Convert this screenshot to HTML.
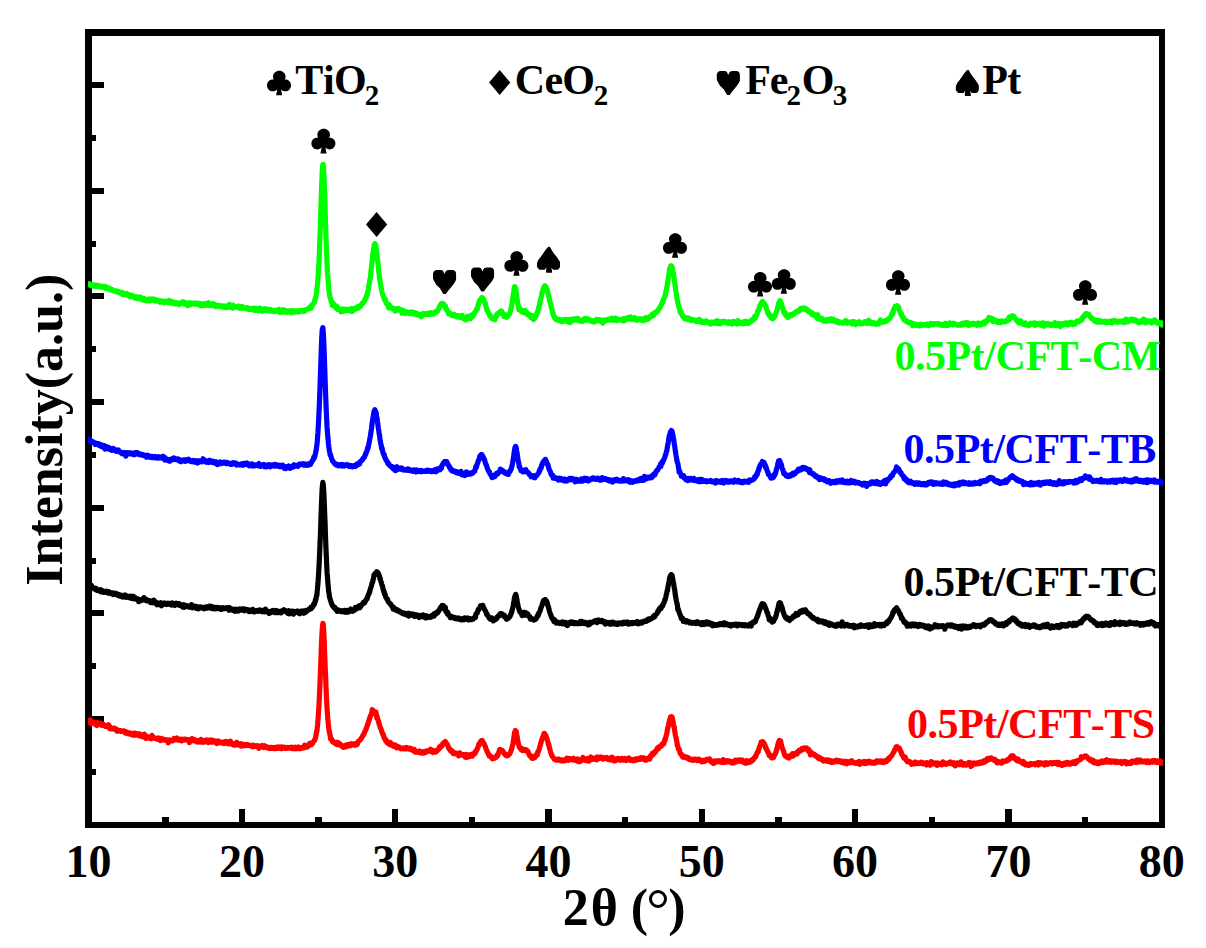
<!DOCTYPE html><html><head><meta charset="utf-8"><style>html,body{margin:0;padding:0;background:#fff;width:1206px;height:948px;overflow:hidden}svg{display:block}text{font-family:"Liberation Serif",serif;font-weight:bold;font-kerning:none}</style></head><body><svg width="1206" height="948" viewBox="0 0 1206 948"><rect width="1206" height="948" fill="#fff"/><g fill="#000" shape-rendering="crispEdges"><rect x="85" y="29" width="7" height="799"/><rect x="85" y="29" width="1080" height="7"/><rect x="1159" y="29" width="6" height="799"/><rect x="85" y="822" width="1080" height="6"/><rect x="162.00" y="817" width="6.5" height="5"/><rect x="238.65" y="809" width="6.5" height="13"/><rect x="315.30" y="817" width="6.5" height="5"/><rect x="391.95" y="809" width="6.5" height="13"/><rect x="468.60" y="817" width="6.5" height="5"/><rect x="545.25" y="809" width="6.5" height="13"/><rect x="621.90" y="817" width="6.5" height="5"/><rect x="698.55" y="809" width="6.5" height="13"/><rect x="775.20" y="817" width="6.5" height="5"/><rect x="851.85" y="809" width="6.5" height="13"/><rect x="928.50" y="817" width="6.5" height="5"/><rect x="1005.15" y="809" width="6.5" height="13"/><rect x="1081.80" y="817" width="6.5" height="5"/><rect x="92" y="82.00" width="12" height="6"/><rect x="92" y="134.83" width="4" height="6"/><rect x="92" y="187.67" width="12" height="6"/><rect x="92" y="240.50" width="4" height="6"/><rect x="92" y="293.34" width="12" height="6"/><rect x="92" y="346.17" width="4" height="6"/><rect x="92" y="399.01" width="12" height="6"/><rect x="92" y="451.84" width="4" height="6"/><rect x="92" y="504.68" width="12" height="6"/><rect x="92" y="557.51" width="4" height="6"/><rect x="92" y="610.35" width="12" height="6"/><rect x="92" y="663.18" width="4" height="6"/><rect x="92" y="716.02" width="12" height="6"/><rect x="92" y="768.85" width="4" height="6"/></g><defs><clipPath id="cp"><rect x="88" y="30" width="1075.2" height="798"/></clipPath></defs><g clip-path="url(#cp)"><polyline fill="none" stroke="#00ff00" stroke-width="5.2" stroke-linejoin="round" stroke-linecap="butt" points="88,284.9 88.35,283.7 88.7,284.5 89.05,283.7 89.4,284.3 89.75,283.9 90.1,284.7 90.45,285.1 90.8,284.6 91.15,285.8 91.5,285.4 91.85,284.9 92.2,285.2 92.55,285.5 92.9,285.7 93.25,286.1 93.6,284.9 93.95,285.6 94.3,284.9 94.65,286.1 95,285.1 95.35,285.9 95.7,285.2 96.05,286.5 96.4,285.4 96.75,285.3 97.1,285.3 97.45,285.7 97.8,285.5 98.15,286.0 98.5,285.4 98.85,285.8 99.2,286.7 99.55,286.4 99.9,286.1 100.25,286.0 100.6,286.1 100.95,286.4 101.3,286.7 101.65,287.0 102,287.3 102.35,287.3 102.7,286.8 103.05,286.5 103.4,287.0 103.75,286.9 104.1,287.1 104.45,286.9 104.8,287.1 105.15,286.4 105.5,286.8 105.85,287.4 106.2,288.7 106.55,287.7 106.9,287.9 107.25,288.0 107.6,287.8 107.95,288.2 108.3,288.3 108.65,288.3 109,288.3 109.35,289.3 109.7,288.2 110.05,289.5 110.4,289.9 110.75,289.4 111.1,290.1 111.45,289.6 111.8,290.0 112.15,290.1 112.5,289.8 112.85,290.2 113.2,290.2 113.55,290.5 113.9,290.9 114.25,291.0 114.6,291.0 114.95,291.0 115.3,291.2 115.65,291.1 116,291.0 116.35,291.3 116.7,291.8 117.05,290.9 117.4,292.0 117.75,291.7 118.1,291.7 118.45,292.2 118.8,292.2 119.15,291.8 119.5,292.8 119.85,293.1 120.2,292.0 120.55,293.2 120.9,293.0 121.25,293.4 121.6,293.9 121.95,293.7 122.3,292.4 122.65,292.7 123,293.9 123.35,294.7 123.7,293.8 124.05,294.2 124.4,293.7 124.75,294.6 125.1,294.2 125.45,294.2 125.8,294.0 126.15,294.8 126.5,294.4 126.85,293.5 127.2,294.9 127.55,294.3 127.9,294.3 128.25,294.4 128.6,294.9 128.95,296.0 129.3,294.8 129.65,295.1 130,295.4 130.35,296.6 130.7,296.4 131.05,295.5 131.4,295.6 131.75,295.8 132.1,295.3 132.45,296.5 132.8,296.7 133.15,296.1 133.5,296.6 133.85,296.7 134.2,296.6 134.55,297.2 134.9,298.1 135.25,298.0 135.6,297.0 135.95,296.8 136.3,297.7 136.65,298.3 137,297.5 137.35,297.4 137.7,298.4 138.05,298.4 138.4,297.9 138.75,298.6 139.1,298.0 139.45,297.0 139.8,297.6 140.15,298.4 140.5,298.3 140.85,297.2 141.2,298.4 141.55,299.2 141.9,298.6 142.25,298.8 142.6,300.0 142.95,298.8 143.3,299.4 143.65,299.1 144,299.9 144.35,298.5 144.7,300.3 145.05,299.4 145.4,300.4 145.75,300.0 146.1,299.9 146.45,299.9 146.8,299.9 147.15,299.7 147.5,301.0 147.85,299.8 148.2,299.8 148.55,300.2 148.9,299.0 149.25,299.1 149.6,300.8 149.95,299.8 150.3,299.4 150.65,300.8 151,299.5 151.35,299.4 151.7,299.1 152.05,299.5 152.4,299.3 152.75,299.7 153.1,299.3 153.45,299.7 153.8,299.6 154.15,299.6 154.5,299.2 154.85,299.5 155.2,300.0 155.55,301.1 155.9,300.5 156.25,300.0 156.6,300.7 156.95,300.6 157.3,300.2 157.65,300.7 158,300.5 158.35,301.3 158.7,301.1 159.05,300.7 159.4,301.2 159.75,300.9 160.1,302.3 160.45,301.3 160.8,300.9 161.15,301.1 161.5,301.2 161.85,301.3 162.2,300.9 162.55,301.2 162.9,301.4 163.25,301.7 163.6,301.4 163.95,302.5 164.3,301.5 164.65,302.4 165,301.6 165.35,302.1 165.7,301.5 166.05,302.0 166.4,301.3 166.75,302.0 167.1,301.3 167.45,301.9 167.8,301.2 168.15,302.6 168.5,301.6 168.85,301.4 169.2,300.5 169.55,301.6 169.9,302.7 170.25,301.8 170.6,302.5 170.95,301.3 171.3,301.9 171.65,303.0 172,302.2 172.35,301.7 172.7,302.7 173.05,302.8 173.4,302.4 173.75,302.8 174.1,303.8 174.45,302.8 174.8,302.5 175.15,303.7 175.5,303.2 175.85,303.3 176.2,303.6 176.55,302.7 176.9,303.1 177.25,303.6 177.6,303.9 177.95,303.2 178.3,303.3 178.65,304.2 179,303.4 179.35,304.6 179.7,303.4 180.05,303.2 180.4,302.9 180.75,302.9 181.1,302.8 181.45,302.8 181.8,303.0 182.15,302.0 182.5,302.4 182.85,302.9 183.2,302.9 183.55,302.7 183.9,302.0 184.25,302.5 184.6,304.2 184.95,303.2 185.3,302.9 185.65,302.7 186,303.9 186.35,303.1 186.7,303.7 187.05,303.8 187.4,304.0 187.75,305.8 188.1,304.1 188.45,303.4 188.8,304.5 189.15,304.5 189.5,304.7 189.85,302.5 190.2,305.0 190.55,304.4 190.9,304.3 191.25,304.2 191.6,304.0 191.95,303.9 192.3,303.1 192.65,303.7 193,303.8 193.35,303.6 193.7,303.2 194.05,303.3 194.4,303.7 194.75,303.5 195.1,304.1 195.45,303.5 195.8,303.6 196.15,303.4 196.5,303.9 196.85,303.0 197.2,304.2 197.55,304.5 197.9,304.6 198.25,304.4 198.6,304.4 198.95,304.1 199.3,304.4 199.65,303.5 200,304.9 200.35,305.4 200.7,304.5 201.05,303.9 201.4,304.8 201.75,304.6 202.1,305.9 202.45,305.0 202.8,303.8 203.15,304.9 203.5,304.8 203.85,305.3 204.2,305.0 204.55,303.7 204.9,304.8 205.25,305.4 205.6,304.8 205.95,304.4 206.3,303.7 206.65,304.9 207,303.8 207.35,304.5 207.7,305.4 208.05,304.8 208.4,302.6 208.75,304.4 209.1,305.7 209.45,304.3 209.8,304.7 210.15,305.2 210.5,304.5 210.85,304.3 211.2,305.1 211.55,305.5 211.9,304.8 212.25,305.0 212.6,305.4 212.95,303.6 213.3,305.3 213.65,305.1 214,305.4 214.35,305.8 214.7,305.1 215.05,304.5 215.4,305.6 215.75,306.5 216.1,305.3 216.45,306.4 216.8,306.3 217.15,306.1 217.5,305.7 217.85,305.8 218.2,305.9 218.55,306.1 218.9,305.3 219.25,306.2 219.6,305.6 219.95,306.3 220.3,306.2 220.65,306.5 221,306.2 221.35,306.0 221.7,306.7 222.05,306.5 222.4,306.8 222.75,306.3 223.1,306.6 223.45,307.1 223.8,306.0 224.15,306.7 224.5,307.2 224.85,307.4 225.2,306.2 225.55,306.7 225.9,307.2 226.25,306.9 226.6,307.4 226.95,306.4 227.3,306.9 227.65,305.7 228,307.4 228.35,305.7 228.7,306.8 229.05,307.0 229.4,304.3 229.75,306.7 230.1,306.9 230.45,306.0 230.8,307.1 231.15,307.0 231.5,306.4 231.85,307.1 232.2,306.7 232.55,306.8 232.9,308.1 233.25,305.0 233.6,306.8 233.95,307.3 234.3,307.4 234.65,306.7 235,307.0 235.35,306.8 235.7,307.0 236.05,307.1 236.4,307.3 236.75,307.0 237.1,306.8 237.45,306.6 237.8,307.1 238.15,306.1 238.5,306.2 238.85,306.7 239.2,306.3 239.55,307.6 239.9,308.3 240.25,307.2 240.6,307.3 240.95,307.3 241.3,307.0 241.65,307.2 242,307.4 242.35,306.7 242.7,308.2 243.05,307.5 243.4,307.6 243.75,307.3 244.1,307.5 244.45,308.3 244.8,307.6 245.15,308.0 245.5,308.4 245.85,308.0 246.2,308.4 246.55,308.0 246.9,308.4 247.25,307.9 247.6,308.8 247.95,307.8 248.3,308.4 248.65,309.6 249,309.1 249.35,308.9 249.7,308.7 250.05,308.8 250.4,309.0 250.75,308.9 251.1,309.1 251.45,309.5 251.8,308.8 252.15,309.2 252.5,309.8 252.85,309.1 253.2,309.6 253.55,308.1 253.9,309.0 254.25,309.7 254.6,309.3 254.95,310.6 255.3,309.2 255.65,308.8 256,308.2 256.35,310.5 256.7,308.4 257.05,309.7 257.4,309.4 257.75,310.0 258.1,310.6 258.45,309.4 258.8,309.1 259.15,310.0 259.5,309.5 259.85,308.1 260.2,310.5 260.55,309.7 260.9,310.0 261.25,309.2 261.6,309.7 261.95,310.1 262.3,311.1 262.65,309.5 263,309.6 263.35,310.1 263.7,309.2 264.05,309.4 264.4,310.2 264.75,310.4 265.1,310.3 265.45,308.7 265.8,309.8 266.15,310.6 266.5,310.1 266.85,309.3 267.2,310.2 267.55,309.6 267.9,309.2 268.25,309.5 268.6,310.7 268.95,309.7 269.3,310.0 269.65,310.3 270,309.4 270.35,310.6 270.7,309.8 271.05,311.0 271.4,310.4 271.75,310.9 272.1,310.9 272.45,310.2 272.8,310.4 273.15,311.3 273.5,310.9 273.85,310.9 274.2,310.7 274.55,311.4 274.9,310.4 275.25,310.8 275.6,311.2 275.95,310.4 276.3,310.5 276.65,310.7 277,310.5 277.35,311.4 277.7,309.9 278.05,310.1 278.4,309.7 278.75,310.3 279.1,309.4 279.45,310.2 279.8,312.3 280.15,310.0 280.5,310.3 280.85,311.4 281.2,310.6 281.55,311.2 281.9,312.4 282.25,310.7 282.6,311.1 282.95,311.0 283.3,309.6 283.65,311.4 284,310.7 284.35,310.9 284.7,311.2 285.05,311.7 285.4,310.6 285.75,311.5 286.1,312.1 286.45,311.9 286.8,311.7 287.15,312.3 287.5,311.5 287.85,310.9 288.2,311.4 288.55,311.3 288.9,311.7 289.25,311.8 289.6,311.5 289.95,310.8 290.3,311.3 290.65,311.9 291,311.3 291.35,312.0 291.7,312.7 292.05,310.7 292.4,311.9 292.75,310.6 293.1,311.1 293.45,311.0 293.8,311.9 294.15,311.1 294.5,311.1 294.85,312.1 295.2,310.9 295.55,311.1 295.9,311.4 296.25,311.0 296.6,311.4 296.95,311.0 297.3,311.3 297.65,311.7 298,311.5 298.35,311.2 298.7,311.3 299.05,311.1 299.4,311.9 299.75,311.5 300.1,310.6 300.45,310.4 300.8,311.1 301.15,310.9 301.5,311.1 301.85,310.8 302.2,310.6 302.55,310.8 302.9,310.7 303.25,310.5 303.6,311.3 303.95,310.5 304.3,310.6 304.65,311.1 305,310.2 305.35,310.4 305.7,309.9 306.05,309.9 306.4,309.4 306.75,309.4 307.1,309.4 307.45,309.1 307.8,309.0 308.15,309.0 308.5,308.3 308.85,308.4 309.2,308.4 309.55,307.6 309.9,307.3 310.25,307.6 310.6,306.7 310.95,308.3 311.3,305.6 311.65,305.5 312,305.8 312.35,305.5 312.7,304.4 313.05,304.3 313.4,303.8 313.75,302.9 314.1,302.8 314.45,301.1 314.8,301.2 315.15,298.2 315.5,298.7 315.85,296.5 316.2,294.6 316.55,292.0 316.9,288.5 317.25,286.4 317.6,283.4 317.95,278.4 318.3,273.5 318.65,267.2 319,260.8 319.35,254.5 319.7,244.2 320.05,235.0 320.4,224.4 320.75,213.7 321.1,202.0 321.45,190.2 321.8,182.3 322.15,172.8 322.5,167.8 322.85,164.5 323,164.4 323.2,164.4 323.55,168.7 323.9,174.9 324.25,183.5 324.6,193.8 324.95,204.9 325.3,216.4 325.65,227.4 326,237.2 326.35,246.6 326.7,255.2 327.05,262.9 327.4,272.2 327.75,275.2 328.1,280.8 328.45,283.9 328.8,289.2 329.15,291.7 329.5,294.1 329.85,296.5 330.2,297.8 330.55,298.5 330.9,300.2 331.25,302.1 331.6,301.5 331.95,301.8 332.3,305.4 332.65,303.3 333,303.1 333.35,303.7 333.7,305.9 334.05,304.4 334.4,306.4 334.75,306.6 335.1,306.6 335.45,306.9 335.8,308.1 336.15,306.7 336.5,306.8 336.85,306.3 337.2,308.2 337.55,308.3 337.9,309.6 338.25,309.0 338.6,308.6 338.95,309.7 339.3,309.1 339.65,309.1 340,309.0 340.35,309.2 340.7,309.3 341.05,311.9 341.4,310.6 341.75,309.4 342.1,309.2 342.45,309.0 342.8,311.5 343.15,309.7 343.5,309.2 343.85,309.3 344.2,309.2 344.55,311.0 344.9,309.5 345.25,309.5 345.6,309.4 345.95,309.8 346.3,309.2 346.65,310.4 347,309.8 347.35,309.7 347.7,310.0 348.05,310.5 348.4,309.4 348.75,309.3 349.1,310.4 349.45,310.5 349.8,310.0 350.15,309.6 350.5,309.4 350.85,311.2 351.2,308.9 351.55,310.5 351.9,308.4 352.25,311.3 352.6,309.5 352.95,308.6 353.3,309.5 353.65,309.2 354,309.3 354.35,309.8 354.7,309.4 355.05,308.5 355.4,308.5 355.75,308.3 356.1,307.7 356.45,308.3 356.8,307.8 357.15,307.9 357.5,308.3 357.85,306.5 358.2,306.4 358.55,307.9 358.9,307.2 359.25,307.3 359.6,306.6 359.95,306.6 360.3,305.5 360.65,306.3 361,305.5 361.35,304.6 361.7,304.5 362.05,303.5 362.4,303.6 362.75,303.6 363.1,302.8 363.45,302.3 363.8,302.0 364.15,301.4 364.5,300.3 364.85,299.9 365.2,299.9 365.55,298.4 365.9,298.0 366.25,297.2 366.6,295.4 366.95,294.2 367.3,294.5 367.65,291.5 368,290.8 368.35,288.9 368.7,286.7 369.05,284.8 369.4,283.0 369.75,280.4 370.1,278.7 370.45,277.5 370.8,273.0 371.15,269.9 371.5,266.8 371.85,263.8 372.2,260.6 372.55,257.0 372.9,253.5 373.25,251.2 373.6,248.8 373.95,246.7 374.3,244.5 374.65,245.1 374.9,243.7 375,243.7 375.35,244.5 375.7,245.0 376.05,248.2 376.4,249.9 376.75,253.0 377.1,255.6 377.45,259.0 377.8,260.9 378.15,265.4 378.5,269.1 378.85,272.3 379.2,274.5 379.55,277.9 379.9,280.4 380.25,282.6 380.6,284.8 380.95,286.4 381.3,288.8 381.65,289.4 382,292.1 382.35,293.4 382.7,294.1 383.05,295.3 383.4,296.4 383.75,297.2 384.1,298.2 384.45,299.4 384.8,299.5 385.15,299.3 385.5,301.0 385.85,302.2 386.2,303.0 386.55,303.2 386.9,304.3 387.25,304.1 387.6,304.4 387.95,305.4 388.3,305.1 388.65,308.0 389,304.4 389.35,307.0 389.7,305.6 390.05,307.0 390.4,307.6 390.75,307.0 391.1,308.0 391.45,307.6 391.8,308.4 392.15,308.7 392.5,308.3 392.85,308.9 393.2,308.9 393.55,308.9 393.9,308.5 394.25,309.2 394.6,309.3 394.95,311.0 395.3,309.1 395.65,309.5 396,309.4 396.35,310.6 396.7,309.3 397.05,309.4 397.4,308.8 397.75,310.0 398.1,309.1 398.45,308.4 398.8,308.6 399.15,309.0 399.5,309.2 399.85,309.6 400.2,309.6 400.55,309.6 400.9,310.4 401.25,309.7 401.6,311.0 401.95,313.0 402.3,310.8 402.65,311.0 403,311.0 403.35,311.7 403.7,310.7 404.05,311.7 404.4,311.3 404.75,312.2 405.1,313.5 405.45,312.6 405.8,313.1 406.15,312.2 406.5,312.6 406.85,311.9 407.2,312.4 407.55,312.7 407.9,312.4 408.25,312.8 408.6,312.8 408.95,313.4 409.3,313.0 409.65,312.6 410,312.3 410.35,313.0 410.7,312.3 411.05,313.7 411.4,313.0 411.75,312.8 412.1,311.9 412.45,312.3 412.8,313.2 413.15,313.5 413.5,312.4 413.85,313.3 414.2,313.0 414.55,314.1 414.9,313.5 415.25,313.0 415.6,313.4 415.95,313.1 416.3,314.0 416.65,314.8 417,314.4 417.35,314.3 417.7,314.1 418.05,314.9 418.4,314.4 418.75,315.2 419.1,315.1 419.45,314.5 419.8,314.5 420.15,314.9 420.5,314.7 420.85,315.5 421.2,316.8 421.55,314.4 421.9,315.0 422.25,314.2 422.6,314.2 422.95,313.4 423.3,314.1 423.65,314.7 424,314.4 424.35,314.1 424.7,314.0 425.05,314.0 425.4,313.8 425.75,314.2 426.1,313.7 426.45,313.4 426.8,313.8 427.15,314.1 427.5,314.5 427.85,314.4 428.2,314.1 428.55,313.4 428.9,314.0 429.25,313.3 429.6,314.5 429.95,314.0 430.3,313.8 430.65,312.6 431,314.0 431.35,313.9 431.7,313.0 432.05,313.9 432.4,313.6 432.75,313.3 433.1,313.5 433.45,314.0 433.8,313.3 434.15,313.1 434.5,312.1 434.85,312.4 435.2,312.5 435.55,312.0 435.9,312.6 436.25,311.7 436.6,311.2 436.95,310.9 437.3,310.5 437.65,311.1 438,309.6 438.35,309.5 438.7,308.4 439.05,308.4 439.4,306.6 439.75,306.7 440.1,306.5 440.45,305.3 440.8,304.1 441.15,304.8 441.5,303.9 441.85,303.4 442.2,303.6 442.55,303.7 442.9,303.5 443.25,303.6 443.6,304.1 443.95,305.0 444.3,305.2 444.65,306.3 445,306.7 445.35,305.8 445.7,308.6 446.05,308.1 446.4,309.2 446.75,310.2 447.1,310.8 447.45,310.7 447.8,311.5 448.15,311.7 448.5,313.9 448.85,312.5 449.2,313.5 449.55,313.2 449.9,313.0 450.25,313.8 450.6,314.4 450.95,314.2 451.3,314.6 451.65,315.4 452,315.6 452.35,315.3 452.7,315.0 453.05,314.5 453.4,315.1 453.75,315.1 454.1,314.2 454.45,316.1 454.8,315.8 455.15,315.8 455.5,315.8 455.85,316.1 456.2,316.1 456.55,315.8 456.9,316.7 457.25,315.7 457.6,315.6 457.95,316.9 458.3,316.1 458.65,315.9 459,316.2 459.35,317.0 459.7,317.3 460.05,316.1 460.4,317.1 460.75,316.2 461.1,316.8 461.45,317.3 461.8,316.9 462.15,315.4 462.5,317.0 462.85,316.5 463.2,318.5 463.55,317.7 463.9,318.2 464.25,318.0 464.6,318.9 464.95,319.5 465.3,318.3 465.65,318.2 466,319.9 466.35,318.7 466.7,318.9 467.05,319.2 467.4,318.5 467.75,316.1 468.1,318.2 468.45,317.4 468.8,318.3 469.15,318.4 469.5,318.0 469.85,317.5 470.2,318.9 470.55,317.1 470.9,316.5 471.25,317.0 471.6,314.9 471.95,317.3 472.3,314.9 472.65,315.6 473,315.2 473.35,315.6 473.7,314.3 474.05,314.2 474.4,313.0 474.75,312.7 475.1,312.0 475.45,311.3 475.8,311.2 476.15,309.8 476.5,309.6 476.85,308.4 477.2,308.4 477.55,308.5 477.9,305.6 478.25,305.2 478.6,303.0 478.95,303.2 479.3,301.0 479.65,301.5 480,299.9 480.35,300.7 480.7,299.8 481.05,298.5 481.4,298.2 481.75,297.9 482,297.6 482.1,297.8 482.45,297.9 482.8,298.2 483.15,298.9 483.5,298.9 483.85,301.4 484.2,301.1 484.55,302.2 484.9,302.3 485.25,303.0 485.6,305.2 485.95,306.4 486.3,307.0 486.65,309.7 487,309.3 487.35,310.4 487.7,311.2 488.05,312.3 488.4,313.0 488.75,313.3 489.1,313.9 489.45,315.1 489.8,315.9 490.15,314.8 490.5,316.1 490.85,316.8 491.2,316.7 491.55,317.8 491.9,318.5 492.25,318.0 492.6,318.2 492.95,317.9 493.3,318.2 493.65,319.0 494,318.7 494.35,318.8 494.7,318.1 495.05,319.7 495.4,317.2 495.75,317.1 496.1,316.5 496.45,314.9 496.8,315.2 497.15,315.3 497.5,313.6 497.85,314.1 498.2,314.1 498.55,313.0 498.9,313.4 499.25,313.0 499.6,311.8 499.95,311.7 500.3,312.1 500.4,311.6 500.65,311.3 501,311.5 501.35,312.3 501.7,311.0 502.05,313.7 502.4,313.2 502.75,313.2 503.1,314.1 503.45,313.8 503.8,316.5 504.15,313.9 504.5,315.6 504.85,315.1 505.2,316.3 505.55,315.3 505.9,316.9 506.25,317.3 506.6,315.8 506.95,316.0 507.3,316.8 507.65,316.3 508,315.6 508.35,314.7 508.7,314.2 509.05,314.6 509.4,313.7 509.75,313.0 510.1,311.9 510.45,311.2 510.8,309.6 511.15,307.5 511.5,306.8 511.85,304.3 512.2,302.7 512.55,299.7 512.9,297.8 513.25,295.2 513.6,292.7 513.95,290.7 514.3,287.6 514.65,286.6 514.9,287.3 515,286.7 515.35,288.0 515.7,288.7 516.05,290.9 516.4,293.5 516.75,295.3 517.1,298.9 517.45,302.0 517.8,303.7 518.15,304.9 518.5,305.7 518.85,309.8 519.2,308.1 519.55,308.7 519.9,309.2 520.25,309.0 520.6,310.1 520.95,310.5 521.3,311.5 521.65,311.1 522,311.0 522.35,311.0 522.7,311.7 523.05,312.1 523.4,311.0 523.75,312.6 524.1,311.9 524.45,311.6 524.8,311.5 525.1,310.3 525.15,311.9 525.5,312.5 525.85,312.7 526.2,313.7 526.55,312.3 526.9,313.3 527.25,313.6 527.6,314.2 527.95,314.9 528.3,315.0 528.65,314.6 529,315.3 529.35,314.3 529.7,315.6 530.05,316.0 530.4,316.5 530.75,317.5 531.1,317.4 531.45,316.0 531.8,317.5 532.15,317.4 532.5,317.5 532.85,315.6 533.2,318.1 533.55,319.7 533.9,317.9 534.25,317.0 534.6,317.1 534.95,317.9 535.3,317.0 535.65,316.6 536,315.9 536.35,315.3 536.7,314.8 537.05,312.8 537.4,313.0 537.75,311.2 538.1,310.1 538.45,308.0 538.8,308.6 539.15,306.0 539.5,305.1 539.85,303.6 540.2,300.8 540.55,299.9 540.9,298.3 541.25,297.2 541.6,295.4 541.95,293.3 542.3,292.0 542.65,290.9 543,289.6 543.35,288.7 543.7,287.8 544.05,286.9 544.4,286.1 544.75,285.7 544.8,287.1 545.1,286.0 545.45,286.1 545.8,287.0 546.15,287.4 546.5,288.2 546.85,289.6 547.2,289.6 547.55,291.5 547.9,292.8 548.25,294.1 548.6,295.8 548.95,297.0 549.3,298.9 549.65,301.2 550,302.0 550.35,302.6 550.7,304.2 551.05,306.4 551.4,307.7 551.75,308.5 552.1,309.9 552.45,312.9 552.8,312.8 553.15,313.4 553.5,316.0 553.85,315.6 554.2,316.8 554.55,317.5 554.9,318.4 555.25,318.1 555.6,319.1 555.95,319.6 556.3,319.1 556.65,319.5 557,319.4 557.35,319.5 557.7,319.7 558.05,319.0 558.4,319.3 558.75,320.6 559.1,319.7 559.45,320.4 559.8,320.5 560.15,320.5 560.5,319.8 560.85,320.8 561.2,320.6 561.55,321.6 561.9,320.6 562.25,320.2 562.6,320.3 562.95,321.4 563.3,320.0 563.65,320.1 564,320.2 564.35,320.3 564.7,319.8 565.05,320.4 565.4,319.4 565.75,320.3 566.1,321.1 566.45,320.6 566.8,321.5 567.15,319.5 567.5,320.7 567.85,320.2 568.2,319.6 568.55,319.5 568.9,321.4 569.25,322.4 569.6,320.6 569.95,321.0 570.3,322.5 570.65,319.7 571,320.1 571.35,320.9 571.7,319.3 572.05,319.7 572.4,319.0 572.75,319.6 573.1,319.9 573.45,320.4 573.8,320.0 574.15,319.4 574.5,319.2 574.85,319.2 575.2,318.7 575.55,319.2 575.9,319.8 576.25,319.4 576.6,319.9 576.95,319.5 577.3,319.8 577.65,319.4 578,318.4 578.35,319.7 578.7,319.8 579.05,320.0 579.4,320.9 579.75,320.5 580.1,320.4 580.45,320.3 580.8,320.4 581.15,320.1 581.5,320.3 581.85,320.2 582.2,321.5 582.55,320.3 582.9,320.0 583.25,319.9 583.6,320.0 583.95,319.7 584.3,318.8 584.65,320.2 585,319.1 585.35,318.6 585.7,319.4 586.05,319.0 586.4,320.3 586.75,319.5 587.1,318.9 587.45,318.9 587.8,318.7 588.15,319.7 588.5,319.5 588.85,319.6 589.2,319.8 589.55,320.3 589.9,320.2 590.25,320.7 590.6,320.9 590.95,320.3 591.3,321.3 591.65,320.5 592,321.3 592.35,321.4 592.7,321.0 593.05,321.7 593.4,321.5 593.75,321.2 594.1,321.7 594.45,321.5 594.8,321.8 595.15,321.5 595.5,320.9 595.85,320.3 596.2,319.4 596.55,319.6 596.9,320.3 597.25,320.9 597.6,320.8 597.95,320.7 598,320.4 598.3,320.4 598.65,320.6 599,319.8 599.35,320.4 599.7,319.7 600.05,321.0 600.4,321.0 600.75,320.2 601.1,320.6 601.45,321.5 601.8,320.5 602.15,320.8 602.5,320.5 602.85,323.1 603.2,320.4 603.55,322.0 603.9,320.8 604.25,320.8 604.6,320.0 604.95,321.1 605.3,320.0 605.65,320.8 606,320.1 606.35,320.0 606.7,320.0 607.05,319.8 607.4,319.8 607.75,319.9 608.1,319.4 608.45,320.0 608.8,319.3 609.15,319.8 609.5,319.4 609.85,319.8 610.2,320.1 610.55,319.8 610.9,320.1 611.25,320.0 611.6,319.5 611.95,318.1 612.3,319.6 612.65,319.7 613,319.6 613.35,319.2 613.7,319.5 614.05,320.2 614.4,319.5 614.75,318.9 615.1,319.8 615.45,318.1 615.8,320.3 616.15,319.5 616.5,320.0 616.85,319.5 617.2,319.1 617.55,320.5 617.9,319.9 618.25,320.2 618.6,320.0 618.95,319.4 619.3,319.7 619.65,319.7 620,319.6 620.35,319.7 620.7,319.8 621.05,319.5 621.4,319.8 621.75,320.3 622.1,319.5 622.45,319.5 622.8,319.0 623.15,319.5 623.5,319.2 623.85,321.0 624.2,320.1 624.55,318.4 624.9,320.0 625.25,319.6 625.6,318.5 625.95,319.7 626.3,319.4 626.65,319.2 627,319.1 627.35,318.2 627.7,317.7 628.05,318.1 628.4,318.4 628.75,317.8 629.1,318.7 629.45,317.7 629.8,318.4 630.15,318.5 630.5,316.8 630.85,319.1 631.2,318.7 631.55,318.3 631.9,319.2 632.25,318.7 632.6,318.2 632.95,319.2 633.3,318.5 633.65,319.1 634,318.7 634.35,318.8 634.7,317.6 635.05,318.8 635.4,319.8 635.75,319.1 636.1,319.4 636.45,318.8 636.8,319.2 637.15,320.2 637.5,319.7 637.85,319.3 638.2,319.0 638.55,319.6 638.9,318.9 639.25,318.8 639.6,319.6 639.95,319.1 640.3,318.9 640.65,319.8 641,319.4 641.35,319.7 641.7,320.2 642.05,319.9 642.4,320.3 642.75,319.0 643.1,319.7 643.45,320.5 643.8,319.4 644.15,319.4 644.5,318.6 644.85,319.2 645.2,318.9 645.55,317.6 645.9,319.8 646.25,318.8 646.6,319.1 646.95,319.4 647.3,318.6 647.65,319.1 648,318.4 648.35,319.1 648.7,318.0 649.05,317.9 649.4,316.6 649.75,316.9 650.1,317.2 650.45,316.4 650.8,317.0 651.15,316.4 651.5,316.3 651.85,316.2 652.2,314.1 652.55,315.5 652.9,314.9 653.25,314.6 653.6,315.3 653.95,314.3 654.3,313.6 654.65,312.7 655,312.6 655.35,313.0 655.7,313.0 656.05,312.2 656.4,312.0 656.75,311.4 657.1,311.6 657.45,311.5 657.8,310.3 658.15,310.1 658.5,309.3 658.85,309.4 659.2,308.6 659.55,308.2 659.9,307.7 660.25,306.7 660.6,306.6 660.95,305.4 661,305.1 661.3,305.0 661.65,304.6 662,303.1 662.35,303.0 662.7,301.3 663.05,300.9 663.4,299.1 663.75,299.1 664.1,298.0 664.45,297.4 664.8,296.8 665.15,295.1 665.5,294.6 665.85,292.0 666.2,290.0 666.55,289.1 666.9,286.8 667.25,285.4 667.6,282.8 667.95,280.4 668.3,278.6 668.65,275.7 669,274.5 669.35,271.6 669.7,268.3 670.05,268.8 670.4,267.0 670.75,266.0 671.1,265.6 671.4,265.8 671.45,265.9 671.8,266.0 672.15,267.2 672.5,268.6 672.85,271.0 673.2,272.8 673.55,275.3 673.9,275.9 674.25,279.4 674.6,282.5 674.95,284.4 675.3,286.8 675.65,290.1 676,291.7 676.35,293.4 676.7,295.9 677.05,298.7 677.4,300.4 677.75,302.5 678.1,303.1 678.45,305.4 678.8,306.0 679.15,308.2 679.5,308.9 679.85,309.8 680.2,312.4 680.55,311.5 680.9,312.0 681.25,313.4 681.6,314.1 681.95,314.9 682.3,315.4 682.65,315.7 683,316.8 683.35,316.5 683.7,316.6 684.05,317.2 684.4,317.6 684.75,318.9 685.1,318.2 685.45,318.3 685.8,318.0 686.15,318.5 686.5,317.8 686.85,318.7 687.2,319.4 687.55,318.4 687.9,318.9 688.25,319.2 688.6,317.9 688.95,319.4 689.3,318.9 689.65,319.4 690,319.9 690.35,319.2 690.7,319.9 691.05,320.5 691.4,319.2 691.75,319.5 692.1,320.2 692.45,320.2 692.8,319.8 693.15,319.8 693.5,320.1 693.85,320.7 694.2,320.7 694.55,320.6 694.9,320.1 695.25,320.2 695.6,320.7 695.95,321.2 696.3,320.8 696.65,321.2 697,320.9 697.35,320.0 697.7,320.0 698.05,321.0 698.4,321.2 698.75,321.6 699.1,320.9 699.45,319.3 699.8,321.4 700.15,321.1 700.5,321.7 700.85,321.2 701.2,322.2 701.55,322.4 701.9,321.4 702.25,322.0 702.6,322.1 702.95,321.3 703.3,322.0 703.65,321.7 704,321.6 704.35,322.0 704.7,322.6 705.05,321.7 705.4,321.6 705.75,322.2 706.1,320.8 706.45,321.6 706.8,321.5 707.15,322.2 707.5,322.0 707.85,321.9 708.2,322.1 708.55,322.3 708.9,323.0 709.25,322.2 709.6,322.7 709.95,322.6 710.3,322.9 710.65,324.0 711,322.3 711.35,322.7 711.7,323.6 712.05,322.0 712.4,322.9 712.75,323.1 713.1,323.1 713.45,322.7 713.8,323.1 714.15,322.6 714.5,323.0 714.85,323.3 715.2,322.0 715.55,321.4 715.9,322.3 716.25,322.9 716.6,323.4 716.95,323.3 717.3,320.5 717.65,323.0 718,322.1 718.35,322.2 718.7,323.7 719.05,322.4 719.4,322.5 719.75,321.7 720.1,324.0 720.45,322.3 720.8,322.0 721.15,322.4 721.5,322.0 721.85,321.6 722.2,321.5 722.55,322.0 722.9,321.7 723.25,321.2 723.6,321.4 723.95,322.6 724.3,321.7 724.65,321.6 725,321.9 725.35,322.1 725.7,321.9 726.05,322.2 726.4,322.6 726.75,322.0 727.1,322.6 727.45,323.1 727.8,322.8 728.15,323.4 728.5,322.7 728.85,321.8 729.2,323.3 729.55,322.2 729.9,323.1 730.25,323.0 730.6,322.2 730.95,322.7 731.3,322.3 731.65,322.5 732,324.1 732.35,322.4 732.7,322.1 733.05,321.6 733.4,322.2 733.75,322.4 734.1,322.5 734.45,322.8 734.8,322.2 735.15,321.7 735.5,322.6 735.85,322.7 736.2,322.4 736.55,323.7 736.9,324.0 737.25,323.8 737.6,322.1 737.95,320.6 738.3,322.8 738.65,323.2 739,322.9 739.35,323.5 739.7,323.4 740.05,322.6 740.4,322.2 740.75,322.7 741.1,322.8 741.45,323.0 741.8,322.7 742.15,322.6 742.5,322.2 742.85,323.9 743.2,322.2 743.55,322.3 743.9,321.9 744.25,321.6 744.6,323.4 744.95,322.5 745.3,322.6 745.65,322.5 746,323.3 746.35,321.2 746.7,322.8 747.05,322.1 747.4,322.8 747.75,322.8 748.1,322.8 748.45,323.4 748.8,322.7 749.15,322.0 749.5,322.1 749.85,321.6 750.2,321.6 750.55,321.4 750.9,321.8 751.25,320.4 751.6,320.7 751.95,320.1 752.3,320.4 752.65,320.3 753,319.2 753.35,319.4 753.7,319.7 754.05,318.7 754.4,317.9 754.75,316.4 755.1,318.0 755.45,317.1 755.8,316.2 756.15,315.8 756.5,315.1 756.85,314.3 757.2,313.7 757.55,311.4 757.9,310.9 758.25,310.4 758.6,310.2 758.95,309.0 759.3,307.5 759.65,306.8 760,305.5 760.35,304.7 760.7,304.2 761.05,303.9 761.4,303.0 761.75,302.7 762.1,301.7 762.45,301.4 762.6,302.2 762.8,302.5 763.15,303.1 763.5,302.5 763.85,302.9 764.2,303.7 764.55,304.4 764.9,305.6 765.25,305.2 765.6,306.7 765.95,306.2 766.3,308.9 766.65,309.7 767,310.4 767.35,310.7 767.7,312.9 768.05,313.7 768.4,313.1 768.75,313.5 769.1,313.5 769.45,315.5 769.8,316.3 770.15,316.4 770.5,316.4 770.85,317.4 771.2,317.9 771.55,318.0 771.9,317.9 772.25,317.3 772.6,318.9 772.95,316.1 773.3,317.8 773.65,318.0 774,317.0 774.35,317.0 774.7,316.4 775.05,315.5 775.4,314.9 775.75,314.2 776.1,312.4 776.45,311.6 776.8,310.8 777.15,310.0 777.5,308.0 777.85,306.1 778.2,306.0 778.55,303.2 778.9,303.0 779.25,302.8 779.6,301.3 779.95,301.7 780,300.6 780.3,301.0 780.65,301.9 781,303.9 781.35,303.7 781.7,304.6 782.05,306.0 782.4,307.5 782.75,307.6 783.1,309.6 783.45,310.3 783.8,312.3 784.15,311.9 784.5,313.3 784.85,313.7 785.2,312.5 785.55,315.3 785.9,314.8 786.25,315.5 786.6,315.2 786.95,314.9 787.3,316.5 787.65,316.1 788,317.5 788.35,316.3 788.7,316.0 789.05,316.4 789.4,315.7 789.75,316.0 790.1,314.7 790.45,314.6 790.8,315.1 791.15,314.8 791.5,315.6 791.85,314.4 792.2,314.7 792.55,314.2 792.9,314.0 793.25,314.5 793.6,313.7 793.95,313.4 794.3,313.5 794.65,312.6 795,312.6 795.35,312.6 795.7,312.6 796.05,311.9 796.4,311.8 796.75,311.0 797.1,311.0 797.45,311.5 797.8,311.0 798.15,311.2 798.5,311.6 798.85,310.0 799.2,310.0 799.55,309.9 799.9,310.4 800.25,308.7 800.6,308.9 800.95,309.1 801.3,308.8 801.65,308.5 802,308.2 802.35,308.1 802.7,308.1 803.05,308.9 803.2,308.2 803.4,307.8 803.75,307.8 804.1,309.1 804.45,308.2 804.8,308.4 805.15,308.6 805.5,308.2 805.85,309.2 806.2,310.0 806.55,310.1 806.9,310.2 807.25,310.4 807.6,310.8 807.95,310.0 808.3,310.8 808.65,311.0 809,311.3 809.35,312.1 809.7,311.8 810.05,312.2 810.4,312.1 810.75,312.9 811.1,312.1 811.45,313.2 811.8,314.6 812.15,314.3 812.5,313.4 812.85,314.0 813.2,313.7 813.55,314.7 813.9,313.9 814.25,314.9 814.6,315.8 814.95,315.2 815.3,315.6 815.65,315.8 816,315.8 816.35,315.5 816.7,316.3 817.05,317.2 817.4,318.5 817.75,314.7 818.1,316.9 818.45,317.2 818.8,318.4 819.15,317.7 819.5,318.6 819.85,318.3 820.2,319.5 820.55,319.6 820.9,319.0 821.25,319.1 821.6,319.2 821.95,318.3 822.3,319.3 822.65,320.1 823,320.2 823.35,321.1 823.7,320.1 824.05,321.2 824.4,321.2 824.75,320.4 825.1,320.9 825.45,320.6 825.8,320.0 826.15,321.2 826.5,320.3 826.85,321.1 827.2,319.7 827.55,320.6 827.9,320.6 828.25,319.8 828.6,320.2 828.95,319.8 829.3,320.6 829.65,320.2 830,320.0 830.35,319.7 830.7,320.5 831.05,318.7 831.4,320.1 831.75,320.8 832.1,319.5 832.45,320.4 832.8,320.0 833.15,319.5 833.5,319.3 833.85,320.2 834.2,320.5 834.55,320.8 834.9,320.7 835.25,321.6 835.6,321.3 835.95,321.3 836.3,321.6 836.65,320.7 837,321.7 837.35,321.3 837.7,321.8 838.05,321.9 838.4,322.9 838.75,322.4 839.1,321.7 839.45,322.9 839.8,322.2 840.15,322.6 840.5,322.8 840.85,322.5 841.2,322.3 841.55,322.4 841.9,323.0 842.25,323.0 842.6,322.8 842.95,322.7 843.3,323.2 843.65,323.1 844,322.8 844.35,322.7 844.7,322.7 845.05,320.9 845.4,322.6 845.75,322.7 846.1,320.5 846.45,322.7 846.8,322.2 847.15,323.2 847.5,322.3 847.85,322.3 848.2,322.3 848.55,322.3 848.9,322.2 849.25,322.2 849.6,322.6 849.95,322.4 850.3,322.5 850.65,322.9 851,322.6 851.35,322.5 851.7,323.4 852.05,324.0 852.4,321.6 852.75,323.4 853.1,323.7 853.45,322.7 853.8,323.5 854.15,321.6 854.5,323.3 854.85,322.1 855.2,323.4 855.55,324.5 855.9,323.0 856.25,323.0 856.6,322.5 856.95,323.0 857.3,323.2 857.65,322.7 858,323.2 858.35,322.9 858.7,322.0 859.05,321.7 859.4,322.8 859.75,323.4 860.1,323.1 860.45,323.2 860.8,323.2 861.15,323.7 861.5,323.5 861.85,323.0 862.2,323.0 862.55,323.3 862.9,323.6 863.25,323.7 863.6,323.0 863.95,323.0 864.3,322.9 864.65,321.6 865,322.1 865.35,322.7 865.7,322.3 866.05,322.8 866.4,322.7 866.75,321.5 867.1,322.2 867.45,323.5 867.8,322.5 868.15,322.6 868.5,322.3 868.85,320.2 869.2,321.9 869.55,322.4 869.9,321.4 870.25,323.3 870.6,322.5 870.95,323.1 871.3,322.6 871.65,322.6 872,322.9 872.35,323.7 872.7,323.5 873.05,322.7 873.4,322.7 873.75,323.3 874.1,322.7 874.45,323.8 874.8,324.0 875.15,323.5 875.5,324.3 875.85,323.5 876.2,323.3 876.55,323.1 876.9,323.0 877.25,322.9 877.6,323.0 877.95,322.9 878.3,322.7 878.65,324.1 879,322.7 879.35,322.3 879.7,323.0 880.05,321.8 880.4,319.9 880.75,322.1 881.1,322.5 881.45,322.2 881.8,322.1 882.15,322.1 882.5,322.2 882.85,322.2 883.2,321.9 883.55,322.1 883.9,321.4 884.25,321.5 884.6,321.5 884.95,321.3 885.3,320.7 885.65,321.1 886,321.1 886.35,321.3 886.7,320.3 887.05,320.5 887.4,320.4 887.75,319.9 888.1,319.4 888.45,319.4 888.8,318.3 889.15,318.3 889.5,318.8 889.85,318.3 890.2,317.7 890.55,317.3 890.9,316.2 891.25,316.1 891.6,314.2 891.95,313.7 892.3,314.6 892.65,312.1 893,312.9 893.35,310.1 893.7,309.9 894.05,308.9 894.4,308.5 894.75,307.4 895.1,306.4 895.45,306.5 895.8,306.5 896.15,307.3 896.5,306.3 896.6,306.1 896.85,307.1 897.2,305.6 897.55,307.1 897.9,306.8 898.25,307.3 898.6,307.0 898.95,308.8 899.3,310.4 899.65,311.0 900,311.8 900.35,312.5 900.7,313.5 901.05,314.6 901.4,313.7 901.75,315.6 902.1,316.1 902.45,316.8 902.8,317.7 903.15,317.9 903.5,317.4 903.85,320.0 904.2,319.4 904.55,319.5 904.9,320.0 905.25,320.6 905.6,320.3 905.95,320.3 906.3,321.6 906.65,321.1 907,321.5 907.35,321.3 907.7,321.4 908.05,322.3 908.4,322.3 908.75,322.7 909.1,322.7 909.45,322.4 909.8,322.6 910.15,322.9 910.5,323.0 910.85,322.6 911.2,323.7 911.55,324.4 911.9,323.1 912.25,323.4 912.6,323.6 912.95,325.7 913.3,324.9 913.65,324.3 914,325.2 914.35,324.7 914.7,324.1 915.05,324.5 915.4,324.5 915.75,325.2 916.1,324.9 916.45,324.5 916.8,324.7 917.15,325.5 917.5,324.6 917.85,325.3 918.2,325.1 918.55,325.7 918.9,325.2 919.25,325.1 919.6,324.4 919.95,325.9 920.3,325.9 920.65,324.9 921,324.3 921.35,324.5 921.7,324.6 922.05,325.0 922.4,325.1 922.75,324.7 923.1,324.5 923.45,325.0 923.8,324.8 924.15,325.1 924.5,325.1 924.85,325.4 925.2,324.6 925.55,324.7 925.9,324.6 926.25,324.6 926.6,324.6 926.95,324.4 927.3,323.9 927.65,324.4 928,324.4 928.35,324.9 928.7,325.7 929.05,324.9 929.4,324.4 929.75,324.8 930.1,324.3 930.45,323.5 930.8,324.4 931.15,324.7 931.5,324.5 931.85,323.6 932.2,324.5 932.55,324.6 932.9,324.4 933.25,323.7 933.6,324.5 933.95,324.3 934.3,324.2 934.65,323.7 935,324.0 935.35,323.8 935.7,323.7 936.05,324.0 936.4,323.9 936.75,323.9 937.1,323.9 937.45,323.6 937.8,323.4 938.15,323.8 938.5,324.1 938.85,324.6 939.2,324.5 939.55,324.2 939.9,324.1 940.25,324.7 940.6,324.9 940.95,324.8 941.3,324.5 941.65,324.8 942,325.4 942.35,324.7 942.7,324.5 943.05,324.8 943.4,325.1 943.75,324.8 944.1,325.0 944.45,324.9 944.8,323.8 945.15,323.7 945.5,325.7 945.85,323.2 946.2,323.5 946.55,323.9 946.9,324.1 947.25,324.6 947.6,324.0 947.95,325.5 948.3,323.6 948.65,323.9 949,324.8 949.35,324.1 949.7,322.8 950.05,324.7 950.4,323.8 950.75,324.1 951.1,324.0 951.45,324.1 951.8,324.3 952.15,324.0 952.5,323.8 952.85,323.6 953.2,324.8 953.55,323.2 953.9,324.2 954.25,324.1 954.6,324.4 954.95,324.6 955.3,324.0 955.65,324.1 956,324.6 956.35,324.8 956.7,324.5 957.05,324.8 957.4,324.9 957.75,325.3 958.1,325.0 958.45,325.0 958.8,325.1 959.15,325.2 959.5,325.0 959.85,324.5 960.2,325.1 960.55,325.3 960.9,325.0 961.25,324.6 961.6,323.6 961.95,324.8 962.3,324.3 962.65,324.8 963,323.3 963.35,323.3 963.7,324.4 964.05,323.0 964.4,323.4 964.75,323.2 965.1,323.3 965.45,323.1 965.8,323.8 966.15,322.8 966.5,324.4 966.85,323.1 967.2,323.1 967.55,322.8 967.9,324.2 968.25,323.5 968.6,324.1 968.95,325.5 969.3,323.6 969.65,323.5 970,323.9 970.35,324.1 970.7,324.1 971.05,323.5 971.4,324.4 971.75,324.3 972.1,323.6 972.45,324.1 972.8,323.9 973.15,324.1 973.5,324.1 973.85,323.3 974.2,323.9 974.55,324.2 974.9,323.6 975.25,323.8 975.6,324.4 975.95,324.2 976.3,323.7 976.65,324.2 977,325.2 977.35,324.2 977.7,324.3 978.05,324.3 978.4,322.9 978.75,323.7 979.1,324.7 979.45,323.9 979.8,324.6 980.15,323.8 980.5,323.7 980.85,324.8 981.2,323.9 981.55,323.2 981.9,323.6 982.25,323.8 982.6,323.9 982.95,323.4 983.3,323.2 983.65,323.0 984,322.0 984.35,324.0 984.7,321.6 985.05,321.5 985.4,322.0 985.75,321.3 986.1,322.1 986.45,321.5 986.8,320.4 987.15,320.8 987.5,320.5 987.85,320.1 988.2,319.7 988.55,318.8 988.9,317.5 989.25,318.9 989.6,319.0 989.95,319.4 990,318.5 990.3,318.6 990.65,319.2 991,318.0 991.35,318.8 991.7,319.5 992.05,318.6 992.4,319.3 992.75,319.0 993.1,321.7 993.45,319.5 993.8,321.2 994.15,319.5 994.5,320.6 994.85,321.3 995.2,321.4 995.55,320.8 995.9,320.6 996.25,320.6 996.6,321.1 996.95,321.1 997.3,322.2 997.65,321.6 998,322.6 998.35,321.9 998.7,321.3 999.05,321.8 999.4,321.2 999.75,322.4 1000.1,321.1 1000.45,321.9 1000.8,321.8 1001.15,322.5 1001.5,320.8 1001.85,321.6 1002.2,322.0 1002.55,321.6 1002.9,321.7 1003.25,321.9 1003.6,321.3 1003.95,321.7 1004.3,321.6 1004.65,321.5 1005,321.5 1005.35,321.5 1005.7,321.7 1006.05,321.1 1006.4,320.8 1006.75,320.3 1007.1,320.5 1007.45,320.8 1007.8,319.9 1008.15,319.4 1008.5,319.8 1008.85,318.5 1009.2,317.1 1009.55,319.5 1009.9,317.6 1010.25,317.3 1010.6,316.9 1010.95,316.9 1011.3,316.2 1011.65,316.2 1012,316.4 1012.35,316.6 1012.7,315.6 1013.05,316.1 1013.4,316.7 1013.75,316.3 1014.1,317.2 1014.45,317.5 1014.8,318.0 1015.15,318.0 1015.5,318.8 1015.85,319.5 1016.2,320.2 1016.55,319.7 1016.9,320.2 1017.25,320.7 1017.6,321.0 1017.95,321.4 1018.3,322.0 1018.65,323.0 1019,321.9 1019.35,322.1 1019.7,322.1 1020.05,322.8 1020.4,322.6 1020.75,320.7 1021.1,322.7 1021.45,323.0 1021.8,322.8 1022.15,323.4 1022.5,322.8 1022.85,324.0 1023.2,323.7 1023.55,324.2 1023.9,323.8 1024.25,323.8 1024.6,323.7 1024.95,324.1 1025.3,322.8 1025.65,325.0 1026,324.5 1026.35,324.7 1026.7,324.9 1027.05,325.1 1027.4,325.1 1027.75,324.9 1028.1,325.3 1028.45,325.7 1028.8,324.6 1029.15,324.2 1029.5,324.0 1029.85,324.2 1030.2,324.1 1030.55,324.2 1030.9,323.2 1031.25,323.8 1031.6,324.1 1031.95,323.6 1032.3,323.8 1032.65,323.4 1033,323.1 1033.35,323.2 1033.7,323.6 1034.05,323.3 1034.4,323.9 1034.75,322.9 1035.1,325.3 1035.45,323.7 1035.8,323.5 1036.15,323.4 1036.5,324.1 1036.85,323.4 1037.2,324.4 1037.55,324.4 1037.9,324.0 1038.25,323.7 1038.6,324.2 1038.95,323.9 1039.3,324.2 1039.65,324.2 1040,323.2 1040.35,324.2 1040.7,323.8 1041.05,323.9 1041.4,325.3 1041.75,324.7 1042.1,324.7 1042.45,324.2 1042.8,322.8 1043.15,324.3 1043.5,324.7 1043.85,326.3 1044.2,325.1 1044.55,323.2 1044.9,324.1 1045.25,324.4 1045.6,324.2 1045.95,323.7 1046.3,324.3 1046.65,324.3 1047,324.4 1047.35,324.7 1047.7,324.2 1048.05,323.4 1048.4,324.5 1048.75,324.4 1049.1,324.2 1049.45,324.7 1049.8,325.1 1050.15,324.7 1050.5,325.5 1050.85,325.1 1051.2,324.5 1051.55,325.4 1051.9,324.2 1052.25,324.2 1052.6,324.3 1052.95,324.4 1053.3,324.5 1053.65,324.6 1054,323.9 1054.35,325.2 1054.7,325.4 1055.05,322.7 1055.4,325.0 1055.75,324.2 1056.1,324.5 1056.45,325.5 1056.8,325.1 1057.15,325.4 1057.5,325.1 1057.85,324.6 1058.2,324.7 1058.55,325.1 1058.9,323.4 1059.25,325.0 1059.6,324.8 1059.95,324.7 1060.3,326.6 1060.65,324.0 1061,324.1 1061.35,324.7 1061.7,324.1 1062.05,324.0 1062.4,323.7 1062.75,325.1 1063.1,324.3 1063.45,323.7 1063.8,323.6 1064.15,323.5 1064.5,323.5 1064.85,324.4 1065.2,324.0 1065.55,323.5 1065.9,322.8 1066.25,323.6 1066.6,323.8 1066.95,323.2 1067.3,323.6 1067.65,323.4 1068,325.0 1068.35,323.9 1068.7,323.8 1069.05,323.7 1069.4,324.3 1069.75,322.5 1070.1,323.6 1070.45,323.6 1070.8,323.5 1071.15,324.1 1071.5,323.3 1071.85,322.2 1072.2,323.7 1072.55,323.5 1072.9,324.5 1073.25,324.0 1073.6,323.5 1073.95,324.0 1074.3,323.4 1074.65,323.2 1075,324.1 1075.35,323.1 1075.7,322.7 1076.05,322.6 1076.4,321.6 1076.75,322.3 1077.1,321.0 1077.45,322.1 1077.8,322.1 1078.15,321.4 1078.5,321.6 1078.85,321.3 1079.2,321.5 1079.55,320.8 1079.9,320.7 1080.25,320.5 1080.6,320.7 1080.95,320.1 1081.3,319.8 1081.65,318.6 1082,319.9 1082.35,318.1 1082.7,317.3 1083.05,317.7 1083.4,316.6 1083.75,316.4 1084.1,316.1 1084.45,316.4 1084.8,315.0 1085.15,314.1 1085.5,314.3 1085.85,314.2 1086.2,313.5 1086.5,313.9 1086.55,313.8 1086.9,313.9 1087.25,314.4 1087.6,314.3 1087.95,314.5 1088.3,314.8 1088.65,314.3 1089,314.5 1089.35,315.8 1089.7,315.9 1090.05,316.5 1090.4,316.9 1090.75,317.5 1091.1,318.2 1091.45,318.1 1091.8,318.8 1092.15,318.9 1092.5,318.8 1092.85,319.1 1093.2,319.0 1093.55,319.7 1093.9,319.9 1094.25,320.7 1094.6,320.5 1094.95,321.4 1095.3,320.8 1095.65,321.2 1096,321.7 1096.35,321.7 1096.7,322.0 1097.05,321.6 1097.4,320.4 1097.75,321.9 1098.1,321.7 1098.45,322.0 1098.8,321.8 1099.15,320.3 1099.5,322.1 1099.85,321.7 1100.2,321.4 1100.55,321.6 1100.9,322.1 1101.25,321.4 1101.6,321.9 1101.95,321.1 1102.3,321.7 1102.65,321.4 1103,321.7 1103.35,322.0 1103.7,322.0 1104.05,322.2 1104.4,321.6 1104.75,321.3 1105.1,321.6 1105.45,321.8 1105.8,321.4 1106.15,322.7 1106.5,321.7 1106.85,321.6 1107.2,321.6 1107.55,321.7 1107.9,321.8 1108.25,322.4 1108.6,321.9 1108.95,321.8 1109.3,321.5 1109.65,321.2 1110,321.9 1110.35,321.8 1110.7,321.5 1111.05,321.2 1111.4,321.8 1111.75,322.9 1112.1,322.7 1112.45,320.9 1112.8,321.2 1113.15,322.0 1113.5,320.8 1113.85,322.0 1114.2,320.9 1114.55,320.4 1114.9,320.6 1115.25,320.9 1115.6,321.6 1115.95,321.3 1116.3,321.5 1116.65,321.3 1117,321.7 1117.35,321.4 1117.7,322.3 1118.05,321.7 1118.4,322.0 1118.75,321.9 1119.1,321.9 1119.45,321.2 1119.8,321.4 1120.15,321.6 1120.5,321.7 1120.85,321.5 1121.2,321.7 1121.55,321.4 1121.9,322.0 1122.25,320.9 1122.6,320.8 1122.95,321.2 1123.3,321.2 1123.65,321.8 1124,321.0 1124.35,322.6 1124.7,321.1 1125.05,321.8 1125.4,321.5 1125.75,321.4 1126.1,319.1 1126.45,320.8 1126.8,320.7 1127.15,320.8 1127.5,321.9 1127.85,321.0 1128.2,321.4 1128.55,320.7 1128.9,321.1 1129.25,321.1 1129.6,320.5 1129.95,319.7 1130.3,319.8 1130.65,319.7 1131,319.2 1131.35,319.0 1131.7,319.7 1132.05,320.4 1132.4,319.4 1132.75,320.1 1133.1,320.1 1133.45,320.3 1133.8,320.7 1134.15,320.1 1134.5,319.5 1134.85,320.8 1135.2,320.9 1135.55,320.9 1135.9,320.0 1136.25,320.6 1136.6,321.1 1136.95,321.5 1137.3,321.3 1137.65,321.5 1138,321.2 1138.35,321.6 1138.7,322.7 1139.05,322.2 1139.4,322.8 1139.75,321.6 1140.1,322.4 1140.45,321.5 1140.8,321.1 1141.15,321.5 1141.5,321.2 1141.85,320.8 1142.2,320.8 1142.55,321.9 1142.9,320.5 1143.25,321.1 1143.6,319.1 1143.95,321.5 1144.3,321.0 1144.65,321.3 1145,321.5 1145.35,320.6 1145.7,322.8 1146.05,321.0 1146.4,321.8 1146.75,320.5 1147.1,321.8 1147.45,321.6 1147.8,321.6 1148.15,321.8 1148.5,321.2 1148.85,321.9 1149.2,321.8 1149.55,321.4 1149.9,321.4 1150.25,321.1 1150.6,321.5 1150.95,322.3 1151.3,321.4 1151.65,323.0 1152,321.3 1152.35,321.1 1152.7,320.9 1153.05,321.4 1153.4,321.5 1153.75,321.5 1154.1,321.8 1154.45,321.5 1154.8,319.9 1155.15,321.5 1155.5,321.3 1155.85,322.0 1156.2,322.1 1156.55,322.2 1156.9,322.5 1157.25,323.1 1157.6,323.1 1157.95,323.2 1158.3,322.3 1158.65,322.9 1159,323.8 1159.35,323.0 1159.7,322.8 1160.05,323.1 1160.4,323.7 1160.75,323.2 1161.1,323.6 1161.45,323.3 1161.8,325.1 1162.15,322.9 1162.5,323.6 1162.85,324.0"/><polyline fill="none" stroke="#0000ff" stroke-width="5.2" stroke-linejoin="round" stroke-linecap="butt" points="88,439.3 88.35,439.9 88.7,440.1 89.05,438.9 89.4,439.7 89.75,441.1 90.1,439.7 90.45,440.1 90.8,441.7 91.15,441.1 91.5,441.1 91.85,441.5 92.2,441.8 92.55,441.6 92.9,441.6 93.25,442.6 93.6,442.6 93.95,442.7 94.3,443.2 94.65,443.0 95,444.4 95.35,442.9 95.7,443.5 96.05,443.6 96.4,443.6 96.75,443.9 97.1,443.7 97.45,444.5 97.8,444.8 98.15,443.8 98.5,444.5 98.85,444.4 99.2,444.1 99.55,445.6 99.9,445.0 100.25,444.8 100.6,445.6 100.95,445.2 101.3,446.4 101.65,445.6 102,445.0 102.35,445.9 102.7,446.3 103.05,446.6 103.4,447.4 103.75,447.0 104.1,446.8 104.45,445.7 104.8,446.7 105.15,449.2 105.5,447.3 105.85,447.6 106.2,446.6 106.55,446.6 106.9,448.3 107.25,448.0 107.6,447.9 107.95,448.1 108.3,447.7 108.65,448.2 109,447.6 109.35,449.4 109.7,449.1 110.05,448.7 110.4,449.6 110.75,449.1 111.1,448.7 111.45,449.7 111.8,450.4 112.15,448.6 112.5,450.2 112.85,449.5 113.2,449.2 113.55,448.6 113.9,449.7 114.25,450.2 114.6,450.0 114.95,450.5 115.3,449.7 115.65,449.8 116,449.8 116.35,451.4 116.7,451.0 117.05,450.1 117.4,450.3 117.75,450.4 118.1,451.0 118.45,449.9 118.8,450.4 119.15,451.3 119.5,451.4 119.85,452.4 120.2,452.4 120.55,452.4 120.9,452.7 121.25,452.9 121.6,453.2 121.95,453.8 122.3,452.6 122.65,453.3 123,452.8 123.35,453.3 123.7,453.7 124.05,454.1 124.4,453.8 124.75,452.5 125.1,453.5 125.45,453.2 125.8,456.1 126.15,453.2 126.5,453.4 126.85,453.5 127.2,452.8 127.55,454.2 127.9,453.7 128.25,453.1 128.6,453.6 128.95,452.9 129.3,453.7 129.65,453.3 130,452.7 130.35,453.1 130.7,453.8 131.05,453.9 131.4,453.6 131.75,454.0 132.1,453.7 132.45,453.3 132.8,453.6 133.15,453.7 133.5,454.5 133.85,453.1 134.2,453.0 134.55,453.7 134.9,454.6 135.25,454.2 135.6,453.7 135.95,452.6 136.3,453.8 136.65,453.6 137,453.0 137.35,453.5 137.7,452.6 138.05,454.0 138.4,454.0 138.75,454.3 139.1,454.3 139.45,453.9 139.8,454.7 140.15,454.2 140.5,454.0 140.85,454.6 141.2,454.8 141.55,454.7 141.9,455.1 142.25,455.1 142.6,454.8 142.95,455.3 143.3,455.1 143.65,455.5 144,455.1 144.35,455.7 144.7,455.4 145.05,455.6 145.4,455.8 145.75,455.8 146.1,455.6 146.45,457.3 146.8,455.5 147.15,456.1 147.5,456.4 147.85,455.3 148.2,456.0 148.55,456.9 148.9,456.9 149.25,456.7 149.6,457.3 149.95,456.9 150.3,456.5 150.65,456.9 151,456.6 151.35,457.1 151.7,456.8 152.05,456.5 152.4,457.6 152.75,457.3 153.1,457.4 153.45,457.3 153.8,457.6 154.15,457.2 154.5,457.3 154.85,456.4 155.2,457.3 155.55,457.7 155.9,457.5 156.25,457.7 156.6,457.3 156.95,457.9 157.3,456.8 157.65,458.0 158,457.3 158.35,456.8 158.7,457.6 159.05,457.4 159.4,457.4 159.75,458.0 160.1,456.9 160.45,457.6 160.8,457.4 161.15,457.5 161.5,457.4 161.85,456.9 162.2,457.5 162.55,458.1 162.9,457.2 163.25,456.3 163.6,457.1 163.95,458.0 164.3,459.4 164.65,457.4 165,460.2 165.35,458.8 165.7,458.4 166.05,459.1 166.4,458.9 166.75,459.7 167.1,459.6 167.45,459.5 167.8,459.6 168.15,460.5 168.5,460.3 168.85,460.0 169.2,460.0 169.55,460.3 169.9,461.2 170.25,459.3 170.6,459.5 170.95,459.7 171.3,459.8 171.65,458.9 172,458.7 172.35,459.2 172.7,459.3 173.05,459.5 173.4,459.2 173.75,457.9 174.1,458.0 174.45,458.9 174.8,459.4 175.15,459.5 175.5,458.7 175.85,459.4 176.2,459.7 176.55,458.9 176.9,459.4 177.25,459.1 177.6,458.9 177.95,459.6 178.3,459.0 178.65,460.0 179,460.4 179.35,460.9 179.7,460.3 180.05,459.8 180.4,461.2 180.75,461.1 181.1,461.7 181.45,460.7 181.8,460.7 182.15,460.4 182.5,460.1 182.85,460.2 183.2,460.6 183.55,460.1 183.9,460.5 184.25,460.3 184.6,460.2 184.95,461.3 185.3,459.8 185.65,460.2 186,459.8 186.35,461.1 186.7,460.3 187.05,460.1 187.4,459.9 187.75,460.4 188.1,460.2 188.45,459.8 188.8,459.3 189.15,460.3 189.5,460.6 189.85,460.6 190.2,461.3 190.55,461.4 190.9,461.6 191.25,461.3 191.6,461.0 191.95,461.1 192.3,461.1 192.65,461.2 193,460.4 193.35,461.9 193.7,461.3 194.05,460.6 194.4,461.8 194.75,462.1 195.1,461.9 195.45,462.0 195.8,462.3 196.15,461.8 196.5,460.8 196.85,462.4 197.2,462.4 197.55,462.9 197.9,462.3 198.25,462.6 198.6,460.9 198.95,461.0 199.3,462.1 199.65,461.6 200,461.0 200.35,461.1 200.7,461.4 201.05,461.2 201.4,461.3 201.75,461.8 202.1,460.9 202.45,460.6 202.8,461.0 203.15,458.7 203.5,460.7 203.85,460.7 204.2,460.7 204.55,460.0 204.9,461.0 205.25,461.1 205.6,461.3 205.95,462.1 206.3,461.0 206.65,461.4 207,461.3 207.35,461.1 207.7,462.1 208.05,461.8 208.4,462.4 208.75,462.0 209.1,462.3 209.45,461.1 209.8,460.3 210.15,461.4 210.5,461.7 210.85,462.0 211.2,461.8 211.55,461.9 211.9,462.3 212.25,461.2 212.6,462.3 212.95,461.2 213.3,462.0 213.65,462.6 214,462.6 214.35,462.5 214.7,462.5 215.05,463.2 215.4,462.7 215.75,461.9 216.1,462.9 216.45,462.0 216.8,463.7 217.15,462.9 217.5,464.7 217.85,463.2 218.2,463.4 218.55,463.6 218.9,463.4 219.25,463.4 219.6,462.8 219.95,463.2 220.3,462.0 220.65,462.8 221,463.7 221.35,462.7 221.7,462.6 222.05,462.9 222.4,463.2 222.75,462.4 223.1,462.4 223.45,462.8 223.8,462.9 224.15,462.7 224.5,462.2 224.85,462.2 225.2,463.0 225.55,462.9 225.9,463.4 226.25,463.1 226.6,462.8 226.95,462.4 227.3,463.6 227.65,463.2 228,463.2 228.35,463.3 228.7,463.1 229.05,463.2 229.4,463.4 229.75,463.4 230.1,463.7 230.45,464.4 230.8,464.0 231.15,463.5 231.5,463.4 231.85,464.3 232.2,463.4 232.55,463.8 232.9,462.8 233.25,463.3 233.6,463.4 233.95,463.7 234.3,463.9 234.65,462.9 235,463.5 235.35,463.6 235.7,463.1 236.05,464.1 236.4,463.9 236.75,465.0 237.1,463.7 237.45,464.3 237.8,464.2 238.15,464.6 238.5,464.7 238.85,464.6 239.2,464.5 239.55,464.6 239.9,464.5 240.25,465.1 240.6,464.4 240.95,464.3 241.3,464.0 241.65,463.9 242,465.0 242.35,463.8 242.7,464.5 243.05,464.0 243.4,465.2 243.75,463.4 244.1,464.7 244.45,464.2 244.8,464.0 245.15,464.2 245.5,464.2 245.85,464.0 246.2,464.2 246.55,463.8 246.9,462.9 247.25,464.3 247.6,464.2 247.95,464.9 248.3,464.0 248.65,464.7 249,465.7 249.35,465.0 249.7,465.5 250.05,464.1 250.4,464.2 250.75,464.4 251.1,464.7 251.45,464.4 251.8,464.6 252.15,463.9 252.5,466.1 252.85,465.2 253.2,465.5 253.55,465.4 253.9,465.7 254.25,465.9 254.6,465.4 254.95,465.5 255.3,464.9 255.65,465.3 256,465.2 256.35,465.3 256.7,465.3 257.05,465.5 257.4,465.3 257.75,465.3 258.1,465.8 258.45,463.9 258.8,463.6 259.15,464.5 259.5,465.9 259.85,465.5 260.2,465.6 260.55,466.3 260.9,464.9 261.25,466.0 261.6,465.0 261.95,465.3 262.3,465.4 262.65,465.6 263,465.0 263.35,465.3 263.7,464.4 264.05,465.2 264.4,466.8 264.75,466.2 265.1,465.6 265.45,465.9 265.8,466.3 266.15,465.4 266.5,466.9 266.85,465.6 267.2,465.2 267.55,465.7 267.9,465.8 268.25,465.9 268.6,465.8 268.95,464.7 269.3,465.8 269.65,466.4 270,465.8 270.35,466.8 270.7,465.6 271.05,465.9 271.4,465.0 271.75,466.0 272.1,465.3 272.45,465.8 272.8,465.0 273.15,465.2 273.5,465.5 273.85,465.2 274.2,465.1 274.55,466.1 274.9,464.3 275.25,464.4 275.6,465.1 275.95,466.1 276.3,465.5 276.65,465.2 277,464.9 277.35,465.6 277.7,465.7 278.05,465.8 278.4,466.0 278.75,465.7 279.1,466.5 279.45,465.7 279.8,465.3 280.15,465.8 280.5,466.7 280.85,465.4 281.2,465.6 281.55,466.6 281.9,465.8 282.25,466.4 282.6,465.1 282.95,466.8 283.3,466.0 283.65,466.0 284,466.8 284.35,468.3 284.7,467.9 285.05,467.3 285.4,467.8 285.75,468.6 286.1,467.3 286.45,466.8 286.8,467.9 287.15,467.3 287.5,467.3 287.85,467.5 288.2,466.4 288.55,466.1 288.9,467.2 289.25,467.5 289.6,467.6 289.95,468.3 290.3,467.7 290.65,468.0 291,467.2 291.35,467.3 291.7,467.0 292.05,466.1 292.4,465.9 292.75,467.0 293.1,466.3 293.45,466.9 293.8,466.5 294.15,464.7 294.5,466.4 294.85,466.3 295.2,465.5 295.55,465.9 295.9,465.9 296.25,465.9 296.6,466.1 296.95,465.4 297.3,465.7 297.65,465.7 298,466.4 298.35,464.8 298.7,464.5 299.05,464.7 299.4,464.7 299.75,464.4 300.1,464.0 300.45,464.3 300.8,464.3 301.15,464.5 301.5,464.6 301.85,464.4 302.2,464.0 302.55,463.8 302.9,464.3 303.25,464.1 303.6,464.6 303.95,465.2 304.3,465.0 304.65,464.5 305,463.9 305.35,464.2 305.7,465.0 306.05,464.9 306.4,465.2 306.75,464.3 307.1,464.6 307.45,465.0 307.8,464.7 308.15,464.5 308.5,465.0 308.85,463.6 309.2,463.6 309.55,463.8 309.9,463.5 310.25,464.5 310.6,464.2 310.95,462.7 311.3,462.6 311.65,462.1 312,461.0 312.35,461.1 312.7,460.4 313.05,459.9 313.4,459.0 313.75,457.2 314.1,458.5 314.45,457.4 314.8,456.4 315.15,454.7 315.5,453.4 315.85,451.4 316.2,449.9 316.55,447.8 316.9,444.8 317.25,441.9 317.6,436.7 317.95,432.4 318.3,426.1 318.65,420.3 319,412.4 319.35,404.9 319.7,395.9 320.05,386.0 320.4,375.8 320.75,365.6 321.1,355.0 321.45,345.3 321.8,336.6 322.15,330.9 322.5,328.3 322.7,328.5 322.85,327.6 323.2,331.3 323.55,337.2 323.9,344.4 324.25,354.0 324.6,364.8 324.95,374.9 325.3,386.4 325.65,395.0 326,404.4 326.35,412.5 326.7,419.3 327.05,426.5 327.4,431.4 327.75,435.8 328.1,439.5 328.45,443.8 328.8,446.9 329.15,449.0 329.5,451.7 329.85,452.8 330.2,455.0 330.55,454.7 330.9,456.6 331.25,457.4 331.6,458.6 331.95,459.3 332.3,460.0 332.65,461.2 333,461.3 333.35,461.8 333.7,462.1 334.05,462.9 334.4,462.9 334.75,463.5 335.1,464.2 335.45,463.8 335.8,463.9 336.15,463.9 336.5,465.0 336.85,464.8 337.2,465.0 337.55,464.5 337.9,464.9 338.25,465.7 338.6,464.9 338.95,465.7 339.3,465.5 339.65,465.2 340,465.4 340.35,464.8 340.7,465.8 341.05,465.8 341.4,464.4 341.75,465.3 342.1,465.8 342.45,465.1 342.8,465.5 343.15,465.8 343.5,465.4 343.85,464.8 344.2,466.0 344.55,465.6 344.9,465.4 345.25,465.2 345.6,465.5 345.95,465.4 346.3,464.9 346.65,465.0 347,464.6 347.35,465.2 347.7,465.4 348.05,465.9 348.4,465.9 348.75,466.0 349.1,466.4 349.45,465.4 349.8,466.1 350.15,465.5 350.5,466.2 350.85,465.6 351.2,465.6 351.55,465.8 351.9,466.3 352.25,466.8 352.6,466.2 352.95,466.7 353.3,466.1 353.65,466.2 354,466.3 354.35,465.5 354.7,466.2 355.05,466.2 355.4,466.4 355.75,464.9 356.1,466.0 356.45,465.4 356.8,465.2 357.15,463.9 357.5,465.1 357.85,464.0 358.2,463.9 358.55,463.6 358.9,463.8 359.25,462.9 359.6,464.1 359.95,461.8 360.3,461.9 360.65,461.5 361,461.1 361.35,460.9 361.7,460.5 362.05,459.9 362.4,459.9 362.75,458.6 363.1,458.9 363.45,458.5 363.8,457.7 364.15,457.5 364.5,457.1 364.85,455.7 365.2,455.3 365.55,453.9 365.9,454.0 366.25,452.3 366.6,451.8 366.95,451.0 367.3,449.9 367.65,447.7 368,448.4 368.35,445.8 368.7,444.8 369.05,442.8 369.4,441.5 369.75,439.4 370.1,437.4 370.45,435.5 370.8,433.3 371.15,431.0 371.5,428.6 371.85,425.6 372.2,422.6 372.55,420.5 372.9,418.1 373.25,416.1 373.6,414.0 373.95,412.2 374.3,410.6 374.65,410.6 374.9,409.7 375,410.3 375.35,410.8 375.7,411.6 376.05,412.4 376.4,414.4 376.75,417.5 377.1,418.3 377.45,421.6 377.8,423.9 378.15,426.7 378.5,429.1 378.85,431.1 379.2,434.2 379.55,434.6 379.9,439.1 380.25,441.0 380.6,442.4 380.95,444.3 381.3,445.9 381.65,448.7 382,447.8 382.35,449.9 382.7,451.3 383.05,452.8 383.4,453.8 383.75,454.5 384.1,454.1 384.45,456.6 384.8,457.3 385.15,457.6 385.5,459.0 385.85,459.5 386.2,460.0 386.55,460.6 386.9,461.4 387.25,461.7 387.6,462.3 387.95,463.8 388.3,463.3 388.65,463.5 389,464.2 389.35,465.3 389.7,465.5 390.05,465.5 390.4,466.3 390.75,466.2 391.1,466.4 391.45,466.4 391.8,466.3 392.15,467.2 392.5,467.3 392.85,468.5 393.2,467.4 393.55,468.3 393.9,467.5 394.25,468.9 394.6,470.1 394.95,467.3 395.3,468.2 395.65,470.7 396,469.5 396.35,468.6 396.7,467.9 397.05,466.7 397.4,468.1 397.75,469.3 398.1,468.8 398.45,468.3 398.8,468.7 399.15,469.1 399.5,468.3 399.85,469.1 400.2,468.4 400.55,468.6 400.9,467.9 401.25,468.6 401.6,469.2 401.95,468.1 402.3,469.5 402.65,469.1 403,469.9 403.35,469.2 403.7,469.4 404.05,469.5 404.4,469.9 404.75,470.2 405.1,470.0 405.45,470.0 405.8,469.9 406.15,469.7 406.5,469.5 406.85,469.2 407.2,470.2 407.55,469.6 407.9,469.9 408.25,469.0 408.6,469.8 408.95,469.3 409.3,469.9 409.65,470.4 410,470.1 410.35,470.5 410.7,469.9 411.05,470.4 411.4,470.5 411.75,470.7 412.1,470.4 412.45,471.0 412.8,471.4 413.15,471.2 413.5,469.8 413.85,470.9 414.2,470.8 414.55,471.1 414.9,470.3 415.25,471.3 415.6,471.0 415.95,472.0 416.3,469.8 416.65,471.0 417,471.1 417.35,471.5 417.7,471.3 418.05,470.5 418.4,470.7 418.75,471.1 419.1,470.7 419.45,470.5 419.8,471.5 420.15,471.2 420.5,470.6 420.85,470.8 421.2,471.6 421.55,470.5 421.9,471.6 422.25,471.6 422.6,471.3 422.95,471.4 423.3,471.4 423.65,471.3 424,471.3 424.35,470.9 424.7,471.3 425.05,471.4 425.4,471.2 425.75,471.3 426.1,471.0 426.45,471.4 426.8,471.2 427.15,470.3 427.5,471.3 427.85,470.7 428.2,470.2 428.55,470.4 428.9,470.8 429.25,471.0 429.6,470.9 429.95,470.7 430.3,471.4 430.65,471.0 431,471.6 431.35,470.8 431.7,471.3 432.05,471.0 432.4,471.6 432.75,471.2 433.1,471.3 433.45,470.4 433.8,471.3 434.15,470.9 434.5,471.2 434.85,471.4 435.2,470.3 435.55,469.4 435.9,471.0 436.25,471.7 436.6,471.1 436.95,470.2 437.3,470.6 437.65,468.8 438,468.9 438.35,469.7 438.7,469.4 439.05,469.6 439.4,468.6 439.75,468.5 440.1,469.8 440.45,467.6 440.8,467.3 441.15,467.0 441.5,468.3 441.85,465.5 442.2,465.5 442.55,464.6 442.9,463.9 443.25,463.2 443.6,462.8 443.95,462.4 444.3,461.8 444.65,461.6 445,461.5 445.35,461.8 445.5,461.5 445.7,461.4 446.05,462.8 446.4,461.7 446.75,461.6 447.1,463.7 447.45,463.4 447.8,463.8 448.15,464.8 448.5,465.3 448.85,465.9 449.2,467.1 449.55,467.0 449.9,467.2 450.25,467.9 450.6,469.5 450.95,469.0 451.3,469.3 451.65,470.1 452,470.9 452.35,470.3 452.7,471.0 453.05,470.5 453.4,470.8 453.75,471.2 454.1,471.0 454.45,471.2 454.8,471.2 455.15,471.5 455.5,472.4 455.85,472.4 456.2,471.5 456.55,472.1 456.9,472.6 457.25,473.0 457.6,472.6 457.95,472.9 458.3,472.4 458.65,473.1 459,473.3 459.35,472.9 459.7,472.8 460.05,472.2 460.4,473.5 460.75,473.7 461.1,471.3 461.45,473.9 461.8,474.8 462.15,473.0 462.5,473.8 462.85,473.5 463.2,474.4 463.55,474.5 463.9,475.1 464.25,473.8 464.6,474.3 464.95,475.5 465.3,473.3 465.65,474.3 466,474.4 466.35,471.8 466.7,474.2 467.05,474.4 467.4,474.4 467.75,474.3 468.1,474.3 468.45,474.2 468.8,472.9 469.15,474.1 469.5,473.9 469.85,473.4 470.2,473.6 470.55,473.3 470.9,474.0 471.25,473.1 471.6,472.8 471.95,473.4 472.3,473.2 472.65,473.2 473,472.6 473.35,472.1 473.7,471.8 474.05,471.5 474.4,471.0 474.75,471.2 475.1,469.4 475.45,469.2 475.8,466.7 476.15,466.8 476.5,467.1 476.85,464.9 477.2,464.1 477.55,463.7 477.9,462.1 478.25,460.9 478.6,460.0 478.95,460.1 479.3,458.8 479.65,456.7 480,455.9 480.35,455.7 480.7,455.0 481.05,455.5 481.4,455.5 481.7,454.6 481.75,454.4 482.1,455.2 482.45,455.9 482.8,456.5 483.15,456.7 483.5,457.6 483.85,459.0 484.2,459.7 484.55,459.5 484.9,461.3 485.25,462.5 485.6,463.9 485.95,464.1 486.3,464.8 486.65,466.2 487,467.1 487.35,468.1 487.7,469.4 488.05,470.0 488.4,470.8 488.75,471.5 489.1,471.6 489.45,471.9 489.8,473.2 490.15,474.3 490.5,474.4 490.85,475.1 491.2,475.2 491.55,475.8 491.9,477.6 492.25,476.1 492.6,476.5 492.95,477.3 493.3,476.5 493.65,476.6 494,475.4 494.35,475.0 494.7,476.7 495.05,475.4 495.4,475.3 495.75,474.7 496.1,475.1 496.45,473.5 496.8,474.6 497.15,473.7 497.5,473.8 497.85,473.8 498.2,472.9 498.55,472.2 498.9,472.0 499.25,472.1 499.6,471.5 499.95,470.7 500.3,469.1 500.65,471.2 501,470.6 501.3,469.7 501.35,470.5 501.7,470.6 502.05,470.4 502.4,471.4 502.75,470.7 503.1,470.8 503.45,471.3 503.8,471.6 504.15,472.6 504.5,472.5 504.85,472.0 505.2,472.7 505.55,472.4 505.9,473.4 506.25,473.8 506.6,472.7 506.95,473.5 507.3,473.2 507.65,473.2 508,473.6 508.35,474.4 508.7,472.7 509.05,472.7 509.4,472.1 509.75,471.0 510.1,471.3 510.45,470.1 510.8,470.0 511.15,469.2 511.5,467.4 511.85,466.7 512.2,464.8 512.55,463.7 512.9,461.1 513.25,459.3 513.6,456.8 513.95,454.1 514.3,451.2 514.65,449.8 515,447.5 515.35,447.0 515.5,446.4 515.7,446.4 516.05,447.5 516.4,448.6 516.75,451.1 517.1,453.1 517.45,455.8 517.8,458.1 518.15,460.9 518.5,461.9 518.85,463.5 519.2,467.0 519.55,466.4 519.9,467.4 520.25,468.6 520.6,468.9 520.95,470.7 521.3,470.5 521.65,470.7 522,470.6 522.35,471.4 522.7,471.8 523.05,471.5 523.4,471.8 523.75,470.3 524.1,471.2 524.45,471.3 524.8,470.7 525.15,469.9 525.5,470.7 525.8,470.4 525.85,469.6 526.2,471.7 526.55,471.5 526.9,471.5 527.25,472.0 527.6,472.3 527.95,472.6 528.3,472.5 528.65,473.3 529,474.0 529.35,474.5 529.7,474.6 530.05,474.6 530.4,475.3 530.75,475.3 531.1,476.8 531.45,475.9 531.8,476.3 532.15,476.5 532.5,476.3 532.85,476.6 533.2,476.7 533.55,475.8 533.9,477.6 534.25,476.7 534.6,476.1 534.95,477.8 535.3,475.9 535.65,476.4 536,476.0 536.35,475.5 536.7,475.4 537.05,475.2 537.4,474.7 537.75,474.0 538.1,473.7 538.45,473.1 538.8,472.7 539.15,471.4 539.5,470.1 539.85,470.7 540.2,468.6 540.55,468.6 540.9,467.6 541.25,467.9 541.6,465.4 541.95,465.5 542.3,463.6 542.65,462.9 543,462.8 543.35,461.6 543.7,461.7 544.05,461.4 544.4,460.3 544.75,461.1 545,460.6 545.1,461.8 545.45,459.4 545.8,460.4 546.15,461.7 546.5,461.8 546.85,462.7 547.2,464.2 547.55,464.3 547.9,464.4 548.25,465.8 548.6,467.4 548.95,468.7 549.3,469.6 549.65,470.3 550,471.0 550.35,471.6 550.7,472.7 550.8,472.8 551.05,474.4 551.4,474.3 551.75,474.4 552.1,475.6 552.45,475.9 552.8,475.3 553.15,478.1 553.5,478.0 553.85,477.1 554.2,478.1 554.55,477.8 554.9,478.2 555.25,478.3 555.6,478.5 555.95,478.3 556.3,478.0 556.65,478.9 557,478.5 557.35,478.5 557.7,478.9 558.05,478.8 558.4,480.2 558.75,478.6 559.1,478.9 559.45,478.1 559.8,478.3 560.15,478.7 560.5,478.8 560.85,479.0 561.2,478.8 561.55,480.0 561.9,479.2 562.25,479.2 562.6,480.0 562.95,479.8 563.3,479.9 563.65,480.4 564,480.1 564.35,479.7 564.7,481.1 565.05,479.0 565.4,480.9 565.75,480.3 566.1,480.2 566.45,480.4 566.8,480.3 567.15,480.9 567.5,480.6 567.85,480.4 568.2,479.7 568.55,479.8 568.9,478.9 569.25,479.8 569.6,478.4 569.95,479.1 570.3,478.6 570.65,479.5 571,479.7 571.35,478.7 571.7,479.5 572.05,478.5 572.4,479.2 572.75,478.8 573.1,479.1 573.45,479.4 573.8,479.3 574.15,479.2 574.5,479.8 574.85,480.2 575.2,481.9 575.55,479.9 575.9,480.0 576.25,479.6 576.6,480.1 576.95,479.4 577.3,480.4 577.65,481.1 578,480.3 578.35,481.1 578.7,480.8 579.05,480.8 579.4,481.1 579.75,481.0 580.1,480.9 580.45,480.3 580.8,480.8 581.15,481.2 581.5,478.8 581.85,479.5 582.2,480.1 582.55,479.6 582.9,479.4 583.25,481.0 583.6,479.2 583.95,480.1 584.3,479.4 584.65,478.2 585,479.1 585.35,478.6 585.7,479.5 586.05,480.2 586.4,478.7 586.75,478.5 587.1,478.6 587.45,479.6 587.8,479.4 588.15,481.0 588.5,480.2 588.85,480.7 589.2,479.8 589.55,480.1 589.9,479.7 590.25,479.2 590.6,479.3 590.95,478.8 591.3,478.9 591.65,479.2 592,478.3 592.35,478.1 592.7,478.9 593.05,478.3 593.4,477.9 593.75,478.1 594.1,478.1 594.45,479.0 594.8,478.4 595.15,479.1 595.5,478.5 595.85,479.4 596.2,479.3 596.55,478.7 596.9,479.1 597.25,478.6 597.6,478.3 597.95,479.1 598,478.2 598.3,479.1 598.65,479.4 599,479.6 599.35,480.0 599.7,479.1 600.05,480.0 600.4,479.5 600.75,479.6 601.1,479.4 601.45,479.9 601.8,479.1 602.15,477.6 602.5,479.6 602.85,479.3 603.2,479.3 603.55,478.5 603.9,478.6 604.25,479.1 604.6,479.3 604.95,479.2 605.3,479.2 605.65,479.4 606,478.8 606.35,479.4 606.7,479.4 607.05,479.9 607.4,479.8 607.75,480.1 608.1,480.2 608.45,480.8 608.8,480.8 609.15,479.6 609.5,480.8 609.85,480.6 610.2,480.2 610.55,480.9 610.9,481.4 611.25,481.4 611.6,480.4 611.95,480.6 612.3,481.1 612.65,482.0 613,480.1 613.35,480.0 613.7,480.8 614.05,480.6 614.4,480.8 614.75,480.0 615.1,480.3 615.45,480.6 615.8,480.1 616.15,480.1 616.5,479.1 616.85,480.6 617.2,480.2 617.55,480.2 617.9,480.4 618.25,480.8 618.6,480.9 618.95,480.3 619.3,480.6 619.65,480.4 620,481.0 620.35,480.9 620.7,480.8 621.05,481.1 621.4,480.7 621.75,480.8 622.1,480.3 622.45,480.9 622.8,480.5 623.15,480.8 623.5,478.5 623.85,480.6 624.2,480.8 624.55,480.8 624.9,480.7 625.25,480.3 625.6,480.7 625.95,480.7 626.3,480.6 626.65,480.4 627,480.0 627.35,480.5 627.7,479.6 628.05,481.3 628.4,480.4 628.75,480.4 629.1,480.6 629.45,480.1 629.8,481.4 630.15,482.2 630.5,481.4 630.85,481.1 631.2,482.0 631.55,481.0 631.9,481.2 632.25,480.9 632.6,481.3 632.95,482.2 633.3,481.6 633.65,481.4 634,481.4 634.35,481.5 634.7,481.4 635.05,481.2 635.4,481.2 635.75,480.4 636.1,480.9 636.45,481.0 636.8,480.4 637.15,480.3 637.5,480.8 637.85,479.8 638.2,479.8 638.55,480.5 638.9,479.4 639.25,479.7 639.6,480.5 639.95,479.7 640.3,480.1 640.65,479.9 641,478.3 641.35,479.2 641.7,480.2 642.05,479.3 642.4,479.3 642.75,480.2 643.1,478.7 643.45,480.4 643.8,479.3 644.15,479.2 644.5,476.4 644.85,479.0 645.2,479.2 645.55,478.6 645.9,477.8 646.25,477.9 646.6,477.6 646.95,478.2 647.3,478.6 647.65,477.2 648,477.9 648.35,477.8 648.7,477.7 649.05,477.8 649.4,477.7 649.75,477.1 650.1,477.7 650.45,477.2 650.8,476.9 651.15,477.8 651.5,476.8 651.85,475.9 652.2,477.2 652.55,475.9 652.9,475.4 653.25,475.0 653.6,474.1 653.95,474.3 654.3,474.0 654.65,473.6 655,474.9 655.35,473.0 655.7,472.1 656.05,471.9 656.4,471.4 656.75,470.3 657.1,470.5 657.45,470.0 657.8,470.1 658.15,468.9 658.5,468.6 658.85,468.0 659.2,466.9 659.55,466.8 659.9,466.1 660.25,465.2 660.6,463.8 660.95,466.4 661,463.6 661.3,464.4 661.65,463.1 662,462.0 662.35,463.2 662.7,461.7 663.05,460.8 663.4,460.7 663.75,459.8 664.1,458.8 664.45,458.2 664.8,457.4 665.15,455.6 665.5,455.1 665.85,454.4 666.2,452.5 666.55,451.1 666.9,450.7 667.25,447.8 667.6,445.6 667.95,443.9 668.3,442.2 668.65,440.2 669,437.4 669.35,435.5 669.7,434.5 670.05,433.8 670.4,432.0 670.75,431.3 671.1,431.5 671.4,430.5 671.45,430.8 671.8,431.2 672.15,431.3 672.5,433.8 672.85,434.9 673.2,436.8 673.55,438.7 673.9,440.3 674.25,443.9 674.6,445.3 674.95,448.0 675.3,450.8 675.65,452.7 676,455.1 676.35,457.1 676.7,459.3 677.05,461.0 677.4,462.9 677.75,463.0 678.1,464.7 678.45,467.5 678.8,469.1 679.15,472.2 679.5,471.3 679.85,471.8 680.2,472.7 680.55,473.4 680.9,474.1 681.25,476.1 681.6,474.8 681.95,475.3 682.3,476.1 682.65,475.7 683,475.7 683.35,477.3 683.7,475.6 684.05,477.8 684.4,478.2 684.75,477.3 685.1,478.2 685.45,477.9 685.8,478.1 686.15,479.9 686.5,479.3 686.85,479.2 687.2,479.0 687.55,480.5 687.9,479.3 688.25,480.5 688.6,479.5 688.95,478.4 689.3,479.7 689.65,479.8 690,479.9 690.35,479.4 690.7,478.3 691.05,479.9 691.4,479.3 691.75,479.0 692.1,479.0 692.45,479.1 692.8,479.9 693.15,478.8 693.5,480.3 693.85,478.3 694.2,479.9 694.55,479.5 694.9,479.8 695.25,479.5 695.6,480.6 695.95,479.6 696.3,480.1 696.65,480.3 697,480.3 697.35,480.1 697.7,480.3 698.05,481.4 698.4,480.1 698.75,479.4 699.1,481.5 699.45,481.4 699.8,481.0 700.15,480.8 700.5,481.7 700.85,480.7 701.2,479.3 701.55,480.7 701.9,480.7 702.25,480.8 702.6,481.3 702.95,480.0 703.3,481.3 703.65,480.9 704,481.2 704.35,480.9 704.7,480.8 705.05,480.9 705.4,480.9 705.75,481.1 706.1,481.3 706.45,481.7 706.8,480.8 707.15,481.2 707.5,481.2 707.85,481.6 708.2,481.4 708.55,481.2 708.9,481.3 709.25,481.0 709.6,481.4 709.95,481.5 710.3,481.1 710.65,480.5 711,481.1 711.35,481.0 711.7,480.9 712.05,481.1 712.4,481.8 712.75,481.3 713.1,481.4 713.45,481.4 713.8,481.2 714.15,481.7 714.5,481.6 714.85,482.5 715.2,481.8 715.55,483.0 715.9,482.3 716.25,481.8 716.6,480.4 716.95,481.5 717.3,481.2 717.65,482.0 718,481.2 718.35,481.9 718.7,481.5 719.05,481.7 719.4,481.9 719.75,481.4 720.1,481.1 720.45,481.3 720.8,482.4 721.15,481.5 721.5,481.2 721.85,480.9 722.2,480.5 722.55,481.1 722.9,481.4 723.25,481.2 723.6,481.6 723.95,483.0 724.3,481.2 724.65,481.0 725,481.5 725.35,480.4 725.7,481.4 726.05,481.8 726.4,481.6 726.75,480.7 727.1,481.5 727.45,481.8 727.8,481.4 728.15,482.1 728.5,481.2 728.85,481.7 729.2,481.7 729.55,482.0 729.9,481.5 730.25,481.3 730.6,481.7 730.95,480.8 731.3,481.2 731.65,481.3 732,481.6 732.35,481.1 732.7,481.2 733.05,481.3 733.4,481.3 733.75,482.2 734.1,481.1 734.45,481.2 734.8,479.9 735.15,480.8 735.5,481.0 735.85,481.0 736.2,481.4 736.55,481.0 736.9,481.5 737.25,481.9 737.6,480.7 737.95,481.2 738.3,481.5 738.65,480.5 739,481.0 739.35,481.6 739.7,481.5 740.05,482.3 740.4,481.7 740.75,482.0 741.1,481.7 741.45,481.7 741.8,482.4 742.15,482.1 742.5,482.7 742.85,481.7 743.2,481.4 743.55,482.1 743.9,481.4 744.25,481.2 744.6,481.8 744.95,482.1 745.3,481.7 745.65,482.1 746,481.8 746.35,481.6 746.7,481.8 747.05,481.8 747.4,481.1 747.75,481.6 748.1,481.0 748.45,482.4 748.8,481.2 749.15,480.7 749.5,479.9 749.85,480.4 750.2,480.5 750.55,480.6 750.9,480.6 751.25,480.6 751.6,480.2 751.95,480.3 752.3,480.1 752.65,479.6 753,479.3 753.35,479.3 753.7,479.3 754.05,478.3 754.4,478.5 754.75,476.6 755.1,477.0 755.45,477.0 755.8,476.6 756.15,475.8 756.5,475.0 756.85,473.7 757.2,474.6 757.55,472.3 757.9,472.0 758.25,471.2 758.6,469.2 758.95,469.7 759.3,467.0 759.65,467.0 760,465.8 760.35,464.7 760.7,464.8 761.05,463.8 761.4,464.0 761.75,463.3 762.1,462.8 762.45,461.4 762.6,463.0 762.8,462.9 763.15,463.3 763.5,463.0 763.85,464.1 764.2,462.5 764.55,465.0 764.9,465.2 765.25,465.0 765.6,467.8 765.95,466.5 766.3,468.4 766.65,468.8 767,470.2 767.35,471.4 767.7,471.4 768.05,472.7 768.4,474.4 768.75,474.5 769.1,474.8 769.45,475.2 769.8,475.9 770.15,476.4 770.5,477.2 770.85,478.0 771.2,477.8 771.55,477.3 771.9,477.8 772.25,477.9 772.6,477.7 772.95,477.7 773.3,477.4 773.65,477.1 774,476.3 774.35,474.5 774.7,475.2 775.05,474.4 775.4,473.4 775.75,472.0 776.1,471.5 776.45,468.9 776.8,468.5 777.15,466.9 777.5,465.7 777.85,463.3 778.2,464.0 778.55,460.8 778.9,460.8 779.25,460.9 779.4,460.9 779.6,460.5 779.95,461.0 780.3,462.6 780.65,462.7 781,463.9 781.35,464.6 781.7,466.5 782.05,467.9 782.4,469.1 782.75,469.6 783.1,470.8 783.45,471.9 783.8,473.7 784.15,473.5 784.5,473.4 784.85,473.4 785.2,474.5 785.55,475.1 785.9,475.1 786.25,475.9 786.6,475.5 786.95,475.4 787.3,476.2 787.65,476.5 788,475.9 788.35,476.1 788.7,476.0 789.05,475.1 789.4,476.4 789.75,475.2 790.1,476.1 790.45,476.1 790.8,475.8 791.15,474.7 791.5,474.5 791.85,475.4 792.2,475.2 792.55,473.6 792.9,473.2 793.25,474.8 793.6,474.1 793.95,474.2 794.3,473.3 794.65,473.1 795,473.7 795.35,472.4 795.7,472.4 796.05,472.2 796.4,472.2 796.75,471.5 797.1,471.6 797.45,470.9 797.8,471.1 798.15,469.4 798.5,470.0 798.85,469.3 799.2,469.3 799.55,469.9 799.9,469.4 800.25,469.5 800.6,470.1 800.95,468.3 801.3,468.9 801.65,469.5 802,468.1 802.35,467.4 802.7,468.0 803.05,468.0 803.4,468.1 803.75,468.0 803.8,467.7 804.1,467.5 804.45,467.8 804.8,468.0 805.15,467.8 805.5,468.1 805.85,469.1 806.2,468.6 806.55,468.4 806.9,469.3 807.25,469.3 807.6,469.7 807.95,469.8 808.3,469.6 808.65,470.7 809,470.8 809.35,472.5 809.7,469.5 810.05,471.7 810.4,471.9 810.75,472.2 811.1,472.9 811.45,472.7 811.8,473.2 812.15,473.1 812.5,474.0 812.85,474.2 813.2,473.5 813.55,474.4 813.9,474.9 814.25,475.3 814.6,474.8 814.95,475.8 815.3,476.3 815.65,476.0 816,475.6 816.35,476.1 816.7,477.1 817.05,477.0 817.4,476.7 817.75,476.9 818.1,478.0 818.45,477.8 818.8,478.0 819.15,477.4 819.5,479.6 819.85,477.9 820.2,478.1 820.55,478.0 820.9,479.3 821.25,478.7 821.6,478.7 821.95,478.7 822.3,479.1 822.65,479.0 823,479.1 823.35,478.8 823.7,479.8 824.05,478.7 824.4,480.3 824.75,480.5 825.1,479.9 825.45,479.6 825.8,479.8 826.15,479.8 826.5,480.6 826.85,480.4 827.2,481.9 827.55,480.6 827.9,480.7 828.25,481.1 828.6,481.6 828.95,481.2 829.3,480.8 829.65,481.0 830,481.8 830.35,482.0 830.7,483.3 831.05,481.9 831.4,482.2 831.75,482.1 832.1,482.0 832.45,482.4 832.8,481.6 833.15,481.4 833.5,481.6 833.85,481.7 834.2,482.6 834.55,482.0 834.9,481.8 835.25,482.0 835.6,481.2 835.95,482.7 836.3,481.9 836.65,480.8 837,481.1 837.35,481.0 837.7,480.9 838.05,482.1 838.4,481.2 838.75,481.8 839.1,481.4 839.45,480.5 839.8,481.3 840.15,481.7 840.5,481.2 840.85,481.1 841.2,480.6 841.55,481.3 841.9,482.1 842.25,479.9 842.6,481.8 842.95,481.3 843.3,481.0 843.65,481.9 844,482.1 844.35,482.6 844.7,481.5 845.05,481.6 845.4,482.0 845.75,482.5 846.1,481.9 846.45,482.0 846.8,482.2 847.15,481.1 847.5,482.9 847.85,482.4 848.2,482.5 848.55,482.6 848.9,482.9 849.25,482.7 849.6,482.3 849.95,482.2 850.3,482.2 850.65,482.3 851,482.6 851.35,480.5 851.7,482.1 852.05,482.4 852.4,482.0 852.75,481.8 853.1,481.9 853.45,481.9 853.8,482.1 854.15,481.2 854.5,482.4 854.85,482.1 855.2,481.9 855.55,483.0 855.9,482.2 856.25,482.7 856.6,482.3 856.95,482.6 857.3,482.3 857.65,482.5 858,482.7 858.35,482.4 858.7,483.3 859.05,483.1 859.4,483.1 859.75,483.5 860.1,483.2 860.45,483.5 860.8,483.7 861.15,483.8 861.5,483.7 861.85,484.1 862.2,484.4 862.55,484.9 862.9,483.9 863.25,484.8 863.6,484.6 863.95,483.8 864.3,483.2 864.65,483.8 865,483.7 865.35,484.0 865.7,483.5 866.05,485.5 866.4,483.7 866.75,486.5 867.1,483.7 867.45,483.9 867.8,484.0 868.15,483.5 868.5,483.6 868.85,483.7 869.2,483.7 869.55,484.0 869.9,483.1 870.25,484.0 870.6,482.6 870.95,482.8 871.3,482.9 871.65,481.8 872,482.8 872.35,482.8 872.7,482.3 873.05,483.0 873.4,482.4 873.75,482.0 874.1,482.5 874.45,482.1 874.8,482.3 875.15,483.6 875.5,482.3 875.85,482.5 876.2,482.7 876.55,482.0 876.9,481.4 877.25,481.8 877.6,482.7 877.95,483.9 878.3,482.9 878.65,483.8 879,483.0 879.35,482.7 879.7,483.2 880.05,483.8 880.4,484.4 880.75,483.3 881.1,483.1 881.45,483.4 881.8,482.9 882.15,482.6 882.5,483.0 882.85,481.9 883.2,482.8 883.55,483.3 883.9,481.5 884.25,482.3 884.6,480.6 884.95,481.1 885.3,481.3 885.65,483.9 886,480.2 886.35,480.8 886.7,480.6 887.05,479.9 887.4,481.3 887.75,479.5 888.1,480.1 888.45,479.2 888.8,479.0 889.15,478.7 889.5,478.3 889.85,478.2 890.2,478.0 890.55,476.6 890.9,476.1 891.25,476.3 891.6,475.3 891.95,475.6 892.3,475.9 892.65,474.6 893,473.6 893.35,472.9 893.7,472.9 894.05,472.6 894.4,472.1 894.75,471.5 895.1,470.6 895.45,470.7 895.8,469.7 896.15,469.4 896.5,466.8 896.85,468.7 897.2,467.9 897.55,468.3 897.9,468.6 898.25,469.1 898.6,468.7 898.95,470.1 899.3,470.3 899.65,470.6 900,472.5 900.35,472.3 900.7,472.6 901.05,472.8 901.4,473.9 901.75,474.8 902.1,475.0 902.45,475.3 902.8,475.4 903.15,476.1 903.5,477.2 903.85,476.7 904.2,478.9 904.55,478.2 904.9,478.3 905.25,478.3 905.6,479.0 905.95,480.4 906.3,479.3 906.65,479.9 907,479.8 907.35,481.1 907.7,482.0 908.05,481.4 908.4,481.3 908.75,482.7 909.1,481.9 909.45,482.9 909.8,481.9 910.15,481.6 910.5,481.3 910.85,481.9 911.2,482.2 911.55,482.6 911.9,482.4 912.25,482.3 912.6,483.3 912.95,482.9 913.3,483.1 913.65,483.5 914,483.4 914.35,483.1 914.7,484.4 915.05,483.1 915.4,483.1 915.75,483.7 916.1,483.6 916.45,483.2 916.8,483.7 917.15,482.8 917.5,483.4 917.85,484.3 918.2,484.0 918.55,483.5 918.9,483.7 919.25,483.6 919.6,483.1 919.95,484.0 920.3,483.6 920.65,483.6 921,484.6 921.35,483.8 921.7,483.6 922.05,483.8 922.4,484.1 922.75,484.7 923.1,484.7 923.45,484.2 923.8,484.4 924.15,483.5 924.5,484.6 924.85,484.9 925.2,484.1 925.55,484.6 925.9,483.8 926.25,484.7 926.6,484.4 926.95,484.8 927.3,483.6 927.65,483.2 928,483.6 928.35,482.5 928.7,483.7 929.05,482.8 929.4,482.5 929.75,482.5 930.1,483.1 930.45,482.0 930.8,482.8 931.15,482.5 931.5,483.2 931.85,482.0 932.2,482.5 932.55,483.2 932.9,482.9 933.25,482.3 933.6,484.5 933.95,482.8 934.3,482.9 934.65,483.3 935,483.1 935.35,483.5 935.7,483.1 936.05,482.8 936.4,483.2 936.75,483.7 937.1,483.0 937.45,483.4 937.8,483.4 938.15,483.6 938.5,483.3 938.85,483.2 939.2,483.7 939.55,484.1 939.9,483.7 940.25,483.2 940.6,484.1 940.95,483.8 941.3,484.0 941.65,483.1 942,484.1 942.35,483.6 942.7,484.3 943.05,483.4 943.4,481.9 943.75,483.4 944.1,483.8 944.45,483.7 944.8,483.9 945.15,483.0 945.5,483.4 945.85,482.5 946.2,483.0 946.55,482.4 946.9,483.5 947.25,484.1 947.6,483.7 947.95,483.8 948.3,484.5 948.65,483.9 949,484.2 949.35,484.7 949.7,484.2 950.05,484.9 950.4,484.1 950.75,484.9 951.1,484.8 951.45,485.2 951.8,485.0 952.15,484.6 952.5,485.5 952.85,485.5 953.2,485.8 953.55,484.1 953.9,485.6 954.25,484.5 954.6,485.3 954.95,483.9 955.3,485.8 955.65,484.9 956,484.7 956.35,483.8 956.7,484.8 957.05,484.0 957.4,484.1 957.75,484.2 958.1,484.3 958.45,483.7 958.8,482.9 959.15,485.1 959.5,483.3 959.85,482.5 960.2,483.6 960.55,484.0 960.9,482.7 961.25,482.4 961.6,483.5 961.95,483.3 962.3,483.0 962.65,483.0 963,483.6 963.35,482.0 963.7,483.0 964.05,483.2 964.4,483.6 964.75,483.1 965.1,482.5 965.45,483.6 965.8,483.5 966.15,482.8 966.5,483.5 966.85,483.4 967.2,483.2 967.55,483.4 967.9,483.3 968.25,483.7 968.6,484.3 968.95,483.3 969.3,482.8 969.65,483.4 970,483.7 970.35,483.4 970.7,483.2 971.05,483.3 971.4,484.2 971.75,483.9 972.1,483.2 972.45,483.5 972.8,483.4 973.15,483.1 973.5,484.1 973.85,483.4 974.2,483.6 974.55,483.5 974.9,482.8 975.25,482.5 975.6,483.7 975.95,483.6 976.3,483.5 976.65,483.1 977,483.3 977.35,483.4 977.7,483.0 978.05,483.3 978.4,483.5 978.75,482.5 979.1,483.6 979.45,482.6 979.8,483.7 980.15,483.3 980.5,481.2 980.85,482.1 981.2,481.4 981.55,481.7 981.9,482.0 982.25,481.3 982.6,481.4 982.95,481.3 983.3,480.8 983.65,481.1 984,480.9 984.35,481.1 984.7,481.4 985.05,480.6 985.4,481.0 985.75,480.9 986.1,480.7 986.45,481.0 986.8,480.2 987.15,480.5 987.5,479.0 987.85,479.5 988.2,478.6 988.55,479.4 988.9,478.8 989.25,478.0 989.6,478.0 989.95,477.4 990.3,478.4 990.6,478.4 990.65,478.4 991,477.9 991.35,477.6 991.7,478.0 992.05,478.4 992.4,478.4 992.75,477.9 993.1,479.1 993.45,478.7 993.8,479.4 994.15,480.4 994.5,480.5 994.85,481.1 995.2,481.2 995.55,481.4 995.9,481.2 996.25,481.9 996.6,481.3 996.95,480.6 997.3,481.9 997.65,481.7 998,482.4 998.35,482.1 998.7,481.2 999.05,482.7 999.4,483.2 999.75,482.6 1000.1,483.4 1000.45,482.8 1000.8,483.2 1001.15,482.7 1001.5,482.8 1001.85,482.9 1002.2,481.9 1002.55,482.3 1002.9,482.5 1003.25,482.2 1003.6,482.8 1003.95,481.3 1004.3,481.5 1004.65,481.7 1005,481.7 1005.35,482.1 1005.7,480.1 1006.05,481.8 1006.4,482.4 1006.75,480.1 1007.1,481.7 1007.45,480.7 1007.8,479.7 1008.15,480.3 1008.5,479.0 1008.85,479.0 1009.2,478.5 1009.55,478.2 1009.9,477.4 1010.25,477.4 1010.6,477.2 1010.95,476.8 1011.3,476.6 1011.65,477.0 1012,476.8 1012.35,475.7 1012.7,476.6 1013.05,476.8 1013.4,477.3 1013.75,476.7 1014.1,477.9 1014.45,477.5 1014.8,477.8 1015.15,478.2 1015.5,478.4 1015.85,479.0 1016.2,479.2 1016.55,480.1 1016.9,479.7 1017.25,479.1 1017.6,479.7 1017.95,480.3 1018.3,480.5 1018.65,481.0 1019,480.8 1019.35,480.3 1019.7,480.6 1020.05,481.0 1020.4,481.4 1020.75,481.4 1021.1,481.5 1021.45,481.3 1021.8,481.9 1022.15,481.8 1022.5,481.5 1022.85,482.8 1023.2,483.0 1023.55,484.6 1023.9,483.6 1024.25,483.3 1024.6,482.6 1024.95,483.9 1025.3,483.9 1025.65,484.2 1026,484.1 1026.35,483.3 1026.7,483.5 1027.05,484.1 1027.4,484.3 1027.75,483.8 1028.1,483.8 1028.45,483.9 1028.8,484.4 1029.15,484.4 1029.5,484.1 1029.85,483.2 1030.2,485.0 1030.55,484.7 1030.9,483.9 1031.25,482.5 1031.6,484.1 1031.95,483.7 1032.3,484.0 1032.65,484.0 1033,483.9 1033.35,484.7 1033.7,483.9 1034.05,483.3 1034.4,483.9 1034.75,484.3 1035.1,483.3 1035.45,483.5 1035.8,483.3 1036.15,483.5 1036.5,483.0 1036.85,482.9 1037.2,484.1 1037.55,483.5 1037.9,483.3 1038.25,483.3 1038.6,484.0 1038.95,482.3 1039.3,483.2 1039.65,483.4 1040,482.7 1040.35,485.2 1040.7,483.4 1041.05,483.5 1041.4,484.2 1041.75,483.1 1042.1,483.6 1042.45,482.7 1042.8,483.5 1043.15,482.7 1043.5,483.0 1043.85,482.3 1044.2,482.5 1044.55,482.6 1044.9,482.6 1045.25,483.3 1045.6,482.6 1045.95,483.2 1046.3,482.0 1046.65,482.3 1047,482.2 1047.35,482.2 1047.7,482.7 1048.05,482.0 1048.4,482.8 1048.75,483.3 1049.1,483.5 1049.45,482.0 1049.8,482.7 1050.15,483.0 1050.5,481.7 1050.85,483.4 1051.2,483.3 1051.55,483.4 1051.9,483.1 1052.25,482.8 1052.6,484.2 1052.95,483.7 1053.3,483.5 1053.65,484.2 1054,483.0 1054.35,483.5 1054.7,482.8 1055.05,483.9 1055.4,484.1 1055.75,483.3 1056.1,483.9 1056.45,484.4 1056.8,483.2 1057.15,484.5 1057.5,483.3 1057.85,483.7 1058.2,483.4 1058.55,483.2 1058.9,483.4 1059.25,480.7 1059.6,483.3 1059.95,483.3 1060.3,483.4 1060.65,483.5 1061,483.7 1061.35,483.5 1061.7,483.7 1062.05,483.0 1062.4,482.4 1062.75,483.2 1063.1,482.0 1063.45,483.9 1063.8,482.9 1064.15,482.6 1064.5,481.7 1064.85,483.2 1065.2,483.1 1065.55,482.1 1065.9,482.9 1066.25,481.8 1066.6,482.6 1066.95,482.3 1067.3,482.4 1067.65,481.6 1068,482.4 1068.35,482.3 1068.7,482.4 1069.05,481.7 1069.4,481.5 1069.75,481.8 1070.1,481.9 1070.45,481.9 1070.8,481.6 1071.15,481.7 1071.5,481.8 1071.85,481.8 1072.2,481.9 1072.55,481.6 1072.9,481.5 1073.25,481.7 1073.6,482.3 1073.95,483.1 1074.3,481.9 1074.65,482.2 1075,482.1 1075.35,482.6 1075.7,480.5 1076.05,481.9 1076.4,482.3 1076.75,482.6 1077.1,481.4 1077.45,481.2 1077.8,481.5 1078.15,481.7 1078.5,480.4 1078.85,481.1 1079.2,479.8 1079.55,479.3 1079.9,479.0 1080.25,479.2 1080.6,479.2 1080.95,479.4 1081.3,479.3 1081.65,480.5 1082,479.6 1082.35,478.4 1082.7,478.5 1083.05,478.9 1083.4,478.5 1083.75,478.2 1084.1,477.9 1084.45,478.1 1084.8,477.6 1085.15,477.7 1085.3,475.8 1085.5,476.5 1085.85,476.7 1086.2,477.1 1086.55,477.1 1086.9,477.7 1087.25,477.8 1087.6,477.8 1087.95,477.4 1088.3,477.0 1088.65,478.6 1089,479.1 1089.35,477.4 1089.7,476.9 1090.05,478.6 1090.4,479.2 1090.75,479.7 1091.1,479.7 1091.45,480.0 1091.8,480.4 1092.15,479.7 1092.5,480.0 1092.85,481.5 1093.2,480.4 1093.55,480.5 1093.9,480.6 1094.25,480.6 1094.6,480.9 1094.95,481.2 1095.3,480.9 1095.65,480.9 1096,480.9 1096.35,480.6 1096.7,481.2 1097.05,480.5 1097.4,480.6 1097.75,480.7 1098.1,480.9 1098.45,481.3 1098.8,480.7 1099.15,480.9 1099.5,480.8 1099.85,480.8 1100.2,481.9 1100.55,480.9 1100.9,479.4 1101.25,481.3 1101.6,480.7 1101.95,481.8 1102.3,480.2 1102.65,481.7 1103,480.9 1103.35,480.9 1103.7,480.8 1104.05,481.9 1104.4,481.3 1104.75,480.9 1105.1,480.8 1105.45,480.9 1105.8,481.1 1106.15,480.8 1106.5,481.0 1106.85,481.6 1107.2,481.8 1107.55,482.2 1107.9,481.1 1108.25,481.4 1108.6,481.2 1108.95,481.7 1109.3,481.4 1109.65,481.4 1110,480.7 1110.35,481.7 1110.7,482.1 1111.05,480.7 1111.4,481.1 1111.75,481.4 1112.1,481.6 1112.45,480.8 1112.8,480.1 1113.15,481.2 1113.5,481.1 1113.85,480.8 1114.2,482.3 1114.55,481.1 1114.9,481.0 1115.25,481.0 1115.6,480.2 1115.95,481.9 1116.3,482.4 1116.65,480.4 1117,481.1 1117.35,480.9 1117.7,480.8 1118.05,480.9 1118.4,480.3 1118.75,480.8 1119.1,480.8 1119.45,481.1 1119.8,481.0 1120.15,479.8 1120.5,480.7 1120.85,480.8 1121.2,480.7 1121.55,481.1 1121.9,481.1 1122.25,481.6 1122.6,481.4 1122.95,480.5 1123.3,480.5 1123.65,480.4 1124,480.3 1124.35,479.3 1124.7,479.7 1125.05,480.7 1125.4,480.6 1125.75,480.2 1126.1,480.1 1126.45,480.6 1126.8,481.1 1127.15,479.9 1127.5,481.0 1127.85,480.6 1128.2,480.7 1128.55,481.1 1128.9,480.7 1129.25,481.5 1129.6,480.7 1129.95,481.4 1130.3,481.5 1130.65,481.8 1131,481.4 1131.35,480.8 1131.7,481.7 1132.05,482.1 1132.4,480.0 1132.75,481.7 1133.1,481.0 1133.45,480.9 1133.8,480.6 1134.15,480.1 1134.5,480.5 1134.85,480.9 1135.2,479.0 1135.55,480.2 1135.9,480.3 1136.25,480.8 1136.6,478.7 1136.95,480.0 1137.3,479.6 1137.65,480.1 1138,481.0 1138.35,480.1 1138.7,480.4 1139.05,481.1 1139.4,481.0 1139.75,481.6 1140.1,480.4 1140.45,480.2 1140.8,480.8 1141.15,481.1 1141.5,481.3 1141.85,480.6 1142.2,481.3 1142.55,480.8 1142.9,482.2 1143.25,481.2 1143.6,480.6 1143.95,481.6 1144.3,481.1 1144.65,481.5 1145,481.2 1145.35,481.8 1145.7,481.0 1146.05,482.4 1146.4,479.9 1146.75,481.1 1147.1,480.7 1147.45,482.6 1147.8,479.8 1148.15,480.9 1148.5,480.9 1148.85,480.2 1149.2,481.7 1149.55,481.2 1149.9,480.9 1150.25,480.7 1150.6,480.4 1150.95,480.3 1151.3,480.7 1151.65,480.9 1152,481.3 1152.35,480.6 1152.7,481.4 1153.05,481.1 1153.4,480.5 1153.75,480.0 1154.1,479.9 1154.45,482.2 1154.8,480.9 1155.15,480.4 1155.5,481.4 1155.85,481.0 1156.2,482.2 1156.55,481.5 1156.9,482.0 1157.25,481.6 1157.6,481.8 1157.95,481.6 1158.3,481.6 1158.65,482.1 1159,481.4 1159.35,481.1 1159.7,482.6 1160.05,481.9 1160.4,482.1 1160.75,482.0 1161.1,482.4 1161.45,482.6 1161.8,481.9 1162.15,482.7 1162.5,482.3 1162.85,482.6"/><polyline fill="none" stroke="#000000" stroke-width="5.2" stroke-linejoin="round" stroke-linecap="butt" points="88,585.7 88.35,587.0 88.7,585.9 89.05,586.1 89.4,586.5 89.75,586.5 90.1,587.1 90.45,586.5 90.8,587.8 91.15,587.8 91.5,585.4 91.85,587.6 92.2,587.0 92.55,587.5 92.9,587.7 93.25,587.9 93.6,588.0 93.95,588.9 94.3,588.0 94.65,588.0 95,588.7 95.35,589.6 95.7,589.7 96.05,589.7 96.4,588.5 96.75,590.3 97.1,589.8 97.45,590.4 97.8,589.9 98.15,589.8 98.5,590.6 98.85,590.5 99.2,590.8 99.55,590.2 99.9,590.2 100.25,591.1 100.6,589.6 100.95,591.9 101.3,590.6 101.65,591.3 102,591.2 102.35,591.2 102.7,591.0 103.05,591.8 103.4,592.3 103.75,591.8 104.1,591.7 104.45,591.8 104.8,591.6 105.15,591.6 105.5,592.2 105.85,591.3 106.2,591.2 106.55,592.5 106.9,592.5 107.25,591.7 107.6,592.2 107.95,592.3 108.3,593.1 108.65,591.6 109,593.1 109.35,592.6 109.7,592.7 110.05,593.1 110.4,593.1 110.75,593.0 111.1,592.9 111.45,593.9 111.8,593.7 112.15,592.7 112.5,593.3 112.85,593.7 113.2,594.0 113.55,594.6 113.9,593.3 114.25,594.3 114.6,594.0 114.95,593.1 115.3,593.7 115.65,593.7 116,593.5 116.35,594.5 116.7,594.3 117.05,594.7 117.4,593.9 117.75,595.3 118.1,595.1 118.45,595.3 118.8,595.1 119.15,595.1 119.5,594.9 119.85,596.2 120.2,595.0 120.55,595.6 120.9,595.2 121.25,595.2 121.6,596.2 121.95,596.7 122.3,596.2 122.65,596.7 123,597.0 123.35,596.5 123.7,596.9 124.05,596.4 124.4,596.2 124.75,596.3 125.1,595.0 125.45,596.0 125.8,597.0 126.15,597.4 126.5,595.9 126.85,597.0 127.2,597.1 127.55,597.0 127.9,596.9 128.25,596.9 128.6,597.2 128.95,596.8 129.3,597.5 129.65,596.9 130,596.3 130.35,598.2 130.7,596.8 131.05,597.2 131.4,596.8 131.75,596.2 132.1,597.3 132.45,598.7 132.8,598.2 133.15,598.0 133.5,596.4 133.85,598.7 134.2,598.3 134.55,598.8 134.9,598.4 135.25,597.7 135.6,597.8 135.95,599.0 136.3,598.5 136.65,598.5 137,599.0 137.35,599.0 137.7,599.2 138.05,599.9 138.4,599.6 138.75,601.7 139.1,599.2 139.45,599.7 139.8,600.5 140.15,599.9 140.5,600.2 140.85,599.8 141.2,599.8 141.55,600.4 141.9,599.6 142.25,599.7 142.6,599.7 142.95,598.7 143.3,599.0 143.65,599.4 144,597.6 144.35,600.0 144.7,599.9 145.05,599.8 145.4,600.0 145.75,599.2 146.1,600.2 146.45,600.9 146.8,599.6 147.15,600.9 147.5,601.0 147.85,600.6 148.2,600.8 148.55,600.7 148.9,601.2 149.25,601.1 149.6,600.7 149.95,601.0 150.3,600.9 150.65,602.7 151,601.3 151.35,601.3 151.7,601.3 152.05,601.4 152.4,602.7 152.75,601.4 153.1,600.7 153.45,601.2 153.8,600.1 154.15,601.5 154.5,602.1 154.85,601.9 155.2,602.8 155.55,603.4 155.9,602.1 156.25,603.1 156.6,603.1 156.95,604.8 157.3,602.8 157.65,603.6 158,603.2 158.35,603.1 158.7,603.3 159.05,604.5 159.4,603.7 159.75,603.7 160.1,604.3 160.45,604.3 160.8,604.5 161.15,602.7 161.5,605.8 161.85,604.2 162.2,604.6 162.55,604.4 162.9,604.6 163.25,604.6 163.6,604.1 163.95,603.4 164.3,604.2 164.65,602.9 165,603.8 165.35,603.7 165.7,603.7 166.05,604.2 166.4,604.4 166.75,604.5 167.1,603.9 167.45,604.1 167.8,603.2 168.15,603.6 168.5,604.1 168.85,603.8 169.2,603.8 169.55,604.2 169.9,603.6 170.25,604.5 170.6,604.4 170.95,603.4 171.3,604.2 171.65,605.0 172,604.1 172.35,603.0 172.7,604.0 173.05,604.5 173.4,603.9 173.75,603.6 174.1,603.9 174.45,604.8 174.8,605.4 175.15,603.7 175.5,604.2 175.85,604.3 176.2,603.3 176.55,604.5 176.9,604.2 177.25,604.1 177.6,603.8 177.95,604.2 178.3,604.3 178.65,603.7 179,603.7 179.35,605.4 179.7,604.1 180.05,604.1 180.4,605.1 180.75,604.7 181.1,604.9 181.45,605.1 181.8,605.3 182.15,605.2 182.5,607.0 182.85,605.7 183.2,605.8 183.55,606.0 183.9,604.7 184.25,607.3 184.6,606.1 184.95,605.1 185.3,606.1 185.65,606.2 186,606.0 186.35,605.9 186.7,606.2 187.05,605.8 187.4,606.2 187.75,606.5 188.1,606.6 188.45,606.5 188.8,607.1 189.15,607.1 189.5,607.2 189.85,606.7 190.2,606.3 190.55,605.7 190.9,606.8 191.25,606.8 191.6,604.5 191.95,606.3 192.3,607.9 192.65,607.2 193,607.6 193.35,606.8 193.7,606.9 194.05,607.1 194.4,607.0 194.75,606.1 195.1,607.3 195.45,607.5 195.8,607.3 196.15,608.3 196.5,608.4 196.85,606.5 197.2,607.6 197.55,607.7 197.9,607.6 198.25,608.9 198.6,607.4 198.95,608.2 199.3,607.4 199.65,608.1 200,606.8 200.35,608.0 200.7,608.0 201.05,607.7 201.4,607.5 201.75,607.7 202.1,607.3 202.45,607.7 202.8,608.0 203.15,608.1 203.5,608.1 203.85,608.7 204.2,607.8 204.55,608.4 204.9,608.5 205.25,607.8 205.6,607.0 205.95,608.1 206.3,607.8 206.65,607.4 207,608.1 207.35,606.9 207.7,607.3 208.05,607.1 208.4,606.8 208.75,607.2 209.1,606.3 209.45,606.7 209.8,606.9 210.15,608.0 210.5,607.3 210.85,606.2 211.2,607.2 211.55,606.7 211.9,607.2 212.25,608.5 212.6,607.3 212.95,607.0 213.3,608.5 213.65,607.5 214,608.0 214.35,607.7 214.7,608.9 215.05,608.3 215.4,608.4 215.75,607.4 216.1,607.9 216.45,608.5 216.8,607.8 217.15,607.4 217.5,608.5 217.85,607.8 218.2,608.1 218.55,607.7 218.9,607.6 219.25,608.2 219.6,608.5 219.95,608.7 220.3,609.3 220.65,608.6 221,608.8 221.35,608.4 221.7,609.3 222.05,608.5 222.4,607.6 222.75,608.3 223.1,608.1 223.45,608.7 223.8,608.0 224.15,608.3 224.5,608.1 224.85,608.6 225.2,608.0 225.55,607.9 225.9,607.9 226.25,607.8 226.6,608.3 226.95,608.3 227.3,608.5 227.65,607.8 228,608.9 228.35,608.6 228.7,609.9 229.05,610.3 229.4,607.5 229.75,609.0 230.1,608.7 230.45,609.2 230.8,608.6 231.15,609.2 231.5,609.5 231.85,609.3 232.2,609.2 232.55,609.7 232.9,610.4 233.25,609.5 233.6,609.3 233.95,609.9 234.3,610.1 234.65,610.2 235,611.3 235.35,610.2 235.7,609.7 236.05,609.3 236.4,610.7 236.75,610.5 237.1,610.7 237.45,610.9 237.8,610.4 238.15,610.0 238.5,611.1 238.85,609.9 239.2,610.0 239.55,608.8 239.9,610.1 240.25,609.6 240.6,610.1 240.95,609.7 241.3,610.1 241.65,609.5 242,609.9 242.35,608.8 242.7,609.4 243.05,609.4 243.4,609.5 243.75,609.3 244.1,609.4 244.45,610.8 244.8,609.0 245.15,609.7 245.5,610.4 245.85,609.7 246.2,609.8 246.55,609.9 246.9,609.4 247.25,609.6 247.6,610.2 247.95,610.2 248.3,609.9 248.65,610.2 249,611.7 249.35,610.0 249.7,610.8 250.05,611.3 250.4,610.6 250.75,610.2 251.1,610.7 251.45,611.2 251.8,611.1 252.15,611.4 252.5,611.0 252.85,609.4 253.2,610.1 253.55,611.5 253.9,611.2 254.25,611.9 254.6,611.6 254.95,611.3 255.3,611.2 255.65,611.4 256,610.6 256.35,610.9 256.7,611.1 257.05,610.9 257.4,610.5 257.75,610.7 258.1,610.4 258.45,611.4 258.8,610.5 259.15,611.1 259.5,610.5 259.85,610.4 260.2,609.9 260.55,610.8 260.9,611.3 261.25,611.5 261.6,610.8 261.95,611.3 262.3,610.9 262.65,611.7 263,610.4 263.35,610.4 263.7,610.4 264.05,611.1 264.4,611.6 264.75,611.1 265.1,611.8 265.45,609.2 265.8,610.5 266.15,610.6 266.5,611.0 266.85,611.1 267.2,611.3 267.55,611.1 267.9,611.7 268.25,612.0 268.6,612.3 268.95,611.5 269.3,613.5 269.65,611.9 270,612.1 270.35,612.8 270.7,611.6 271.05,611.9 271.4,611.7 271.75,611.0 272.1,610.7 272.45,611.2 272.8,611.4 273.15,610.4 273.5,611.0 273.85,612.2 274.2,611.3 274.55,611.1 274.9,612.7 275.25,611.6 275.6,611.3 275.95,611.9 276.3,610.5 276.65,611.4 277,612.6 277.35,611.7 277.7,611.1 278.05,611.1 278.4,612.7 278.75,611.8 279.1,612.5 279.45,611.6 279.8,612.0 280.15,611.5 280.5,612.3 280.85,612.1 281.2,612.8 281.55,611.5 281.9,611.7 282.25,610.6 282.6,611.3 282.95,611.4 283.3,611.3 283.65,610.8 284,609.7 284.35,611.1 284.7,611.3 285.05,611.1 285.4,610.8 285.75,611.2 286.1,611.1 286.45,612.1 286.8,611.8 287.15,611.8 287.5,612.0 287.85,613.3 288.2,613.0 288.55,610.6 288.9,611.1 289.25,614.0 289.6,612.1 289.95,612.5 290.3,612.1 290.65,612.6 291,612.6 291.35,612.1 291.7,612.6 292.05,611.1 292.4,611.4 292.75,612.3 293.1,613.0 293.45,614.2 293.8,611.3 294.15,612.1 294.5,611.7 294.85,612.7 295.2,612.0 295.55,611.9 295.9,611.9 296.25,611.8 296.6,611.9 296.95,611.2 297.3,611.2 297.65,611.6 298,611.3 298.35,613.0 298.7,611.5 299.05,612.6 299.4,611.9 299.75,613.8 300.1,611.7 300.45,612.3 300.8,612.4 301.15,611.1 301.5,612.3 301.85,612.2 302.2,612.6 302.55,612.1 302.9,612.2 303.25,611.0 303.6,612.3 303.95,613.2 304.3,612.3 304.65,612.2 305,612.0 305.35,611.3 305.7,612.3 306.05,610.5 306.4,611.0 306.75,611.3 307.1,610.9 307.45,610.2 307.8,610.1 308.15,610.1 308.5,609.8 308.85,609.2 309.2,609.3 309.55,609.6 309.9,609.1 310.25,608.9 310.6,608.1 310.95,607.2 311.3,608.8 311.65,608.2 312,607.4 312.35,607.2 312.7,606.8 313.05,606.1 313.4,604.9 313.75,603.8 314.1,604.6 314.45,604.0 314.8,602.0 315.15,602.2 315.5,599.4 315.85,599.9 316.2,597.7 316.55,595.7 316.9,595.3 317.25,590.8 317.6,587.2 317.95,583.6 318.3,578.4 318.65,572.7 319,567.1 319.35,560.0 319.7,551.8 320.05,542.8 320.4,535.2 320.75,524.6 321.1,514.0 321.45,505.2 321.8,496.6 322.15,488.7 322.5,485.1 322.85,482.3 322.9,483.1 323.2,484.1 323.55,488.4 323.9,493.9 324.25,502.2 324.6,511.5 324.95,519.9 325.3,530.2 325.65,540.0 326,549.2 326.35,556.7 326.7,565.0 327.05,572.4 327.4,576.1 327.75,580.9 328.1,585.4 328.45,588.9 328.8,592.4 329.15,593.9 329.5,597.0 329.85,598.0 330.2,599.3 330.55,600.6 330.9,601.4 331.25,602.5 331.6,603.9 331.95,604.2 332.3,605.6 332.65,605.8 333,606.1 333.35,606.6 333.7,607.3 334.05,607.7 334.4,607.8 334.75,607.1 335.1,608.8 335.45,608.8 335.8,609.5 336.15,610.0 336.5,609.4 336.85,609.6 337.2,611.4 337.55,610.4 337.9,610.5 338.25,610.1 338.6,611.2 338.95,610.7 339.3,610.7 339.65,610.5 340,611.1 340.35,611.4 340.7,611.0 341.05,611.5 341.4,611.4 341.75,611.1 342.1,611.5 342.45,610.8 342.8,611.4 343.15,611.5 343.5,611.8 343.85,611.8 344.2,611.7 344.55,610.3 344.9,611.1 345.25,611.8 345.6,612.2 345.95,610.8 346.3,612.0 346.65,611.6 347,611.7 347.35,610.3 347.7,611.4 348.05,612.2 348.4,610.9 348.75,611.0 349.1,611.2 349.45,611.2 349.8,610.2 350.15,610.4 350.5,611.1 350.85,609.0 351.2,610.6 351.55,610.6 351.9,610.5 352.25,611.4 352.6,610.2 352.95,610.6 353.3,609.9 353.65,610.9 354,610.3 354.35,609.5 354.7,609.7 355.05,609.4 355.4,607.4 355.75,609.4 356.1,608.4 356.45,608.6 356.8,607.5 357.15,607.9 357.5,607.6 357.85,607.7 358.2,607.0 358.55,606.4 358.9,606.6 359.25,605.7 359.6,608.0 359.95,606.0 360.3,606.6 360.65,605.8 361,606.3 361.35,605.2 361.7,604.5 362.05,604.3 362.4,604.2 362.75,603.4 363.1,603.7 363.45,602.4 363.8,602.8 364.15,602.4 364.5,603.0 364.85,601.4 365.2,601.6 365.55,600.5 365.9,600.1 366.25,599.9 366.6,598.8 366.95,599.1 367.3,598.0 367.65,596.6 368,596.1 368.35,594.6 368.7,593.9 369.05,593.8 369.4,592.0 369.75,592.0 370.1,589.7 370.45,589.0 370.8,587.5 371.15,586.9 371.5,585.6 371.85,584.0 372.2,582.5 372.55,582.5 372.9,580.5 373.25,579.2 373.6,578.0 373.95,575.0 374.3,574.9 374.65,575.1 375,573.5 375.35,573.2 375.7,573.0 376.05,572.8 376.4,573.2 376.75,572.3 376.8,571.5 377.1,572.2 377.45,572.4 377.8,572.5 378.15,573.6 378.5,573.8 378.85,574.3 379.2,575.8 379.55,576.2 379.9,578.8 380.25,578.4 380.6,580.1 380.95,581.5 381.3,582.3 381.65,584.1 382,585.4 382.35,585.4 382.7,587.1 383.05,589.1 383.4,590.0 383.75,591.8 384.1,591.3 384.45,594.1 384.8,593.7 385.15,594.2 385.5,596.0 385.85,597.5 386.2,597.7 386.55,597.9 386.9,599.1 387.25,599.7 387.6,599.3 387.95,600.9 388.3,601.8 388.65,602.3 389,602.4 389.35,602.8 389.7,603.4 390.05,604.0 390.4,603.6 390.75,604.3 391.1,604.6 391.45,605.6 391.8,606.0 392.15,606.9 392.5,606.4 392.85,606.9 393.2,609.1 393.55,607.6 393.9,608.3 394.25,608.1 394.6,609.2 394.95,608.6 395.3,609.9 395.65,609.6 396,610.2 396.35,610.5 396.7,610.1 397.05,610.3 397.4,609.7 397.75,610.8 398.1,610.9 398.45,611.2 398.8,610.7 399.15,611.2 399.5,611.4 399.85,611.9 400.2,611.7 400.55,612.3 400.9,612.3 401.25,612.7 401.6,612.9 401.95,612.5 402.3,613.3 402.65,613.0 403,613.7 403.35,613.4 403.7,613.9 404.05,613.7 404.4,613.2 404.75,614.0 405.1,613.3 405.45,614.6 405.8,614.8 406.15,613.8 406.5,614.9 406.85,614.6 407.2,614.8 407.55,614.9 407.9,614.5 408.25,615.1 408.6,613.2 408.95,616.1 409.3,614.4 409.65,615.2 410,613.9 410.35,614.8 410.7,613.9 411.05,614.8 411.4,614.5 411.75,615.0 412.1,614.6 412.45,613.9 412.8,613.9 413.15,614.9 413.5,615.2 413.85,615.5 414.2,615.3 414.55,616.4 414.9,615.1 415.25,615.3 415.6,614.6 415.95,616.1 416.3,615.4 416.65,616.0 417,616.0 417.35,616.2 417.7,616.0 418.05,615.3 418.4,616.6 418.75,617.1 419.1,615.5 419.45,617.5 419.8,616.3 420.15,616.6 420.5,616.8 420.85,616.6 421.2,616.2 421.55,616.5 421.9,615.4 422.25,616.2 422.6,616.3 422.95,614.8 423.3,616.8 423.65,616.8 424,616.5 424.35,616.4 424.7,615.9 425.05,617.8 425.4,616.1 425.75,615.8 426.1,616.7 426.45,617.8 426.8,615.9 427.15,616.2 427.5,616.8 427.85,617.0 428.2,617.3 428.55,616.7 428.9,616.9 429.25,617.3 429.6,616.5 429.95,616.4 430.3,617.1 430.65,616.7 431,617.3 431.35,616.6 431.7,616.2 432.05,615.1 432.4,615.1 432.75,615.2 433.1,615.6 433.45,615.0 433.8,614.0 434.15,616.1 434.5,614.5 434.85,613.4 435.2,614.5 435.55,614.2 435.9,613.6 436.25,612.9 436.6,613.5 436.95,612.1 437.3,612.8 437.65,612.2 438,612.4 438.35,611.1 438.7,611.3 439.05,610.3 439.4,609.4 439.75,609.2 440.1,608.4 440.45,607.8 440.8,607.1 441.15,607.1 441.5,606.7 441.85,606.4 442.2,605.4 442.55,607.2 442.6,606.3 442.9,608.0 443.25,606.6 443.6,605.6 443.95,608.9 444.3,608.4 444.65,609.0 445,609.2 445.35,607.3 445.7,610.8 446.05,611.8 446.4,611.6 446.75,611.5 447.1,612.5 447.45,614.1 447.8,612.2 448.15,614.1 448.5,614.2 448.85,615.3 449.2,615.8 449.55,615.7 449.9,616.3 450.25,617.6 450.6,616.3 450.95,616.8 451.3,617.5 451.65,616.4 452,617.6 452.35,617.2 452.7,617.3 453.05,617.2 453.4,617.8 453.75,618.0 454.1,617.8 454.45,618.1 454.8,617.7 455.15,618.5 455.5,618.4 455.85,617.8 456.2,618.7 456.55,618.9 456.9,618.7 457.25,618.9 457.6,619.0 457.95,618.9 458.3,618.3 458.65,617.9 459,618.9 459.35,619.3 459.7,619.6 460.05,619.2 460.4,619.2 460.75,619.4 461.1,619.0 461.45,619.9 461.8,619.1 462.15,618.9 462.5,619.7 462.85,618.7 463.2,619.0 463.55,618.7 463.9,619.7 464.25,618.9 464.6,617.8 464.95,619.0 465.3,618.5 465.65,618.9 466,619.1 466.35,619.2 466.7,619.4 467.05,619.1 467.4,619.4 467.75,618.0 468.1,619.4 468.45,619.5 468.8,620.1 469.15,619.4 469.5,618.8 469.85,619.6 470.2,619.5 470.55,619.6 470.9,618.7 471.25,618.8 471.6,619.5 471.95,619.6 472.3,619.3 472.65,618.8 473,618.9 473.35,619.0 473.7,618.6 474.05,618.2 474.4,617.4 474.75,617.8 475.1,616.2 475.45,617.4 475.8,614.7 476.15,613.7 476.5,613.5 476.85,613.4 477.2,613.1 477.55,611.5 477.9,611.3 478.25,609.4 478.6,609.8 478.95,609.5 479.3,609.0 479.65,608.3 480,607.5 480.35,606.0 480.7,606.8 481.05,606.7 481.4,606.0 481.75,607.3 482,606.3 482.1,606.2 482.45,605.4 482.8,605.3 483.15,606.9 483.5,607.4 483.85,608.0 484.2,608.7 484.55,609.6 484.9,610.1 485.25,610.4 485.6,611.3 485.95,612.1 486.3,612.8 486.65,614.5 487,613.9 487.35,614.7 487.7,615.7 488.05,616.0 488.4,616.6 488.75,617.2 489.1,618.0 489.45,618.4 489.8,618.2 490.15,619.1 490.5,618.6 490.85,618.4 491.2,619.1 491.55,619.5 491.9,617.9 492.25,619.4 492.6,619.0 492.95,619.7 493.3,620.9 493.65,620.0 494,619.9 494.35,619.8 494.7,620.1 495.05,619.7 495.4,619.4 495.75,619.0 496.1,618.7 496.45,618.9 496.8,617.5 497.15,617.8 497.5,617.3 497.85,616.9 498.2,616.4 498.55,615.8 498.9,615.1 499.25,615.9 499.6,614.3 499.95,614.3 500.3,613.7 500.65,613.7 501,614.0 501.35,613.7 501.7,613.6 502.05,614.6 502.4,614.4 502.75,614.9 503.1,615.1 503.45,615.2 503.8,616.3 504.15,615.1 504.5,616.4 504.85,615.9 505.2,617.5 505.55,617.6 505.9,618.0 506.25,618.8 506.6,619.2 506.95,618.9 507.3,618.6 507.65,618.9 508,618.6 508.35,618.3 508.7,617.6 509.05,617.5 509.4,617.0 509.75,616.8 510.1,616.3 510.45,615.1 510.8,614.4 511.15,613.7 511.5,611.6 511.85,611.7 512.2,609.8 512.55,608.4 512.9,607.1 513.25,605.4 513.6,603.0 513.95,601.2 514.3,598.9 514.65,596.8 515,596.1 515.35,595.3 515.5,595.4 515.7,594.4 516.05,595.4 516.4,596.6 516.75,598.8 517.1,600.6 517.45,603.9 517.8,604.1 518.15,606.2 518.5,607.8 518.85,609.0 519.2,609.6 519.55,611.1 519.9,611.8 520.25,612.3 520.6,612.5 520.95,613.0 521.3,613.1 521.65,613.8 522,615.6 522.35,613.2 522.7,613.9 523.05,612.9 523.4,612.5 523.75,613.4 524.1,612.8 524.45,612.3 524.8,612.8 525.15,615.3 525.5,612.8 525.8,613.4 525.85,615.2 526.2,612.9 526.55,614.8 526.9,614.1 527.25,615.0 527.6,614.0 527.95,614.1 528.3,615.8 528.65,616.0 529,616.6 529.35,617.0 529.7,616.5 530.05,617.8 530.4,619.0 530.75,618.5 531.1,618.7 531.45,618.8 531.8,618.5 532.15,619.1 532.5,619.5 532.85,619.4 533.2,619.6 533.55,619.6 533.9,620.1 534.25,619.8 534.6,619.2 534.95,619.8 535.3,619.2 535.65,618.6 536,618.6 536.35,618.6 536.7,617.7 537.05,617.0 537.4,615.6 537.75,615.7 538.1,615.8 538.45,613.6 538.8,614.0 539.15,612.4 539.5,612.0 539.85,611.3 540.2,610.5 540.55,609.2 540.9,608.2 541.25,607.1 541.6,606.5 541.95,605.5 542.3,604.6 542.65,603.3 543,601.8 543.35,601.0 543.7,600.4 544.05,600.5 544.4,600.3 544.75,600.3 545,599.7 545.1,600.4 545.45,599.6 545.8,600.7 546.15,600.8 546.5,600.9 546.85,601.9 547.2,602.9 547.55,603.9 547.9,606.2 548.25,606.2 548.6,607.9 548.95,608.9 549.3,610.6 549.65,612.0 550,613.0 550.35,614.0 550.7,614.5 550.8,615.2 551.05,615.4 551.4,616.8 551.75,617.6 552.1,618.2 552.45,618.6 552.8,619.3 553.15,619.1 553.5,619.8 553.85,621.6 554.2,620.2 554.55,619.7 554.9,621.2 555.25,621.4 555.6,621.2 555.95,621.7 556.3,623.2 556.65,622.5 557,621.9 557.35,622.5 557.7,622.5 558.05,622.5 558.4,622.9 558.75,622.4 559.1,622.6 559.45,622.9 559.8,623.5 560.15,622.9 560.5,622.6 560.85,623.4 561.2,622.6 561.55,622.7 561.9,623.7 562.25,623.0 562.6,622.0 562.95,623.0 563.3,622.8 563.65,622.7 564,622.7 564.35,623.2 564.7,622.5 565.05,624.4 565.4,623.2 565.75,622.4 566.1,623.5 566.45,623.3 566.8,623.0 567.15,623.0 567.5,625.7 567.85,623.2 568.2,623.0 568.55,623.7 568.9,623.2 569.25,623.0 569.6,623.3 569.95,622.4 570.3,622.1 570.65,622.8 571,623.3 571.35,622.5 571.7,622.4 572.05,622.5 572.4,622.1 572.75,622.5 573.1,623.4 573.45,623.5 573.8,622.8 574.15,622.5 574.5,622.8 574.85,623.7 575.2,623.5 575.55,623.2 575.9,622.8 576.25,623.2 576.6,622.9 576.95,623.0 577.3,623.1 577.65,623.7 578,623.0 578.35,623.2 578.7,623.4 579.05,622.7 579.4,623.0 579.75,622.4 580.1,623.0 580.45,621.3 580.8,622.8 581.15,623.5 581.5,621.9 581.85,621.5 582.2,622.4 582.55,622.0 582.9,621.8 583.25,622.0 583.6,622.5 583.95,622.2 584.3,623.7 584.65,622.5 585,622.5 585.35,622.4 585.7,622.9 586.05,622.7 586.4,623.3 586.75,623.1 587.1,624.1 587.45,623.5 587.8,623.1 588.15,625.0 588.5,623.9 588.85,623.9 589.2,623.6 589.55,624.6 589.9,623.8 590.25,622.2 590.6,622.4 590.95,623.0 591.3,623.1 591.65,622.7 592,622.7 592.35,622.2 592.7,622.1 593.05,621.8 593.4,622.0 593.75,621.8 594.1,621.2 594.45,621.7 594.8,621.8 595.15,621.0 595.5,620.9 595.85,620.5 596.2,621.8 596.55,622.0 596.9,621.0 597.25,622.6 597.6,622.1 597.95,621.4 598,621.8 598.3,621.4 598.65,620.0 599,621.3 599.35,621.2 599.7,621.1 600.05,621.3 600.4,621.3 600.75,621.2 601.1,621.3 601.45,621.4 601.8,620.5 602.15,621.9 602.5,621.5 602.85,620.8 603.2,620.9 603.55,622.1 603.9,622.1 604.25,621.8 604.6,622.4 604.95,621.6 605.3,624.2 605.65,622.2 606,622.6 606.35,622.6 606.7,623.0 607.05,622.6 607.4,622.6 607.75,622.5 608.1,623.0 608.45,623.0 608.8,623.0 609.15,623.4 609.5,624.0 609.85,622.8 610.2,622.6 610.55,623.4 610.9,624.2 611.25,623.6 611.6,622.8 611.95,622.9 612.3,623.4 612.65,622.1 613,623.2 613.35,623.3 613.7,623.8 614.05,623.5 614.4,623.7 614.75,623.4 615.1,623.5 615.45,623.0 615.8,624.1 616.15,623.4 616.5,623.4 616.85,624.4 617.2,623.8 617.55,624.4 617.9,623.3 618.25,624.1 618.6,622.8 618.95,624.1 619.3,623.2 619.65,623.5 620,623.6 620.35,623.3 620.7,623.6 621.05,623.2 621.4,623.0 621.75,623.7 622.1,622.7 622.45,623.8 622.8,623.9 623.15,622.6 623.5,622.3 623.85,622.8 624.2,622.6 624.55,622.9 624.9,622.5 625.25,623.2 625.6,622.5 625.95,623.3 626.3,622.6 626.65,622.6 627,623.3 627.35,622.0 627.7,622.8 628.05,623.5 628.4,624.0 628.75,623.3 629.1,623.6 629.45,623.3 629.8,623.2 630.15,623.7 630.5,622.8 630.85,623.2 631.2,623.5 631.55,622.9 631.9,623.6 632.25,622.7 632.6,622.8 632.95,622.4 633.3,622.6 633.65,623.3 634,622.8 634.35,622.7 634.7,622.8 635.05,622.7 635.4,622.9 635.75,623.0 636.1,622.4 636.45,622.8 636.8,622.5 637.15,621.5 637.5,623.0 637.85,623.9 638.2,623.3 638.55,622.8 638.9,622.4 639.25,623.5 639.6,622.6 639.95,623.1 640.3,622.2 640.65,622.5 641,622.6 641.35,622.4 641.7,621.9 642.05,623.0 642.4,622.2 642.75,621.6 643.1,621.4 643.45,622.0 643.8,621.3 644.15,621.4 644.5,621.6 644.85,621.2 645.2,621.0 645.55,621.2 645.9,621.0 646.25,620.8 646.6,621.2 646.95,619.9 647.3,620.5 647.65,620.6 648,620.3 648.35,618.9 648.7,618.8 649.05,620.1 649.4,619.8 649.75,619.6 650.1,619.1 650.45,619.0 650.8,618.9 651.15,618.6 651.5,618.8 651.85,618.0 652.2,617.9 652.55,617.9 652.9,617.4 653.25,616.7 653.6,616.0 653.95,616.3 654.3,617.2 654.65,615.6 655,616.3 655.35,614.9 655.7,614.6 656.05,614.6 656.4,614.3 656.75,613.5 657.1,613.5 657.45,612.6 657.8,611.3 658.15,611.1 658.5,611.2 658.85,609.9 659.2,608.8 659.55,609.6 659.9,608.9 660.25,607.7 660.6,608.6 660.95,607.6 661,608.6 661.3,607.7 661.65,606.5 662,605.7 662.35,605.3 662.7,605.9 663.05,604.6 663.4,603.6 663.75,603.2 664.1,602.4 664.45,601.2 664.8,599.7 665.15,599.9 665.5,598.0 665.85,597.0 666.2,594.9 666.55,593.9 666.9,592.1 667.25,590.2 667.6,590.4 667.95,586.5 668.3,585.5 668.65,583.2 669,582.5 669.35,579.9 669.7,577.8 670.05,576.6 670.4,575.7 670.75,575.6 671.1,574.7 671.4,575.6 671.45,574.7 671.8,575.8 672.15,575.5 672.5,578.0 672.85,579.4 673.2,582.4 673.55,582.9 673.9,585.3 674.25,588.0 674.6,589.0 674.95,591.9 675.3,595.0 675.65,596.9 676,598.7 676.35,600.8 676.7,602.3 677.05,603.9 677.4,604.9 677.75,609.6 678.1,608.6 678.45,610.1 678.8,611.3 679.15,612.5 679.5,613.0 679.85,614.5 680.2,614.9 680.55,615.8 680.9,616.7 681.25,618.6 681.6,617.7 681.95,618.2 682.3,619.1 682.65,618.1 683,619.6 683.35,621.4 683.7,620.3 684.05,620.0 684.4,620.5 684.75,620.4 685.1,621.1 685.45,621.5 685.8,620.8 686.15,622.0 686.5,621.1 686.85,620.8 687.2,621.6 687.55,621.1 687.9,622.1 688.25,622.1 688.6,622.0 688.95,622.3 689.3,622.1 689.65,622.9 690,622.7 690.35,622.5 690.7,622.4 691.05,622.4 691.4,622.9 691.75,623.3 692.1,622.7 692.45,622.8 692.8,622.5 693.15,622.3 693.5,622.6 693.85,623.1 694.2,622.7 694.55,622.7 694.9,623.1 695.25,622.8 695.6,623.0 695.95,623.5 696.3,622.8 696.65,622.7 697,621.7 697.35,622.0 697.7,623.1 698.05,622.0 698.4,622.9 698.75,622.5 699.1,623.5 699.45,623.3 699.8,622.9 700.15,623.6 700.5,623.4 700.85,623.2 701.2,623.5 701.55,624.6 701.9,623.1 702.25,624.0 702.6,622.5 702.95,623.0 703.3,623.1 703.65,623.6 704,624.5 704.35,623.0 704.7,623.2 705.05,623.6 705.4,623.2 705.75,623.6 706.1,623.3 706.45,621.8 706.8,623.4 707.15,622.9 707.5,624.1 707.85,623.4 708.2,623.5 708.55,622.3 708.9,623.8 709.25,622.6 709.6,623.9 709.95,624.2 710.3,624.0 710.65,624.3 711,623.9 711.35,623.6 711.7,624.4 712.05,624.0 712.4,625.9 712.75,624.6 713.1,624.0 713.45,625.0 713.8,624.8 714.15,624.8 714.5,625.4 714.85,625.2 715.2,624.8 715.55,625.0 715.9,624.7 716.25,625.3 716.6,625.0 716.95,624.7 717.3,624.8 717.65,625.0 718,624.7 718.35,625.0 718.7,624.4 719.05,624.1 719.4,623.8 719.75,624.4 720.1,624.2 720.45,624.4 720.8,623.6 721.15,624.4 721.5,623.8 721.85,624.3 722.2,624.6 722.55,623.9 722.9,624.3 723.25,623.9 723.6,624.1 723.95,624.9 724.3,622.7 724.65,624.3 725,624.3 725.35,624.5 725.7,623.9 726.05,623.5 726.4,624.3 726.75,624.6 727.1,624.6 727.45,624.6 727.8,624.6 728.15,624.9 728.5,624.6 728.85,625.5 729.2,625.5 729.55,625.6 729.9,625.0 730.25,624.8 730.6,625.2 730.95,626.1 731.3,625.0 731.65,625.4 732,624.7 732.35,624.4 732.7,625.0 733.05,625.1 733.4,625.1 733.75,624.7 734.1,624.4 734.45,625.1 734.8,624.8 735.15,624.4 735.5,624.6 735.85,624.3 736.2,625.2 736.55,624.3 736.9,624.5 737.25,625.9 737.6,624.7 737.95,624.4 738.3,624.3 738.65,624.6 739,624.2 739.35,624.4 739.7,624.8 740.05,624.6 740.4,624.8 740.75,625.3 741.1,625.3 741.45,625.4 741.8,624.7 742.15,625.4 742.5,624.6 742.85,624.8 743.2,625.7 743.55,625.6 743.9,625.4 744.25,625.5 744.6,625.8 744.95,624.7 745.3,625.4 745.65,625.3 746,625.0 746.35,625.4 746.7,625.7 747.05,625.2 747.4,625.5 747.75,625.6 748.1,625.7 748.45,626.0 748.8,625.1 749.15,625.1 749.5,624.7 749.85,623.9 750.2,624.9 750.55,625.7 750.9,625.6 751.25,626.0 751.6,625.3 751.95,623.7 752.3,622.7 752.65,623.0 753,622.2 753.35,622.8 753.7,622.5 754.05,622.0 754.4,622.2 754.75,621.8 755.1,621.3 755.45,621.4 755.8,620.2 756.15,619.0 756.5,618.4 756.85,617.7 757.2,617.0 757.55,615.6 757.9,615.6 758.25,613.5 758.6,613.0 758.95,611.9 759.3,610.7 759.65,609.9 760,608.7 760.35,607.9 760.7,607.4 761.05,605.7 761.4,605.3 761.75,604.6 762.1,603.7 762.45,604.1 762.6,604.3 762.8,604.0 763.15,604.1 763.5,604.6 763.85,604.3 764.2,605.4 764.55,605.7 764.9,605.9 765.25,607.9 765.6,608.6 765.95,608.8 766.3,610.0 766.65,611.2 767,612.4 767.35,613.2 767.7,612.9 768.05,615.5 768.4,616.1 768.75,616.4 769.1,619.7 769.45,618.2 769.8,618.1 770.15,619.4 770.5,619.6 770.85,620.8 771.2,621.0 771.55,620.9 771.9,620.8 772.25,622.2 772.6,621.2 772.95,620.8 773.3,621.5 773.65,621.2 774,619.9 774.35,619.6 774.7,618.3 775.05,617.4 775.4,617.8 775.75,616.8 776.1,615.7 776.45,613.9 776.8,612.3 777.15,611.8 777.5,609.6 777.85,609.1 778.2,607.1 778.55,605.6 778.9,603.4 779.25,603.4 779.6,602.6 779.95,602.9 780,602.8 780.3,602.9 780.65,603.5 781,604.6 781.35,606.1 781.7,606.7 782.05,607.3 782.4,608.7 782.75,610.8 783.1,611.5 783.45,612.7 783.8,613.6 784.15,614.7 784.5,615.5 784.85,615.9 785.2,617.2 785.55,617.2 785.9,617.6 786.25,618.3 786.6,617.3 786.95,618.1 787.3,619.2 787.65,619.1 788,619.0 788.35,619.4 788.7,619.0 789.05,619.5 789.4,620.5 789.75,619.1 790.1,619.2 790.45,618.7 790.8,618.3 791.15,618.7 791.5,618.2 791.85,618.3 792.2,618.4 792.55,617.5 792.9,617.1 793.25,616.1 793.6,616.7 793.95,615.8 794.3,616.1 794.65,616.5 795,616.0 795.35,615.2 795.7,615.4 796.05,613.5 796.4,615.3 796.75,615.2 797.1,614.4 797.45,614.4 797.8,615.0 798.15,613.2 798.5,612.9 798.85,612.7 799.2,612.7 799.55,611.9 799.9,611.4 800.25,613.0 800.6,612.0 800.95,611.1 801.3,611.9 801.65,610.8 802,611.4 802.35,611.9 802.7,610.2 803.05,610.1 803.2,610.5 803.4,611.0 803.75,611.5 804.1,611.0 804.45,611.0 804.8,611.1 805.15,610.5 805.5,609.8 805.85,611.9 806.2,612.0 806.55,611.9 806.9,612.1 807.25,612.6 807.6,613.5 807.95,613.0 808.3,613.7 808.65,613.8 809,614.4 809.35,614.2 809.7,614.8 810.05,614.4 810.4,615.8 810.75,615.6 811.1,615.9 811.45,616.8 811.8,617.2 812.15,617.4 812.5,617.3 812.85,618.1 813.2,617.4 813.55,617.9 813.9,618.0 814.25,618.6 814.6,618.9 814.95,619.0 815.3,619.4 815.65,619.2 816,619.7 816.35,620.1 816.7,620.1 817.05,620.5 817.4,619.3 817.75,621.0 818.1,621.5 818.45,620.5 818.8,621.9 819.15,620.7 819.5,621.5 819.85,621.5 820.2,620.9 820.55,621.6 820.9,621.1 821.25,621.9 821.6,622.1 821.95,621.8 822.3,621.0 822.65,622.2 823,622.3 823.35,622.4 823.7,622.5 824.05,623.1 824.4,623.1 824.75,621.6 825.1,622.7 825.45,623.5 825.8,622.7 826.15,623.4 826.5,622.2 826.85,624.1 827.2,623.9 827.55,624.0 827.9,623.6 828.25,624.6 828.6,624.0 828.95,623.9 829.3,625.4 829.65,623.1 830,625.0 830.35,624.5 830.7,624.8 831.05,624.8 831.4,623.9 831.75,624.9 832.1,624.6 832.45,624.6 832.8,625.2 833.15,625.4 833.5,624.9 833.85,625.6 834.2,625.3 834.55,625.9 834.9,625.7 835.25,625.5 835.6,626.3 835.95,625.4 836.3,624.7 836.65,625.4 837,626.0 837.35,625.1 837.7,624.1 838.05,625.1 838.4,624.8 838.75,624.8 839.1,624.6 839.45,624.9 839.8,624.3 840.15,624.3 840.5,623.8 840.85,624.7 841.2,626.0 841.55,625.3 841.9,625.0 842.25,621.9 842.6,625.2 842.95,624.3 843.3,624.9 843.65,624.6 844,625.5 844.35,626.0 844.7,624.8 845.05,625.4 845.4,625.1 845.75,625.0 846.1,624.4 846.45,624.8 846.8,625.0 847.15,624.6 847.5,625.4 847.85,625.1 848.2,625.8 848.55,626.0 848.9,625.7 849.25,625.4 849.6,626.0 849.95,626.1 850.3,626.0 850.65,625.8 851,625.9 851.35,625.7 851.7,626.3 852.05,626.6 852.4,626.8 852.75,626.2 853.1,626.2 853.45,626.1 853.8,625.3 854.15,626.6 854.5,627.8 854.85,626.3 855.2,626.0 855.55,626.4 855.9,626.1 856.25,626.3 856.6,626.3 856.95,626.4 857.3,627.1 857.65,626.3 858,626.7 858.35,626.3 858.7,625.9 859.05,626.2 859.4,626.1 859.75,626.2 860.1,625.3 860.45,626.5 860.8,625.0 861.15,625.3 861.5,625.1 861.85,625.5 862.2,625.5 862.55,625.9 862.9,625.6 863.25,625.8 863.6,625.8 863.95,625.8 864.3,626.2 864.65,625.8 865,626.1 865.35,625.6 865.7,625.6 866.05,625.5 866.4,625.6 866.75,625.5 867.1,625.1 867.45,626.0 867.8,626.7 868.15,625.6 868.5,626.2 868.85,627.4 869.2,625.6 869.55,625.4 869.9,624.8 870.25,625.9 870.6,626.6 870.95,625.6 871.3,626.1 871.65,626.2 872,626.6 872.35,626.1 872.7,625.0 873.05,625.5 873.4,626.4 873.75,625.7 874.1,625.8 874.45,623.5 874.8,625.4 875.15,625.1 875.5,625.8 875.85,625.2 876.2,625.1 876.55,624.7 876.9,624.9 877.25,624.8 877.6,624.6 877.95,625.0 878.3,625.5 878.65,625.5 879,625.0 879.35,625.8 879.7,624.5 880.05,625.8 880.4,624.9 880.75,624.9 881.1,625.0 881.45,626.0 881.8,624.4 882.15,624.9 882.5,625.3 882.85,624.9 883.2,624.4 883.55,624.7 883.9,624.6 884.25,625.5 884.6,624.4 884.95,624.5 885.3,624.3 885.65,623.2 886,623.6 886.35,623.6 886.7,623.7 887.05,622.0 887.4,622.5 887.75,622.0 888.1,621.3 888.45,622.1 888.8,620.4 889.15,621.0 889.5,620.0 889.85,619.2 890.2,618.6 890.55,618.4 890.9,618.2 891.25,617.2 891.6,616.4 891.95,615.9 892.3,614.8 892.65,614.3 893,612.0 893.35,612.8 893.7,612.2 894.05,611.0 894.4,609.9 894.75,609.6 895.1,609.5 895.45,609.2 895.8,608.9 896.15,608.1 896.5,607.8 896.6,608.5 896.85,609.9 897.2,610.0 897.55,609.4 897.9,609.8 898.25,611.2 898.6,611.1 898.95,612.0 899.3,612.7 899.65,614.3 900,614.4 900.35,614.0 900.7,615.9 901.05,616.0 901.4,618.4 901.75,617.8 902.1,617.8 902.45,618.6 902.8,619.5 903.15,620.1 903.5,620.6 903.85,621.4 904.2,622.4 904.55,622.2 904.9,621.8 905.25,622.6 905.6,623.2 905.95,622.8 906.3,623.4 906.65,624.7 907,623.9 907.35,626.3 907.7,625.6 908.05,624.7 908.4,625.2 908.75,624.6 909.1,625.2 909.45,625.5 909.8,625.2 910.15,625.2 910.5,625.9 910.85,624.2 911.2,626.1 911.55,625.7 911.9,625.5 912.25,625.4 912.6,624.0 912.95,625.0 913.3,624.8 913.65,625.1 914,625.0 914.35,625.9 914.7,624.1 915.05,625.1 915.4,625.2 915.75,625.2 916.1,624.6 916.45,625.4 916.8,625.4 917.15,625.6 917.5,625.8 917.85,626.4 918.2,625.7 918.55,625.6 918.9,626.1 919.25,624.4 919.6,625.6 919.95,625.3 920.3,625.6 920.65,625.5 921,625.8 921.35,625.8 921.7,625.0 922.05,625.9 922.4,625.8 922.75,625.8 923.1,625.6 923.45,625.5 923.8,626.0 924.15,626.2 924.5,626.7 924.85,626.5 925.2,626.5 925.55,626.0 925.9,627.7 926.25,626.9 926.6,626.8 926.95,626.4 927.3,627.0 927.65,627.6 928,628.1 928.35,625.8 928.7,627.4 929.05,627.1 929.4,627.2 929.75,628.4 930.1,628.9 930.45,626.7 930.8,627.2 931.15,627.1 931.5,627.2 931.85,627.3 932.2,627.9 932.55,627.3 932.9,627.0 933.25,627.1 933.6,626.9 933.95,626.8 934.3,626.8 934.65,626.8 935,624.7 935.35,626.3 935.7,626.2 936.05,626.5 936.4,625.2 936.75,626.0 937.1,626.6 937.45,626.1 937.8,626.9 938.15,626.4 938.5,626.7 938.85,626.5 939.2,625.8 939.55,626.7 939.9,626.5 940.25,626.6 940.6,626.3 940.95,625.9 941.3,626.4 941.65,626.4 942,626.4 942.35,625.7 942.7,626.3 943.05,626.2 943.4,626.8 943.75,626.0 944.1,626.1 944.45,627.2 944.8,629.2 945.15,627.4 945.5,627.3 945.85,626.2 946.2,626.6 946.55,626.3 946.9,626.4 947.25,626.0 947.6,626.0 947.95,624.9 948.3,625.7 948.65,625.7 949,625.4 949.35,625.5 949.7,625.5 950.05,625.9 950.4,625.6 950.75,625.0 951.1,626.0 951.45,625.5 951.8,625.5 952.15,625.0 952.5,625.2 952.85,626.2 953.2,626.1 953.55,625.9 953.9,626.8 954.25,627.0 954.6,626.7 954.95,625.9 955.3,626.2 955.65,626.5 956,627.3 956.35,626.3 956.7,626.4 957.05,627.0 957.4,626.9 957.75,626.7 958.1,627.3 958.45,627.3 958.8,628.5 959.15,628.3 959.5,627.4 959.85,627.1 960.2,628.2 960.55,626.2 960.9,628.2 961.25,627.1 961.6,629.1 961.95,627.6 962.3,627.9 962.65,627.8 963,625.8 963.35,627.3 963.7,627.4 964.05,627.5 964.4,627.7 964.75,627.9 965.1,627.4 965.45,627.0 965.8,626.1 966.15,627.7 966.5,627.9 966.85,626.8 967.2,627.8 967.55,627.3 967.9,626.9 968.25,627.9 968.6,626.8 968.95,626.6 969.3,627.4 969.65,627.2 970,626.2 970.35,627.4 970.7,626.7 971.05,626.8 971.4,626.2 971.75,626.1 972.1,626.2 972.45,626.0 972.8,625.8 973.15,624.9 973.5,625.4 973.85,624.6 974.2,625.4 974.55,625.8 974.9,625.7 975.25,625.7 975.6,625.6 975.95,626.7 976.3,626.0 976.65,625.4 977,625.9 977.35,625.7 977.7,625.4 978.05,626.0 978.4,625.7 978.75,625.9 979.1,625.9 979.45,625.8 979.8,625.1 980.15,625.6 980.5,626.9 980.85,625.5 981.2,625.3 981.55,625.2 981.9,625.3 982.25,625.2 982.6,624.5 982.95,624.8 983.3,624.9 983.65,624.5 984,624.6 984.35,625.1 984.7,624.1 985.05,623.6 985.4,624.0 985.75,623.5 986.1,622.9 986.45,622.2 986.8,622.4 987.15,622.2 987.5,621.9 987.85,621.5 988.2,621.2 988.55,621.4 988.9,620.6 989.25,619.9 989.6,620.4 989.95,620.2 990.3,620.0 990.65,619.8 991,620.2 991.35,619.8 991.7,619.9 992.05,620.3 992.4,620.7 992.75,621.4 993.1,621.1 993.45,621.1 993.8,622.0 994.15,622.5 994.5,622.5 994.85,623.4 995.2,623.5 995.55,622.7 995.9,624.0 996.25,623.9 996.6,624.5 996.95,623.8 997.3,624.4 997.65,624.8 998,625.2 998.35,624.4 998.7,625.2 999.05,625.5 999.4,624.8 999.75,624.3 1000.1,624.8 1000.45,625.1 1000.8,625.1 1001.15,625.2 1001.5,624.3 1001.85,625.4 1002.2,624.6 1002.55,625.2 1002.9,623.7 1003.25,625.2 1003.6,625.9 1003.95,624.2 1004.3,624.3 1004.65,624.4 1005,624.9 1005.35,624.3 1005.7,623.6 1006.05,622.7 1006.4,624.5 1006.75,623.2 1007.1,623.3 1007.45,623.0 1007.8,622.9 1008.15,622.8 1008.5,621.8 1008.85,620.8 1009.2,621.8 1009.55,620.3 1009.9,620.4 1010.25,620.1 1010.6,619.8 1010.95,619.5 1011.3,619.6 1011.65,619.0 1012,618.4 1012.35,618.2 1012.7,617.9 1013,618.4 1013.05,619.6 1013.4,619.7 1013.75,618.9 1014.1,618.8 1014.45,619.4 1014.8,618.8 1015.15,620.0 1015.5,620.8 1015.85,621.2 1016.2,621.5 1016.55,620.7 1016.9,621.7 1017.25,621.6 1017.6,623.2 1017.95,623.6 1018.3,623.8 1018.65,623.5 1019,624.1 1019.35,623.8 1019.7,624.2 1020.05,623.6 1020.4,625.1 1020.75,624.5 1021.1,624.3 1021.45,624.7 1021.8,625.3 1022.15,626.0 1022.5,625.4 1022.85,624.7 1023.2,625.7 1023.55,625.7 1023.9,626.1 1024.25,625.8 1024.6,625.2 1024.95,625.2 1025.3,624.4 1025.65,625.6 1026,626.7 1026.35,626.2 1026.7,625.6 1027.05,625.8 1027.4,625.9 1027.75,625.9 1028.1,625.8 1028.45,625.5 1028.8,624.9 1029.15,625.5 1029.5,627.4 1029.85,626.9 1030.2,625.9 1030.55,626.2 1030.9,626.3 1031.25,626.0 1031.6,626.2 1031.95,625.8 1032.3,625.9 1032.65,625.6 1033,626.0 1033.35,624.9 1033.7,624.9 1034.05,625.8 1034.4,626.0 1034.75,625.3 1035.1,626.1 1035.45,626.1 1035.8,625.5 1036.15,626.1 1036.5,627.2 1036.85,626.3 1037.2,627.0 1037.55,626.9 1037.9,627.0 1038.25,627.4 1038.6,627.4 1038.95,626.9 1039.3,626.8 1039.65,627.2 1040,627.7 1040.35,627.2 1040.7,626.7 1041.05,626.3 1041.4,626.9 1041.75,627.1 1042.1,626.1 1042.45,625.4 1042.8,625.7 1043.15,625.8 1043.5,625.7 1043.85,625.2 1044.2,625.9 1044.55,625.4 1044.9,625.6 1045.25,626.0 1045.6,624.7 1045.95,626.8 1046.3,625.1 1046.65,626.1 1047,625.5 1047.35,625.5 1047.7,624.2 1048.05,626.5 1048.4,626.8 1048.75,626.6 1049.1,626.5 1049.45,626.3 1049.8,626.7 1050.15,627.4 1050.5,628.1 1050.85,627.2 1051.2,627.1 1051.55,626.3 1051.9,627.1 1052.25,626.0 1052.6,627.2 1052.95,627.2 1053.3,627.1 1053.65,627.6 1054,626.5 1054.35,626.7 1054.7,627.0 1055.05,626.4 1055.4,626.4 1055.75,626.2 1056.1,626.2 1056.45,625.8 1056.8,627.1 1057.15,625.6 1057.5,626.0 1057.85,626.2 1058.2,625.8 1058.55,626.3 1058.9,626.0 1059.25,627.6 1059.6,626.0 1059.95,626.1 1060.3,625.6 1060.65,626.8 1061,625.5 1061.35,624.4 1061.7,626.1 1062.05,625.3 1062.4,624.7 1062.75,625.6 1063.1,625.4 1063.45,624.9 1063.8,625.4 1064.15,625.3 1064.5,624.7 1064.85,625.2 1065.2,626.0 1065.55,625.0 1065.9,624.9 1066.25,625.5 1066.6,624.9 1066.95,624.9 1067.3,626.1 1067.65,625.2 1068,624.7 1068.35,624.6 1068.7,624.6 1069.05,624.8 1069.4,623.5 1069.75,624.4 1070.1,624.6 1070.45,624.5 1070.8,624.6 1071.15,624.3 1071.5,624.3 1071.85,624.0 1072.2,623.9 1072.55,624.4 1072.9,625.7 1073.25,624.6 1073.6,623.1 1073.95,624.5 1074.3,625.1 1074.65,623.8 1075,623.9 1075.35,624.4 1075.7,624.6 1076.05,623.3 1076.4,625.3 1076.75,623.6 1077.1,623.7 1077.45,623.9 1077.8,623.8 1078.15,623.8 1078.5,623.2 1078.85,623.1 1079.2,622.6 1079.55,622.0 1079.9,622.7 1080.25,622.5 1080.6,622.1 1080.95,622.3 1081.3,622.7 1081.65,621.7 1082,620.3 1082.35,620.1 1082.7,620.6 1083.05,619.7 1083.4,618.6 1083.75,619.5 1084.1,618.5 1084.45,617.8 1084.8,617.9 1085.15,616.9 1085.5,618.0 1085.85,617.1 1086.2,616.7 1086.5,616.3 1086.55,616.7 1086.9,617.0 1087.25,616.8 1087.6,616.7 1087.95,617.2 1088.3,616.5 1088.65,617.5 1089,617.3 1089.35,617.6 1089.7,618.6 1090.05,619.1 1090.4,619.2 1090.75,619.6 1091.1,620.2 1091.45,619.7 1091.8,619.6 1092.15,619.9 1092.5,620.7 1092.85,621.0 1093.2,621.2 1093.55,620.9 1093.9,622.4 1094.25,621.4 1094.6,622.9 1094.95,623.0 1095.3,623.1 1095.65,622.7 1096,623.8 1096.35,623.6 1096.7,624.3 1097.05,625.3 1097.4,624.5 1097.75,624.4 1098.1,625.5 1098.45,624.5 1098.8,624.9 1099.15,623.9 1099.5,624.7 1099.85,625.0 1100.2,624.9 1100.55,625.0 1100.9,625.1 1101.25,625.4 1101.6,624.5 1101.95,623.5 1102.3,624.5 1102.65,624.2 1103,625.5 1103.35,624.4 1103.7,624.5 1104.05,623.8 1104.4,625.1 1104.75,624.1 1105.1,624.5 1105.45,624.9 1105.8,624.6 1106.15,623.0 1106.5,624.3 1106.85,624.3 1107.2,624.5 1107.55,624.9 1107.9,624.6 1108.25,625.1 1108.6,624.7 1108.95,623.4 1109.3,623.7 1109.65,625.5 1110,623.8 1110.35,624.6 1110.7,625.1 1111.05,622.5 1111.4,623.6 1111.75,623.8 1112.1,624.1 1112.45,623.7 1112.8,623.5 1113.15,622.9 1113.5,623.5 1113.85,623.6 1114.2,623.1 1114.55,624.7 1114.9,621.7 1115.25,623.7 1115.6,623.7 1115.95,623.2 1116.3,623.7 1116.65,623.0 1117,623.5 1117.35,623.7 1117.7,623.0 1118.05,623.3 1118.4,623.0 1118.75,623.8 1119.1,623.1 1119.45,623.7 1119.8,624.5 1120.15,622.1 1120.5,624.2 1120.85,624.1 1121.2,623.0 1121.55,623.9 1121.9,622.6 1122.25,623.7 1122.6,623.4 1122.95,623.4 1123.3,623.7 1123.65,623.8 1124,623.3 1124.35,622.8 1124.7,623.9 1125.05,624.3 1125.4,624.4 1125.75,623.7 1126.1,624.3 1126.45,623.6 1126.8,622.9 1127.15,624.3 1127.5,623.5 1127.85,623.9 1128.2,623.8 1128.55,623.3 1128.9,623.7 1129.25,623.1 1129.6,623.1 1129.95,622.0 1130.3,623.2 1130.65,622.6 1131,622.7 1131.35,622.7 1131.7,623.2 1132.05,623.0 1132.4,623.2 1132.75,623.0 1133.1,623.4 1133.45,623.4 1133.8,623.0 1134.15,623.4 1134.5,623.9 1134.85,623.6 1135.2,623.6 1135.55,623.5 1135.9,623.7 1136.25,623.8 1136.6,622.6 1136.95,624.0 1137.3,623.4 1137.65,623.2 1138,623.4 1138.35,623.5 1138.7,623.5 1139.05,623.7 1139.4,623.7 1139.75,623.6 1140.1,623.7 1140.45,625.4 1140.8,623.6 1141.15,623.6 1141.5,624.4 1141.85,624.5 1142.2,624.4 1142.55,624.6 1142.9,624.5 1143.25,624.1 1143.6,625.0 1143.95,623.5 1144.3,624.1 1144.65,623.8 1145,624.1 1145.35,623.4 1145.7,624.4 1146.05,623.9 1146.4,623.2 1146.75,623.8 1147.1,623.4 1147.45,623.1 1147.8,622.8 1148.15,624.2 1148.5,623.2 1148.85,622.6 1149.2,622.8 1149.55,624.1 1149.9,622.6 1150.25,622.5 1150.6,621.8 1150.95,621.7 1151.3,623.1 1151.65,623.1 1152,622.3 1152.35,623.2 1152.7,623.3 1153.05,622.5 1153.4,623.5 1153.75,623.9 1154.1,623.6 1154.45,625.0 1154.8,624.1 1155.15,624.0 1155.5,626.0 1155.85,624.6 1156.2,624.4 1156.55,624.7 1156.9,624.4 1157.25,624.5 1157.6,625.1 1157.95,625.2 1158.3,624.8 1158.65,625.5 1159,624.9 1159.35,625.5 1159.7,625.1 1160.05,625.3 1160.4,625.5 1160.75,627.7 1161.1,625.2 1161.45,625.2 1161.8,625.1 1162.15,625.1 1162.5,626.1 1162.85,625.3"/><polyline fill="none" stroke="#ff0000" stroke-width="5.2" stroke-linejoin="round" stroke-linecap="butt" points="88,721.1 88.35,721.2 88.7,721.3 89.05,720.8 89.4,720.5 89.75,722.3 90.1,721.7 90.45,719.7 90.8,722.7 91.15,723.5 91.5,722.1 91.85,722.8 92.2,721.8 92.55,722.5 92.9,723.0 93.25,722.6 93.6,722.8 93.95,722.3 94.3,723.4 94.65,723.1 95,722.9 95.35,723.6 95.7,724.7 96.05,723.6 96.4,723.9 96.75,725.5 97.1,722.7 97.45,724.0 97.8,725.0 98.15,723.4 98.5,723.7 98.85,724.1 99.2,724.3 99.55,724.1 99.9,724.2 100.25,723.2 100.6,724.5 100.95,724.1 101.3,723.6 101.65,725.4 102,724.6 102.35,724.5 102.7,724.9 103.05,724.7 103.4,724.3 103.75,725.1 104.1,725.4 104.45,725.5 104.8,725.4 105.15,726.3 105.5,726.5 105.85,726.3 106.2,725.8 106.55,725.8 106.9,726.3 107.25,726.5 107.6,726.1 107.95,726.7 108.3,726.8 108.65,724.7 109,727.1 109.35,727.3 109.7,728.6 110.05,726.9 110.4,728.7 110.75,728.8 111.1,728.4 111.45,728.0 111.8,728.9 112.15,728.2 112.5,728.6 112.85,729.0 113.2,728.9 113.55,729.0 113.9,728.9 114.25,728.1 114.6,729.0 114.95,729.7 115.3,729.8 115.65,728.7 116,729.6 116.35,729.5 116.7,729.7 117.05,731.3 117.4,730.3 117.75,730.1 118.1,730.2 118.45,731.0 118.8,730.3 119.15,730.8 119.5,730.8 119.85,730.9 120.2,730.7 120.55,731.0 120.9,731.4 121.25,730.8 121.6,731.3 121.95,731.1 122.3,731.2 122.65,731.2 123,731.1 123.35,731.6 123.7,731.3 124.05,731.0 124.4,731.8 124.75,731.5 125.1,731.7 125.45,733.1 125.8,732.0 126.15,732.0 126.5,731.9 126.85,732.5 127.2,733.5 127.55,732.8 127.9,733.0 128.25,732.7 128.6,732.8 128.95,733.0 129.3,733.2 129.65,734.0 130,733.4 130.35,733.1 130.7,733.7 131.05,733.4 131.4,733.9 131.75,733.7 132.1,734.8 132.45,733.8 132.8,734.0 133.15,734.0 133.5,733.9 133.85,735.3 134.2,733.1 134.55,734.4 134.9,733.9 135.25,733.3 135.6,733.8 135.95,734.5 136.3,735.0 136.65,734.7 137,734.2 137.35,734.5 137.7,733.9 138.05,734.5 138.4,734.4 138.75,733.7 139.1,734.7 139.45,735.8 139.8,735.2 140.15,735.1 140.5,734.9 140.85,736.2 141.2,735.0 141.55,734.8 141.9,735.3 142.25,736.2 142.6,736.8 142.95,735.3 143.3,736.1 143.65,736.2 144,736.1 144.35,734.1 144.7,736.3 145.05,736.1 145.4,737.0 145.75,738.4 146.1,736.6 146.45,736.0 146.8,736.5 147.15,737.0 147.5,737.5 147.85,737.1 148.2,737.1 148.55,737.5 148.9,738.0 149.25,737.2 149.6,737.7 149.95,737.8 150.3,737.7 150.65,737.7 151,738.7 151.35,738.2 151.7,737.4 152.05,735.3 152.4,737.6 152.75,737.8 153.1,737.5 153.45,737.8 153.8,738.2 154.15,738.3 154.5,738.5 154.85,738.5 155.2,737.9 155.55,738.2 155.9,738.4 156.25,738.3 156.6,738.3 156.95,738.7 157.3,739.2 157.65,739.0 158,738.2 158.35,737.9 158.7,738.4 159.05,739.0 159.4,738.6 159.75,739.1 160.1,739.0 160.45,740.7 160.8,738.5 161.15,739.6 161.5,738.3 161.85,739.5 162.2,739.5 162.55,739.3 162.9,739.4 163.25,739.6 163.6,739.8 163.95,739.4 164.3,739.9 164.65,739.4 165,740.1 165.35,740.2 165.7,740.1 166.05,740.2 166.4,740.3 166.75,740.2 167.1,739.8 167.45,739.9 167.8,739.9 168.15,742.8 168.5,740.2 168.85,740.4 169.2,739.9 169.55,740.3 169.9,740.3 170.25,740.0 170.6,740.1 170.95,740.1 171.3,740.7 171.65,740.7 172,740.9 172.35,740.2 172.7,740.2 173.05,740.3 173.4,740.0 173.75,740.3 174.1,738.4 174.45,739.7 174.8,738.8 175.15,739.3 175.5,739.1 175.85,739.1 176.2,739.4 176.55,738.4 176.9,738.1 177.25,739.9 177.6,739.2 177.95,739.2 178.3,738.9 178.65,739.4 179,739.7 179.35,740.2 179.7,739.6 180.05,739.2 180.4,740.1 180.75,739.6 181.1,740.0 181.45,740.1 181.8,740.8 182.15,739.2 182.5,739.3 182.85,739.4 183.2,739.9 183.55,739.4 183.9,739.4 184.25,740.0 184.6,739.0 184.95,739.0 185.3,739.1 185.65,739.9 186,739.6 186.35,739.9 186.7,740.1 187.05,740.2 187.4,740.1 187.75,739.7 188.1,740.6 188.45,740.7 188.8,740.2 189.15,739.9 189.5,742.7 189.85,739.5 190.2,740.6 190.55,740.2 190.9,739.8 191.25,740.1 191.6,740.1 191.95,738.6 192.3,740.1 192.65,740.6 193,740.4 193.35,739.8 193.7,740.1 194.05,740.8 194.4,739.5 194.75,740.9 195.1,740.9 195.45,740.8 195.8,740.9 196.15,741.1 196.5,740.5 196.85,742.0 197.2,741.2 197.55,741.5 197.9,740.7 198.25,741.9 198.6,741.6 198.95,741.1 199.3,742.0 199.65,741.9 200,741.3 200.35,741.1 200.7,741.7 201.05,739.4 201.4,742.2 201.75,742.3 202.1,740.5 202.45,742.1 202.8,741.0 203.15,741.6 203.5,741.7 203.85,740.7 204.2,741.0 204.55,742.1 204.9,741.4 205.25,741.3 205.6,740.8 205.95,741.3 206.3,740.0 206.65,740.8 207,740.8 207.35,740.2 207.7,741.1 208.05,740.1 208.4,742.6 208.75,741.3 209.1,741.7 209.45,741.4 209.8,740.9 210.15,741.4 210.5,739.8 210.85,741.3 211.2,741.6 211.55,741.0 211.9,742.1 212.25,741.5 212.6,740.2 212.95,741.3 213.3,741.9 213.65,741.0 214,740.7 214.35,741.0 214.7,741.2 215.05,741.1 215.4,741.0 215.75,741.3 216.1,741.3 216.45,741.6 216.8,743.6 217.15,741.7 217.5,740.9 217.85,741.3 218.2,741.7 218.55,742.8 218.9,741.3 219.25,742.4 219.6,742.2 219.95,742.1 220.3,742.7 220.65,742.9 221,742.9 221.35,742.3 221.7,742.3 222.05,742.3 222.4,742.3 222.75,742.2 223.1,742.5 223.45,742.3 223.8,742.5 224.15,743.6 224.5,742.7 224.85,741.6 225.2,743.2 225.55,742.2 225.9,741.9 226.25,742.1 226.6,741.5 226.95,742.2 227.3,742.5 227.65,742.0 228,743.8 228.35,742.8 228.7,743.0 229.05,742.9 229.4,743.9 229.75,743.9 230.1,743.4 230.45,741.1 230.8,743.8 231.15,743.6 231.5,743.3 231.85,743.9 232.2,744.2 232.55,744.2 232.9,743.5 233.25,744.9 233.6,744.2 233.95,745.0 234.3,744.3 234.65,745.0 235,744.8 235.35,743.3 235.7,745.0 236.05,744.6 236.4,744.4 236.75,742.3 237.1,744.5 237.45,744.5 237.8,744.9 238.15,744.3 238.5,743.6 238.85,744.7 239.2,744.4 239.55,744.4 239.9,744.8 240.25,743.7 240.6,743.7 240.95,746.1 241.3,745.5 241.65,745.4 242,745.2 242.35,745.1 242.7,744.9 243.05,744.3 243.4,745.8 243.75,745.2 244.1,745.7 244.45,744.6 244.8,745.1 245.15,745.3 245.5,745.2 245.85,745.0 246.2,745.6 246.55,744.4 246.9,745.3 247.25,745.2 247.6,745.1 247.95,744.7 248.3,745.3 248.65,745.4 249,745.2 249.35,745.3 249.7,745.3 250.05,745.3 250.4,745.5 250.75,745.5 251.1,745.4 251.45,746.2 251.8,745.7 252.15,745.3 252.5,746.2 252.85,746.7 253.2,745.6 253.55,745.2 253.9,746.2 254.25,746.2 254.6,746.0 254.95,746.2 255.3,746.4 255.65,746.2 256,746.5 256.35,746.4 256.7,746.4 257.05,745.8 257.4,746.7 257.75,746.5 258.1,746.4 258.45,746.1 258.8,748.4 259.15,746.5 259.5,746.7 259.85,746.3 260.2,746.4 260.55,746.5 260.9,746.1 261.25,746.1 261.6,746.7 261.95,746.3 262.3,745.4 262.65,746.5 263,747.2 263.35,746.6 263.7,746.9 264.05,747.5 264.4,746.5 264.75,746.7 265.1,745.8 265.45,747.1 265.8,746.7 266.15,747.4 266.5,747.2 266.85,746.7 267.2,747.7 267.55,747.7 267.9,748.1 268.25,747.3 268.6,747.5 268.95,747.6 269.3,748.1 269.65,748.5 270,747.5 270.35,747.4 270.7,747.6 271.05,747.7 271.4,748.3 271.75,748.2 272.1,747.6 272.45,748.4 272.8,748.5 273.15,748.4 273.5,748.6 273.85,747.6 274.2,748.5 274.55,747.4 274.9,748.6 275.25,748.1 275.6,748.5 275.95,747.4 276.3,747.5 276.65,748.3 277,747.1 277.35,747.6 277.7,748.1 278.05,748.3 278.4,747.3 278.75,747.1 279.1,748.0 279.45,747.6 279.8,747.8 280.15,747.1 280.5,747.9 280.85,748.4 281.2,748.0 281.55,746.8 281.9,747.2 282.25,748.5 282.6,748.0 282.95,747.4 283.3,747.9 283.65,748.1 284,748.2 284.35,747.9 284.7,747.3 285.05,748.3 285.4,748.0 285.75,748.3 286.1,747.8 286.45,748.4 286.8,748.3 287.15,747.7 287.5,747.4 287.85,748.0 288.2,747.6 288.55,747.8 288.9,747.6 289.25,747.8 289.6,747.8 289.95,748.2 290.3,748.1 290.65,747.6 291,748.2 291.35,748.4 291.7,748.1 292.05,747.1 292.4,748.5 292.75,748.4 293.1,747.4 293.45,748.0 293.8,748.5 294.15,748.3 294.5,747.7 294.85,748.0 295.2,747.2 295.55,748.8 295.9,748.5 296.25,747.9 296.6,748.2 296.95,748.5 297.3,748.3 297.65,747.6 298,748.6 298.35,748.5 298.7,747.0 299.05,748.7 299.4,748.2 299.75,748.2 300.1,748.3 300.45,748.6 300.8,748.0 301.15,747.6 301.5,747.7 301.85,748.3 302.2,747.7 302.55,747.6 302.9,747.4 303.25,747.3 303.6,748.0 303.95,748.0 304.3,746.9 304.65,745.1 305,746.4 305.35,746.6 305.7,746.7 306.05,746.9 306.4,746.8 306.75,746.5 307.1,747.2 307.45,745.7 307.8,746.1 308.15,746.4 308.5,746.0 308.85,745.7 309.2,745.6 309.55,743.4 309.9,745.1 310.25,744.6 310.6,744.7 310.95,743.5 311.3,743.5 311.65,744.5 312,742.9 312.35,743.0 312.7,743.2 313.05,742.2 313.4,741.8 313.75,741.5 314.1,740.7 314.45,740.4 314.8,740.0 315.15,738.9 315.5,737.7 315.85,736.4 316.2,734.2 316.55,731.0 316.9,731.4 317.25,727.7 317.6,724.6 317.95,720.6 318.3,715.6 318.65,710.3 319,704.6 319.35,697.6 319.7,690.2 320.05,681.8 320.4,672.8 320.75,663.7 321.1,654.1 321.45,644.1 321.8,636.7 322.15,630.9 322.5,625.7 322.85,623.3 322.9,623.5 323.2,623.9 323.55,628.5 323.9,634.3 324.25,642.3 324.6,652.3 324.95,660.6 325.3,670.2 325.65,677.0 326,687.1 326.35,695.1 326.7,701.6 327.05,708.2 327.4,713.4 327.75,718.2 328.1,721.5 328.45,725.9 328.8,728.3 329.15,730.8 329.5,732.5 329.85,734.4 330.2,735.5 330.55,738.9 330.9,738.6 331.25,739.3 331.6,739.0 331.95,740.0 332.3,741.5 332.65,741.9 333,741.2 333.35,742.0 333.7,742.4 334.05,742.5 334.4,742.6 334.75,742.7 335.1,743.4 335.45,743.2 335.8,743.7 336.15,742.4 336.5,743.8 336.85,744.5 337.2,743.5 337.55,742.2 337.9,744.5 338.25,744.0 338.6,744.6 338.95,743.0 339.3,744.8 339.65,744.9 340,743.8 340.35,745.1 340.7,745.4 341.05,745.7 341.4,745.7 341.75,746.1 342.1,746.4 342.45,745.7 342.8,747.1 343.15,746.3 343.5,746.6 343.85,747.3 344.2,746.8 344.55,746.5 344.9,746.8 345.25,746.3 345.6,745.2 345.95,746.5 346.3,746.1 346.65,746.6 347,744.8 347.35,746.1 347.7,745.7 348.05,744.5 348.4,745.4 348.75,745.7 349.1,745.8 349.45,745.3 349.8,745.3 350.15,745.6 350.5,745.7 350.85,744.9 351.2,743.7 351.55,744.9 351.9,743.8 352.25,743.8 352.6,744.6 352.95,744.7 353.3,743.9 353.65,744.6 354,744.7 354.35,745.1 354.7,744.2 355.05,745.2 355.4,743.7 355.75,744.0 356.1,743.4 356.45,743.4 356.8,743.1 357.15,744.6 357.5,743.7 357.85,742.6 358.2,741.4 358.55,741.5 358.9,741.0 359.25,740.8 359.6,740.6 359.95,740.1 360.3,739.7 360.65,739.6 361,738.7 361.35,738.3 361.7,737.8 362.05,737.0 362.4,736.8 362.75,735.7 363.1,734.9 363.45,735.0 363.8,734.4 364.15,732.9 364.5,732.8 364.85,731.4 365.2,731.0 365.55,730.4 365.9,729.5 366.25,728.3 366.6,727.8 366.95,726.9 367.3,725.0 367.65,725.1 368,722.9 368.35,722.8 368.7,721.1 369.05,720.8 369.4,718.7 369.75,718.3 370.1,716.7 370.45,716.1 370.8,715.2 371.15,714.5 371.5,713.5 371.85,712.6 372.2,709.5 372.55,711.9 372.9,711.4 373.25,710.5 373.4,711.3 373.6,711.0 373.95,711.3 374.3,711.4 374.65,712.2 375,712.6 375.35,713.6 375.7,714.4 376.05,712.0 376.4,715.6 376.75,717.8 377.1,716.2 377.45,718.8 377.8,719.3 378.15,720.7 378.5,721.0 378.85,722.9 379.2,724.3 379.55,725.2 379.9,726.1 380.25,727.6 380.6,728.1 380.95,728.7 381.3,730.1 381.65,731.4 382,731.8 382.35,732.9 382.7,734.3 383.05,734.0 383.4,734.8 383.75,736.4 384.1,737.9 384.45,737.6 384.8,738.9 385.15,739.7 385.5,739.2 385.85,741.2 386.2,741.6 386.55,740.5 386.9,742.1 387.25,742.4 387.6,743.1 387.95,741.9 388.3,743.2 388.65,742.6 389,743.8 389.35,743.2 389.7,744.5 390.05,744.1 390.4,742.3 390.75,744.4 391.1,744.8 391.45,744.6 391.8,744.6 392.15,745.6 392.5,745.5 392.85,744.5 393.2,745.9 393.55,745.2 393.9,746.4 394.25,746.6 394.6,746.0 394.95,744.8 395.3,746.5 395.65,746.7 396,746.6 396.35,746.7 396.7,745.8 397.05,748.0 397.4,746.5 397.75,747.3 398.1,747.1 398.45,747.6 398.8,747.3 399.15,746.9 399.5,747.9 399.85,747.7 400.2,748.2 400.55,747.9 400.9,748.8 401.25,748.3 401.6,748.3 401.95,748.3 402.3,748.4 402.65,748.4 403,748.5 403.35,748.1 403.7,748.9 404.05,748.5 404.4,748.3 404.75,748.7 405.1,748.8 405.45,748.5 405.8,748.8 406.15,748.2 406.5,747.5 406.85,748.1 407.2,748.7 407.55,747.8 407.9,748.6 408.25,748.5 408.6,748.6 408.95,748.4 409.3,748.6 409.65,749.2 410,748.8 410.35,748.2 410.7,749.1 411.05,748.5 411.4,749.1 411.75,749.4 412.1,749.9 412.45,750.2 412.8,750.2 413.15,749.5 413.5,750.1 413.85,750.9 414.2,749.4 414.55,751.5 414.9,751.4 415.25,751.5 415.6,752.2 415.95,751.0 416.3,751.7 416.65,751.6 417,752.0 417.35,751.8 417.7,751.7 418.05,751.6 418.4,752.3 418.75,751.7 419.1,751.4 419.45,751.1 419.8,752.7 420.15,752.5 420.5,752.0 420.85,752.3 421.2,753.0 421.55,752.3 421.9,751.9 422.25,752.4 422.6,752.3 422.95,751.8 423.3,752.3 423.65,753.2 424,753.1 424.35,751.9 424.7,752.7 425.05,751.5 425.4,751.6 425.75,751.2 426.1,751.3 426.45,752.2 426.8,750.8 427.15,750.8 427.5,750.8 427.85,751.4 428.2,750.6 428.55,750.6 428.9,750.7 429.25,751.0 429.6,750.5 429.95,750.9 430.3,751.0 430.65,749.2 431,751.4 431.35,750.7 431.7,751.0 432.05,749.9 432.4,752.0 432.75,750.8 433.1,752.5 433.45,751.7 433.8,752.1 434.15,752.0 434.5,750.7 434.85,752.0 435.2,751.4 435.55,750.9 435.9,752.1 436.25,750.9 436.6,751.4 436.95,750.3 437.3,750.5 437.65,750.2 438,749.4 438.35,749.1 438.7,749.4 439.05,748.1 439.4,747.0 439.75,748.0 440.1,747.9 440.45,746.7 440.8,746.0 441.15,745.5 441.5,745.4 441.85,746.0 442.2,744.8 442.55,744.3 442.9,743.4 443.25,742.9 443.6,742.9 443.95,743.3 444.3,742.5 444.65,743.5 444.9,742.2 445,742.0 445.35,741.5 445.7,742.3 446.05,743.1 446.4,743.7 446.75,743.6 447.1,744.3 447.45,744.5 447.8,745.8 448.15,746.4 448.5,748.0 448.85,748.2 449.2,749.2 449.55,748.5 449.9,749.4 450.25,750.6 450.6,750.3 450.95,750.8 451.3,750.7 451.65,750.4 452,752.2 452.35,752.3 452.7,752.5 453.05,752.8 453.4,753.5 453.75,752.7 454.1,752.4 454.45,752.9 454.8,753.0 455.15,754.0 455.5,754.0 455.85,753.3 456.2,753.8 456.55,753.2 456.9,754.0 457.25,754.2 457.6,753.4 457.95,754.4 458.3,754.3 458.65,755.9 459,754.0 459.35,754.1 459.7,752.8 460.05,754.9 460.4,754.7 460.75,754.6 461.1,754.9 461.45,754.3 461.8,755.1 462.15,755.0 462.5,754.5 462.85,755.2 463.2,755.1 463.55,755.3 463.9,754.7 464.25,755.7 464.6,755.2 464.95,755.9 465.3,757.2 465.65,754.5 466,755.8 466.35,754.4 466.7,755.5 467.05,757.5 467.4,755.9 467.75,755.9 468.1,755.6 468.45,755.5 468.8,755.0 469.15,755.6 469.5,756.7 469.85,755.3 470.2,755.3 470.55,755.5 470.9,754.4 471.25,755.2 471.6,755.7 471.95,754.3 472.3,756.1 472.65,755.0 473,755.1 473.35,753.6 473.7,753.9 474.05,753.9 474.4,753.5 474.75,752.5 475.1,753.6 475.45,751.3 475.8,751.5 476.15,751.4 476.5,750.5 476.85,750.0 477.2,748.5 477.55,748.4 477.9,747.6 478.25,746.2 478.6,745.4 478.95,743.7 479.3,743.5 479.65,744.7 480,742.5 480.35,742.6 480.7,741.6 481.05,741.1 481.4,740.6 481.75,740.7 482.1,740.5 482.45,740.7 482.8,741.4 483.15,741.9 483.5,742.8 483.85,743.5 484.2,743.9 484.55,744.6 484.9,745.9 485.25,746.3 485.6,747.4 485.95,748.6 486.3,749.7 486.65,750.2 487,750.9 487.35,752.0 487.7,752.8 488.05,753.3 488.4,754.1 488.75,754.3 489.1,755.8 489.45,755.5 489.8,755.6 490.15,755.9 490.5,756.8 490.85,756.1 491.2,757.3 491.55,757.7 491.9,757.7 492.25,758.7 492.6,758.5 492.95,758.2 493.3,758.2 493.65,758.3 494,758.3 494.35,758.4 494.7,757.5 495.05,757.4 495.4,757.3 495.75,757.1 496.1,756.6 496.45,757.2 496.8,755.6 497.15,755.0 497.5,754.7 497.85,755.7 498.2,753.5 498.55,752.7 498.9,752.1 499.25,750.4 499.6,749.8 499.95,750.5 500.3,749.7 500.65,750.1 501,749.7 501.35,750.1 501.7,750.1 502.05,750.1 502.4,750.9 502.75,750.8 503.1,751.8 503.45,752.0 503.8,753.1 504.15,753.0 504.5,753.2 504.85,754.4 505.2,754.6 505.55,755.1 505.9,755.0 506.25,755.7 506.6,755.0 506.95,755.5 507.3,754.9 507.65,755.7 508,755.1 508.35,755.1 508.7,754.8 509.05,754.4 509.4,754.1 509.75,753.8 510.1,752.9 510.45,752.3 510.8,751.2 511.15,750.4 511.5,749.2 511.85,748.5 512.2,746.6 512.55,745.2 512.9,744.5 513.25,741.7 513.6,739.6 513.95,737.5 514.3,734.3 514.65,732.6 515,731.2 515.35,731.0 515.5,730.4 515.7,730.7 516.05,731.1 516.4,732.4 516.75,734.5 517.1,736.3 517.45,739.0 517.8,740.9 518.15,742.4 518.5,744.3 518.85,745.1 519.2,747.0 519.55,747.0 519.9,748.1 520.25,748.6 520.6,748.4 520.95,749.4 521.3,748.2 521.65,748.6 522,749.6 522.35,750.5 522.7,748.7 523.05,749.4 523.4,749.5 523.75,750.0 524.1,749.8 524.45,750.4 524.8,749.7 525.15,749.7 525.5,750.6 525.8,749.9 525.85,749.7 526.2,749.8 526.55,750.2 526.9,751.0 527.25,751.3 527.6,751.0 527.95,752.3 528.3,751.9 528.65,753.8 529,754.3 529.35,754.9 529.7,755.8 530.05,755.9 530.4,755.4 530.75,756.0 531.1,757.3 531.45,757.2 531.8,758.2 532.15,756.9 532.5,758.4 532.85,757.0 533.2,758.3 533.55,757.7 533.9,758.0 534.25,756.5 534.6,757.1 534.95,757.5 535.3,756.7 535.65,755.9 536,756.0 536.35,755.8 536.7,755.0 537.05,753.5 537.4,755.0 537.75,751.8 538.1,752.2 538.45,751.1 538.8,750.3 539.15,749.6 539.5,748.1 539.85,746.2 540.2,745.9 540.55,744.2 540.9,743.2 541.25,741.5 541.6,740.3 541.95,739.5 542.3,738.2 542.65,737.1 543,737.2 543.35,735.7 543.7,734.5 544.05,733.5 544.4,733.4 544.7,734.0 544.75,734.6 545.1,734.8 545.45,734.9 545.8,735.3 546.15,736.6 546.5,737.3 546.85,738.1 547.2,739.4 547.55,741.2 547.9,741.8 548.25,743.6 548.6,745.2 548.95,744.7 549.3,747.2 549.65,748.9 549.7,748.7 550,749.3 550.35,751.1 550.7,752.7 551.05,752.9 551.4,754.2 551.75,755.4 552.1,755.6 552.45,756.6 552.8,756.9 553.15,757.4 553.5,758.0 553.85,758.3 554.2,759.1 554.55,759.2 554.9,759.4 555.25,759.8 555.6,759.5 555.95,759.8 556.3,760.1 556.65,760.3 557,760.1 557.35,759.5 557.7,759.9 558.05,759.2 558.4,759.7 558.75,759.5 559.1,759.3 559.45,759.7 559.8,759.7 560.15,760.6 560.5,760.3 560.85,760.3 561.2,760.2 561.55,760.8 561.9,760.5 562.25,760.8 562.6,760.4 562.95,759.9 563.3,760.9 563.65,760.8 564,760.7 564.35,760.8 564.7,760.3 565.05,759.9 565.4,760.6 565.75,759.9 566.1,760.2 566.45,758.9 566.8,758.2 567.15,758.8 567.5,760.0 567.85,759.4 568.2,759.3 568.55,759.5 568.9,760.2 569.25,759.0 569.6,758.5 569.95,759.4 570.3,759.6 570.65,759.4 571,758.8 571.35,759.4 571.7,759.2 572.05,759.5 572.4,759.4 572.75,760.0 573.1,759.0 573.45,759.2 573.8,758.3 574.15,759.5 574.5,759.4 574.85,760.1 575.2,759.1 575.55,759.8 575.9,760.4 576.25,759.9 576.6,760.2 576.95,761.1 577.3,760.8 577.65,758.9 578,760.6 578.35,760.4 578.7,760.5 579.05,760.3 579.4,761.8 579.75,760.7 580.1,760.3 580.45,760.6 580.8,759.9 581.15,760.8 581.5,760.8 581.85,760.3 582.2,759.6 582.55,760.1 582.9,757.4 583.25,759.1 583.6,759.6 583.95,759.3 584.3,759.7 584.65,759.7 585,759.4 585.35,759.0 585.7,760.7 586.05,759.7 586.4,760.2 586.75,758.9 587.1,758.6 587.45,758.4 587.8,759.6 588.15,760.0 588.5,759.5 588.85,761.2 589.2,760.0 589.55,759.4 589.9,760.0 590.25,759.6 590.6,759.1 590.95,757.0 591.3,758.8 591.65,759.0 592,759.6 592.35,759.1 592.7,758.8 593.05,759.1 593.4,758.2 593.75,759.0 594.1,758.6 594.45,758.8 594.8,758.7 595.15,759.0 595.5,758.4 595.85,758.9 596.2,757.6 596.55,759.9 596.9,758.2 597.25,757.0 597.6,758.2 597.95,758.6 598,757.9 598.3,757.7 598.65,758.5 599,758.3 599.35,758.0 599.7,758.4 600.05,758.1 600.4,756.9 600.75,757.5 601.1,757.8 601.45,757.5 601.8,757.4 602.15,757.6 602.5,757.4 602.85,759.1 603.2,758.3 603.55,758.0 603.9,758.8 604.25,758.0 604.6,758.4 604.95,758.3 605.3,758.0 605.65,758.3 606,758.4 606.35,757.3 606.7,758.6 607.05,758.3 607.4,759.1 607.75,758.0 608.1,758.9 608.45,758.8 608.8,759.6 609.15,758.9 609.5,759.5 609.85,758.1 610.2,759.1 610.55,758.7 610.9,759.0 611.25,759.6 611.6,760.1 611.95,757.2 612.3,759.3 612.65,759.9 613,759.5 613.35,758.1 613.7,759.7 614.05,759.5 614.4,761.0 614.75,759.1 615.1,759.8 615.45,759.6 615.8,760.5 616.15,760.2 616.5,759.6 616.85,759.2 617.2,759.7 617.55,758.3 617.9,759.4 618.25,759.5 618.6,759.4 618.95,759.6 619.3,759.1 619.65,759.5 620,759.2 620.35,760.3 620.7,759.4 621.05,759.2 621.4,759.3 621.75,758.5 622.1,759.4 622.45,758.6 622.8,759.1 623.15,759.4 623.5,759.9 623.85,759.0 624.2,760.0 624.55,759.2 624.9,758.6 625.25,759.4 625.6,758.6 625.95,758.8 626.3,760.5 626.65,759.1 627,759.4 627.35,759.2 627.7,758.9 628.05,759.0 628.4,758.6 628.75,758.1 629.1,759.1 629.45,758.3 629.8,759.8 630.15,760.3 630.5,759.9 630.85,759.8 631.2,759.9 631.55,760.2 631.9,759.8 632.25,760.2 632.6,760.8 632.95,760.4 633.3,759.8 633.65,760.4 634,759.8 634.35,760.3 634.7,759.3 635.05,760.5 635.4,760.1 635.75,760.0 636.1,760.0 636.45,759.5 636.8,758.8 637.15,759.8 637.5,759.6 637.85,759.1 638.2,759.5 638.55,758.9 638.9,758.8 639.25,758.8 639.6,758.6 639.95,758.5 640.3,759.3 640.65,757.6 641,758.4 641.35,758.7 641.7,758.8 642.05,758.4 642.4,758.7 642.75,758.6 643.1,759.2 643.45,759.1 643.8,757.7 644.15,758.9 644.5,759.6 644.85,759.3 645.2,760.1 645.55,759.4 645.9,758.7 646.25,758.6 646.6,760.1 646.95,758.3 647.3,758.6 647.65,758.8 648,758.5 648.35,758.1 648.7,758.4 649.05,758.4 649.4,758.0 649.75,759.2 650.1,757.3 650.45,755.9 650.8,756.9 651.15,756.3 651.5,755.4 651.85,755.4 652.2,753.4 652.55,754.6 652.9,754.2 653.25,754.4 653.6,753.1 653.95,752.6 654.3,751.9 654.65,752.9 655,751.8 655.35,751.7 655.7,751.8 656.05,751.1 656.4,749.8 656.75,749.9 657.1,749.2 657.45,747.9 657.8,748.2 658.15,748.5 658.5,748.7 658.85,747.5 659.2,746.9 659.55,747.2 659.9,746.4 660.25,746.4 660.6,745.8 660.95,745.7 661,745.8 661.3,746.2 661.65,745.3 662,744.2 662.35,744.1 662.7,743.7 663.05,743.3 663.4,743.0 663.75,744.0 664.1,741.9 664.45,741.5 664.8,739.3 665.15,740.0 665.5,737.8 665.85,737.0 666.2,735.6 666.55,734.8 666.9,733.1 667.25,731.0 667.6,728.0 667.95,728.1 668.3,726.1 668.65,724.8 669,722.4 669.35,721.6 669.7,719.8 670.05,719.1 670.4,717.3 670.75,716.8 671.1,716.7 671.4,716.7 671.45,716.9 671.8,717.0 672.15,717.1 672.5,718.7 672.85,721.1 673.2,721.7 673.55,724.6 673.9,726.7 674.25,726.9 674.6,729.9 674.95,732.3 675.3,734.7 675.65,736.3 676,737.7 676.35,739.3 676.7,741.3 677.05,743.1 677.4,745.6 677.75,746.0 678.1,747.5 678.45,749.3 678.8,749.4 679.15,750.2 679.5,749.7 679.85,752.4 680.2,753.3 680.55,753.7 680.9,754.2 681.25,753.9 681.6,755.2 681.95,755.9 682.3,755.8 682.65,757.2 683,755.8 683.35,756.7 683.7,757.0 684.05,756.2 684.4,757.3 684.75,757.0 685.1,756.9 685.45,757.1 685.8,757.6 686.15,757.2 686.5,757.2 686.85,758.1 687.2,757.2 687.55,757.6 687.9,757.7 688.25,758.0 688.6,758.7 688.95,758.0 689.3,759.7 689.65,759.4 690,758.8 690.35,759.2 690.7,759.5 691.05,759.2 691.4,759.6 691.75,760.1 692.1,759.8 692.45,759.9 692.8,760.0 693.15,760.4 693.5,760.1 693.85,759.2 694.2,760.0 694.55,759.2 694.9,759.4 695.25,759.8 695.6,759.3 695.95,759.7 696.3,759.8 696.65,759.6 697,760.5 697.35,760.2 697.7,759.5 698.05,760.4 698.4,759.5 698.75,759.3 699.1,760.5 699.45,760.0 699.8,759.7 700.15,760.2 700.5,760.6 700.85,761.0 701.2,761.1 701.55,761.7 701.9,761.4 702.25,761.7 702.6,760.9 702.95,761.1 703.3,760.3 703.65,760.7 704,760.7 704.35,761.2 704.7,761.3 705.05,760.4 705.4,760.1 705.75,760.1 706.1,760.0 706.45,759.5 706.8,760.4 707.15,759.6 707.5,759.9 707.85,759.4 708.2,759.7 708.55,759.6 708.9,759.9 709.25,760.2 709.6,758.8 709.95,759.5 710.3,760.1 710.65,760.9 711,760.7 711.35,762.2 711.7,761.0 712.05,761.0 712.4,761.5 712.75,761.8 713.1,762.3 713.45,763.4 713.8,761.6 714.15,761.3 714.5,762.0 714.85,761.8 715.2,762.4 715.55,761.0 715.9,762.1 716.25,761.5 716.6,761.2 716.95,761.6 717.3,761.3 717.65,761.6 718,761.2 718.35,760.8 718.7,761.4 719.05,760.9 719.4,761.7 719.75,761.9 720.1,761.9 720.45,761.3 720.8,762.1 721.15,761.3 721.5,761.7 721.85,761.8 722.2,762.4 722.55,761.9 722.9,761.7 723.25,759.6 723.6,760.2 723.95,762.4 724.3,762.3 724.65,761.9 725,761.9 725.35,761.5 725.7,761.6 726.05,762.1 726.4,760.7 726.75,761.3 727.1,761.9 727.45,761.5 727.8,761.5 728.15,760.6 728.5,761.3 728.85,761.2 729.2,761.1 729.55,761.6 729.9,761.2 730.25,762.2 730.6,761.7 730.95,762.0 731.3,761.8 731.65,761.7 732,763.0 732.35,762.0 732.7,762.3 733.05,761.9 733.4,762.2 733.75,762.9 734.1,761.8 734.45,761.5 734.8,761.2 735.15,760.2 735.5,761.2 735.85,760.7 736.2,760.2 736.55,761.6 736.9,761.9 737.25,760.3 737.6,761.0 737.95,761.1 738.3,760.6 738.65,761.0 739,759.8 739.35,760.6 739.7,761.1 740.05,761.1 740.4,760.6 740.75,761.2 741.1,761.4 741.45,760.9 741.8,760.7 742.15,760.1 742.5,761.4 742.85,760.9 743.2,761.3 743.55,761.2 743.9,761.4 744.25,762.7 744.6,762.2 744.95,761.9 745.3,761.8 745.65,761.9 746,763.3 746.35,760.7 746.7,762.4 747.05,762.8 747.4,762.2 747.75,761.8 748.1,761.5 748.45,762.6 748.8,761.9 749.15,761.8 749.5,762.2 749.85,761.8 750.2,760.6 750.55,760.7 750.9,761.7 751.25,761.1 751.6,760.8 751.95,760.8 752.3,760.7 752.65,759.1 753,759.3 753.35,759.8 753.7,758.7 754.05,758.7 754.4,757.6 754.75,757.2 755.1,756.7 755.45,757.2 755.8,756.1 756.15,755.1 756.5,754.5 756.85,753.4 757.2,752.4 757.55,752.1 757.9,751.3 758.25,751.9 758.6,749.4 758.95,749.1 759.3,747.9 759.65,746.5 760,745.8 760.35,744.8 760.7,744.3 761.05,742.2 761.4,742.9 761.75,742.9 762.1,742.1 762.45,741.7 762.6,742.0 762.8,741.8 763.15,742.2 763.5,743.2 763.85,742.9 764.2,744.0 764.55,744.1 764.9,745.8 765.25,745.7 765.6,748.1 765.95,747.3 766.3,748.3 766.65,749.6 767,750.3 767.35,750.6 767.7,751.9 768.05,752.4 768.4,752.4 768.75,753.7 769.1,755.5 769.45,755.2 769.8,755.8 770.15,755.0 770.5,756.2 770.85,756.6 771.2,756.9 771.55,757.7 771.9,757.2 772.25,757.9 772.6,757.2 772.95,756.8 773.3,756.1 773.65,757.5 774,755.4 774.35,755.6 774.7,755.1 775.05,754.5 775.4,753.9 775.75,752.5 776.1,752.0 776.45,750.1 776.8,748.7 777.15,748.3 777.5,746.5 777.85,744.5 778.2,743.3 778.55,742.5 778.9,741.3 779.25,741.1 779.4,740.5 779.6,741.1 779.95,741.7 780.3,741.5 780.65,740.9 781,743.3 781.35,745.2 781.7,746.6 782.05,747.0 782.4,748.5 782.75,749.2 783.1,749.8 783.45,751.2 783.8,751.9 784.15,754.1 784.5,754.3 784.85,755.7 785.2,755.0 785.55,755.3 785.9,755.4 786.25,755.7 786.6,757.1 786.95,756.8 787.3,756.3 787.65,756.4 788,756.8 788.35,756.6 788.7,757.4 789.05,757.9 789.4,756.7 789.75,757.3 790.1,756.9 790.45,756.6 790.8,755.4 791.15,756.3 791.5,755.9 791.85,755.2 792.2,755.7 792.55,753.5 792.9,756.2 793.25,754.4 793.6,755.1 793.95,755.4 794.3,753.8 794.65,754.1 795,754.2 795.35,753.4 795.7,753.8 796.05,752.8 796.4,752.8 796.75,753.4 797.1,754.0 797.45,752.0 797.8,752.4 798.15,751.5 798.5,751.0 798.85,750.5 799.2,751.4 799.55,750.5 799.9,750.3 800.25,751.2 800.6,750.3 800.95,750.4 801.3,750.1 801.65,748.7 802,748.9 802.35,749.5 802.7,748.3 803.05,749.6 803.4,748.1 803.75,748.4 804.1,749.2 804.3,748.0 804.45,748.1 804.8,748.6 805.15,748.4 805.5,748.0 805.85,748.4 806.2,748.4 806.55,747.9 806.9,748.6 807.25,748.5 807.6,748.7 807.95,749.3 808.3,751.2 808.65,749.3 809,750.7 809.35,750.3 809.7,752.2 810.05,752.0 810.4,754.9 810.75,752.9 811.1,752.6 811.45,753.9 811.8,752.7 812.15,753.5 812.5,754.1 812.85,754.0 813.2,754.5 813.55,754.8 813.9,754.8 814.25,754.8 814.6,754.5 814.95,755.2 815.3,755.9 815.65,755.4 816,755.5 816.35,756.3 816.7,756.1 817.05,756.3 817.4,757.2 817.75,757.7 818.1,756.9 818.45,758.2 818.8,757.1 819.15,757.2 819.5,758.8 819.85,758.2 820.2,758.8 820.55,758.6 820.9,758.3 821.25,759.2 821.6,759.6 821.95,759.6 822.3,759.5 822.65,760.2 823,760.7 823.35,760.4 823.7,761.0 824.05,760.4 824.4,760.5 824.75,760.8 825.1,759.9 825.45,760.5 825.8,760.4 826.15,760.2 826.5,760.7 826.85,760.2 827.2,760.8 827.55,760.3 827.9,761.4 828.25,760.2 828.6,759.9 828.95,760.6 829.3,760.3 829.65,760.4 830,761.3 830.35,760.9 830.7,761.1 831.05,762.3 831.4,760.7 831.75,761.4 832.1,762.3 832.45,761.7 832.8,761.4 833.15,761.3 833.5,761.6 833.85,761.9 834.2,762.1 834.55,761.2 834.9,761.6 835.25,760.6 835.6,761.3 835.95,760.5 836.3,761.2 836.65,761.4 837,760.2 837.35,761.4 837.7,760.9 838.05,761.5 838.4,761.2 838.75,760.8 839.1,760.6 839.45,760.7 839.8,761.7 840.15,761.4 840.5,761.7 840.85,761.4 841.2,761.1 841.55,761.7 841.9,762.6 842.25,761.7 842.6,761.7 842.95,762.3 843.3,761.7 843.65,761.9 844,761.9 844.35,763.2 844.7,761.7 845.05,761.2 845.4,761.9 845.75,762.1 846.1,762.0 846.45,762.7 846.8,763.7 847.15,761.6 847.5,762.6 847.85,761.9 848.2,762.4 848.55,762.2 848.9,761.9 849.25,762.4 849.6,762.3 849.95,762.8 850.3,761.5 850.65,762.7 851,762.7 851.35,762.5 851.7,762.4 852.05,760.7 852.4,762.1 852.75,762.6 853.1,762.4 853.45,762.6 853.8,762.5 854.15,762.7 854.5,762.8 854.85,762.7 855.2,762.9 855.55,763.4 855.9,763.4 856.25,763.2 856.6,763.1 856.95,762.7 857.3,763.3 857.65,763.4 858,763.4 858.35,763.5 858.7,763.3 859.05,761.5 859.4,763.5 859.75,764.4 860.1,763.4 860.45,762.2 860.8,762.6 861.15,762.7 861.5,762.0 861.85,762.3 862.2,762.2 862.55,762.4 862.9,762.0 863.25,762.4 863.6,763.2 863.95,762.7 864.3,761.5 864.65,761.6 865,762.0 865.35,762.1 865.7,763.7 866.05,763.1 866.4,762.1 866.75,761.8 867.1,762.1 867.45,762.1 867.8,761.8 868.15,762.9 868.5,762.0 868.85,762.1 869.2,762.4 869.55,761.2 869.9,761.8 870.25,762.1 870.6,761.9 870.95,762.4 871.3,761.9 871.65,762.4 872,763.1 872.35,762.8 872.7,762.3 873.05,762.8 873.4,762.6 873.75,762.6 874.1,763.2 874.45,763.2 874.8,762.8 875.15,762.3 875.5,762.4 875.85,762.7 876.2,761.1 876.55,761.7 876.9,761.9 877.25,760.7 877.6,760.9 877.95,761.5 878.3,761.8 878.65,761.5 879,761.5 879.35,761.4 879.7,761.7 880.05,760.9 880.4,760.9 880.75,762.0 881.1,761.1 881.45,761.4 881.8,761.7 882.15,761.4 882.5,760.9 882.85,762.6 883.2,761.3 883.55,762.1 883.9,762.1 884.25,761.7 884.6,762.1 884.95,760.8 885.3,762.0 885.65,761.3 886,760.5 886.35,760.3 886.7,761.4 887.05,760.0 887.4,759.5 887.75,760.0 888.1,759.7 888.45,758.5 888.8,759.8 889.15,758.7 889.5,757.8 889.85,757.1 890.2,757.3 890.55,756.9 890.9,756.6 891.25,756.5 891.6,755.9 891.95,754.9 892.3,754.5 892.65,753.8 893,752.9 893.35,752.4 893.7,752.5 894.05,751.5 894.4,751.0 894.75,749.8 895.1,749.3 895.45,749.0 895.8,748.8 896.15,746.8 896.5,747.3 896.85,747.0 897.2,747.7 897.55,746.9 897.9,747.4 898.25,748.4 898.6,748.4 898.95,748.5 899.3,748.1 899.65,749.6 900,749.8 900.35,751.1 900.7,751.6 901.05,751.7 901.4,752.7 901.75,754.5 902.1,754.8 902.45,755.4 902.8,755.6 903.15,756.0 903.5,756.8 903.85,758.1 904.2,757.3 904.55,757.9 904.9,758.3 905.25,757.1 905.6,758.6 905.95,759.9 906.3,760.0 906.65,760.5 907,760.6 907.35,761.7 907.7,761.0 908.05,761.2 908.4,761.8 908.75,761.8 909.1,761.5 909.45,762.3 909.8,762.6 910.15,761.6 910.5,762.7 910.85,762.5 911.2,763.2 911.55,764.3 911.9,763.6 912.25,763.2 912.6,763.7 912.95,763.4 913.3,763.1 913.65,763.7 914,763.4 914.35,763.5 914.7,762.4 915.05,762.1 915.4,763.9 915.75,762.3 916.1,763.0 916.45,762.9 916.8,763.1 917.15,763.4 917.5,763.1 917.85,762.9 918.2,763.0 918.55,763.5 918.9,763.0 919.25,763.6 919.6,763.2 919.95,763.3 920.3,762.6 920.65,763.2 921,763.3 921.35,762.1 921.7,763.3 922.05,763.2 922.4,763.6 922.75,763.4 923.1,763.3 923.45,763.8 923.8,763.0 924.15,763.4 924.5,763.5 924.85,763.3 925.2,763.6 925.55,763.4 925.9,763.5 926.25,763.5 926.6,765.0 926.95,762.5 927.3,764.0 927.65,763.6 928,763.1 928.35,763.5 928.7,764.2 929.05,763.5 929.4,763.4 929.75,763.4 930.1,765.3 930.45,764.4 930.8,763.6 931.15,761.6 931.5,763.1 931.85,763.5 932.2,762.0 932.55,762.6 932.9,763.9 933.25,763.4 933.6,763.6 933.95,763.6 934.3,763.2 934.65,763.0 935,763.7 935.35,763.3 935.7,763.6 936.05,763.5 936.4,763.5 936.75,763.4 937.1,765.4 937.45,762.8 937.8,763.5 938.15,763.8 938.5,763.2 938.85,763.8 939.2,763.8 939.55,764.0 939.9,764.3 940.25,763.7 940.6,764.6 940.95,763.4 941.3,764.9 941.65,764.1 942,763.9 942.35,763.0 942.7,764.2 943.05,761.9 943.4,764.2 943.75,763.8 944.1,764.1 944.45,763.9 944.8,764.1 945.15,763.6 945.5,763.4 945.85,763.2 946.2,763.3 946.55,764.3 946.9,764.1 947.25,763.2 947.6,763.6 947.95,763.6 948.3,763.2 948.65,763.1 949,763.1 949.35,762.4 949.7,762.8 950.05,762.7 950.4,761.9 950.75,763.7 951.1,762.9 951.45,762.5 951.8,763.0 952.15,763.2 952.5,763.0 952.85,763.2 953.2,763.5 953.55,763.1 953.9,764.7 954.25,762.8 954.6,763.5 954.95,763.2 955.3,765.9 955.65,764.4 956,763.5 956.35,763.1 956.7,763.3 957.05,763.4 957.4,763.7 957.75,763.0 958.1,763.8 958.45,763.5 958.8,764.0 959.15,764.7 959.5,763.5 959.85,763.4 960.2,764.0 960.55,764.1 960.9,761.9 961.25,763.1 961.6,763.3 961.95,764.6 962.3,763.7 962.65,763.2 963,765.2 963.35,763.6 963.7,764.8 964.05,763.6 964.4,764.7 964.75,764.7 965.1,764.5 965.45,764.6 965.8,764.0 966.15,765.2 966.5,765.0 966.85,764.6 967.2,763.9 967.55,764.5 967.9,764.7 968.25,764.4 968.6,763.9 968.95,762.5 969.3,763.3 969.65,765.0 970,762.5 970.35,764.1 970.7,764.4 971.05,766.5 971.4,763.8 971.75,764.1 972.1,765.6 972.45,764.1 972.8,763.2 973.15,763.9 973.5,763.9 973.85,763.8 974.2,762.9 974.55,763.8 974.9,763.6 975.25,763.9 975.6,764.1 975.95,763.4 976.3,763.8 976.65,763.2 977,763.9 977.35,763.1 977.7,763.0 978.05,763.4 978.4,763.5 978.75,762.5 979.1,763.5 979.45,763.3 979.8,763.0 980.15,763.2 980.5,762.9 980.85,761.8 981.2,762.9 981.55,762.1 981.9,763.1 982.25,762.0 982.6,762.4 982.95,761.3 983.3,762.3 983.65,762.6 984,761.6 984.35,760.5 984.7,760.4 985.05,760.4 985.4,761.7 985.75,760.1 986.1,759.9 986.45,759.8 986.8,759.9 987.15,758.6 987.5,759.5 987.85,760.2 988.2,759.2 988.55,758.5 988.9,758.6 989.25,758.8 989.6,759.2 989.95,759.0 990,758.0 990.3,758.7 990.65,758.3 991,758.5 991.35,758.5 991.7,758.1 992.05,759.2 992.4,759.0 992.75,759.2 993.1,759.1 993.45,759.8 993.8,760.0 994.15,760.3 994.5,759.5 994.85,760.7 995.2,759.4 995.55,761.0 995.9,761.3 996.25,761.5 996.6,761.4 996.95,762.8 997.3,762.8 997.65,762.9 998,761.9 998.35,761.7 998.7,761.6 999.05,762.0 999.4,761.9 999.75,762.2 1000.1,762.6 1000.45,762.4 1000.8,762.6 1001.15,762.7 1001.5,763.3 1001.85,762.6 1002.2,761.8 1002.55,760.9 1002.9,761.9 1003.25,761.9 1003.6,761.7 1003.95,761.7 1004.3,761.2 1004.65,761.2 1005,761.6 1005.35,761.3 1005.7,760.7 1006.05,760.9 1006.4,761.0 1006.75,761.1 1007.1,759.8 1007.45,760.1 1007.8,759.9 1008.15,760.1 1008.5,759.9 1008.85,758.8 1009.2,759.6 1009.55,759.3 1009.9,757.6 1010.25,758.3 1010.6,757.3 1010.95,757.2 1011.3,756.0 1011.65,756.8 1012,756.6 1012.35,756.1 1012.7,756.3 1013.05,755.7 1013.4,756.8 1013.75,756.9 1014.1,758.3 1014.45,757.2 1014.8,758.5 1015.15,758.4 1015.5,759.5 1015.85,759.6 1016.2,759.4 1016.55,759.4 1016.9,760.6 1017.25,760.1 1017.6,760.7 1017.95,761.1 1018.3,759.0 1018.65,761.0 1019,761.2 1019.35,760.9 1019.7,761.5 1020.05,761.5 1020.4,761.4 1020.75,761.9 1021.1,761.7 1021.45,761.8 1021.8,762.0 1022.15,762.2 1022.5,762.2 1022.85,763.5 1023.2,761.3 1023.55,762.8 1023.9,762.5 1024.25,763.3 1024.6,762.8 1024.95,763.9 1025.3,764.9 1025.65,764.0 1026,764.2 1026.35,764.0 1026.7,764.3 1027.05,764.8 1027.4,764.3 1027.75,764.7 1028.1,765.2 1028.45,765.0 1028.8,764.6 1029.15,764.5 1029.5,765.2 1029.85,764.3 1030.2,763.9 1030.55,763.5 1030.9,763.9 1031.25,763.8 1031.6,764.4 1031.95,763.6 1032.3,763.8 1032.65,764.0 1033,763.8 1033.35,763.8 1033.7,763.8 1034.05,763.9 1034.4,764.3 1034.75,763.7 1035.1,764.7 1035.45,763.5 1035.8,764.1 1036.15,764.0 1036.5,764.1 1036.85,764.0 1037.2,764.3 1037.55,763.8 1037.9,762.6 1038.25,762.9 1038.6,765.0 1038.95,763.9 1039.3,763.1 1039.65,763.5 1040,762.7 1040.35,763.2 1040.7,763.4 1041.05,763.7 1041.4,763.1 1041.75,763.2 1042.1,763.8 1042.45,763.5 1042.8,763.2 1043.15,763.4 1043.5,763.2 1043.85,764.2 1044.2,764.0 1044.55,765.0 1044.9,764.0 1045.25,763.9 1045.6,764.1 1045.95,762.7 1046.3,763.3 1046.65,763.9 1047,764.1 1047.35,762.9 1047.7,764.5 1048.05,763.9 1048.4,763.6 1048.75,763.6 1049.1,763.4 1049.45,763.0 1049.8,763.3 1050.15,763.0 1050.5,763.3 1050.85,763.1 1051.2,762.7 1051.55,763.0 1051.9,763.7 1052.25,763.5 1052.6,763.2 1052.95,763.8 1053.3,763.2 1053.65,762.9 1054,762.5 1054.35,763.2 1054.7,763.2 1055.05,762.8 1055.4,763.4 1055.75,763.4 1056.1,763.2 1056.45,763.3 1056.8,763.7 1057.15,762.5 1057.5,762.9 1057.85,764.5 1058.2,763.8 1058.55,764.2 1058.9,762.4 1059.25,764.5 1059.6,764.6 1059.95,764.3 1060.3,764.1 1060.65,764.2 1061,764.1 1061.35,764.0 1061.7,765.3 1062.05,765.1 1062.4,765.3 1062.75,763.6 1063.1,764.4 1063.45,764.2 1063.8,764.2 1064.15,764.7 1064.5,764.7 1064.85,763.0 1065.2,763.9 1065.55,764.2 1065.9,763.7 1066.25,763.8 1066.6,763.0 1066.95,762.5 1067.3,763.6 1067.65,763.3 1068,763.7 1068.35,763.8 1068.7,762.8 1069.05,764.0 1069.4,763.8 1069.75,762.9 1070.1,763.4 1070.45,764.1 1070.8,763.2 1071.15,762.9 1071.5,762.8 1071.85,763.0 1072.2,763.2 1072.55,762.8 1072.9,761.9 1073.25,762.5 1073.6,763.4 1073.95,763.2 1074.3,763.0 1074.65,762.4 1075,761.5 1075.35,763.6 1075.7,762.5 1076.05,761.7 1076.4,761.3 1076.75,761.2 1077.1,760.8 1077.45,761.6 1077.8,760.9 1078.15,760.6 1078.5,760.5 1078.85,760.5 1079.2,760.0 1079.55,759.7 1079.9,759.9 1080.25,759.7 1080.6,758.8 1080.95,758.8 1081.3,756.7 1081.65,757.9 1082,757.8 1082.35,757.2 1082.7,757.0 1083.05,757.7 1083.4,756.9 1083.75,757.1 1084.1,756.3 1084.45,756.4 1084.8,756.3 1085,756.5 1085.15,755.9 1085.5,756.3 1085.85,756.5 1086.2,756.1 1086.55,756.6 1086.9,757.1 1087.25,757.1 1087.6,757.5 1087.95,758.0 1088.3,759.0 1088.65,758.8 1089,759.3 1089.35,759.1 1089.7,759.7 1090.05,759.1 1090.4,760.5 1090.75,759.8 1091.1,759.7 1091.45,761.0 1091.8,759.9 1092.15,760.1 1092.5,760.4 1092.85,761.9 1093.2,760.4 1093.55,761.4 1093.9,762.7 1094.25,761.9 1094.6,762.5 1094.95,762.2 1095.3,762.2 1095.65,763.0 1096,762.0 1096.35,763.1 1096.7,763.3 1097.05,762.9 1097.4,761.9 1097.75,763.6 1098.1,762.3 1098.45,763.7 1098.8,762.8 1099.15,763.1 1099.5,762.4 1099.85,761.9 1100.2,761.8 1100.55,762.6 1100.9,762.2 1101.25,762.6 1101.6,762.3 1101.95,760.9 1102.3,762.2 1102.65,761.3 1103,762.6 1103.35,761.8 1103.7,761.2 1104.05,762.0 1104.4,761.5 1104.75,760.8 1105.1,762.1 1105.45,761.9 1105.8,761.7 1106.15,762.0 1106.5,761.4 1106.85,759.7 1107.2,762.0 1107.55,761.7 1107.9,761.8 1108.25,760.7 1108.6,761.3 1108.95,760.7 1109.3,762.1 1109.65,761.5 1110,760.6 1110.35,761.7 1110.7,761.7 1111.05,761.0 1111.4,762.3 1111.75,761.6 1112.1,761.0 1112.45,761.5 1112.8,761.7 1113.15,761.2 1113.5,761.1 1113.85,762.0 1114.2,761.3 1114.55,761.6 1114.9,761.5 1115.25,761.8 1115.6,762.4 1115.95,761.1 1116.3,761.3 1116.65,762.2 1117,762.4 1117.35,761.8 1117.7,762.0 1118.05,762.4 1118.4,761.7 1118.75,762.2 1119.1,762.1 1119.45,761.9 1119.8,762.2 1120.15,762.4 1120.5,761.7 1120.85,761.5 1121.2,761.7 1121.55,763.6 1121.9,762.1 1122.25,762.0 1122.6,762.0 1122.95,762.6 1123.3,762.0 1123.65,762.1 1124,761.4 1124.35,761.9 1124.7,762.1 1125.05,761.8 1125.4,761.8 1125.75,761.6 1126.1,762.2 1126.45,763.9 1126.8,762.0 1127.15,762.5 1127.5,763.0 1127.85,762.9 1128.2,763.1 1128.55,762.9 1128.9,763.1 1129.25,762.4 1129.6,763.1 1129.95,763.5 1130.3,763.3 1130.65,762.8 1131,763.3 1131.35,762.6 1131.7,763.0 1132.05,761.1 1132.4,762.1 1132.75,761.7 1133.1,761.9 1133.45,761.4 1133.8,761.6 1134.15,761.2 1134.5,761.3 1134.85,760.9 1135.2,761.2 1135.55,761.0 1135.9,761.2 1136.25,762.6 1136.6,761.3 1136.95,761.6 1137.3,761.8 1137.65,760.0 1138,762.1 1138.35,761.5 1138.7,761.4 1139.05,761.7 1139.4,761.3 1139.75,760.8 1140.1,760.0 1140.45,761.2 1140.8,761.3 1141.15,761.4 1141.5,761.8 1141.85,761.1 1142.2,761.7 1142.55,761.3 1142.9,761.2 1143.25,761.5 1143.6,761.8 1143.95,761.2 1144.3,760.9 1144.65,761.1 1145,761.5 1145.35,761.6 1145.7,761.5 1146.05,762.0 1146.4,761.0 1146.75,762.6 1147.1,761.9 1147.45,761.9 1147.8,761.4 1148.15,761.7 1148.5,761.0 1148.85,761.8 1149.2,761.1 1149.55,762.5 1149.9,762.0 1150.25,762.4 1150.6,761.6 1150.95,761.7 1151.3,761.4 1151.65,761.1 1152,761.9 1152.35,762.1 1152.7,762.2 1153.05,760.7 1153.4,761.4 1153.75,761.5 1154.1,760.9 1154.45,761.2 1154.8,760.5 1155.15,761.9 1155.5,761.2 1155.85,760.9 1156.2,761.5 1156.55,762.5 1156.9,761.8 1157.25,761.2 1157.6,761.2 1157.95,762.2 1158.3,761.0 1158.65,761.4 1159,761.2 1159.35,761.4 1159.7,761.6 1160.05,760.9 1160.4,763.3 1160.75,761.9 1161.1,761.9 1161.45,762.3 1161.8,762.6 1162.15,762.9 1162.5,762.5 1162.85,762.5"/></g><g font-size="46" fill="#000"><text x="88.6" y="876.8" text-anchor="middle">10</text><text x="241.9" y="876.8" text-anchor="middle">20</text><text x="395.2" y="876.8" text-anchor="middle">30</text><text x="548.5" y="876.8" text-anchor="middle">40</text><text x="701.8" y="876.8" text-anchor="middle">50</text><text x="855.1" y="876.8" text-anchor="middle">60</text><text x="1008.4" y="876.8" text-anchor="middle">70</text><text x="1161.7" y="876.8" text-anchor="middle">80</text></g><g font-size="52" fill="#000"><text x="562.8" y="925">2</text><text x="590.8" y="925">θ</text><text x="630.7" y="924.7">(</text><text x="668.3" y="924.7">)</text></g><circle cx="658" cy="899" r="7.5" fill="none" stroke="#000" stroke-width="3"/><text font-size="52" fill="#000" transform="translate(62 585.75) rotate(-90)">Intensity(a.u.)</text><g fill="#000"><text font-size="42"><tspan x="295.3" y="94">T</tspan><tspan x="322.9" y="94">i</tspan><tspan x="333.95" y="94">O</tspan><tspan x="364.7" y="105" font-size="29">2</tspan></text><text font-size="42"><tspan x="514.75" y="94">C</tspan><tspan x="544.6" y="94">e</tspan><tspan x="562.2" y="94">O</tspan><tspan x="593.8" y="105" font-size="29">2</tspan></text><text font-size="42"><tspan x="745.3" y="94">F</tspan><tspan x="769.8" y="94">e</tspan><tspan x="786.5" y="105" font-size="29">2</tspan><tspan x="801.85" y="94">O</tspan><tspan x="832.7" y="104.6" font-size="29">3</tspan></text><text font-size="42"><tspan x="982.3" y="94">P</tspan><tspan x="1007.3" y="94">t</tspan></text></g><g fill="#000"><path d="M12.3,0.2 C15.6,0.2 18.6,2.8 18.6,6.1 C18.6,7.4 18.2,8.4 17.6,9.2 C21.2,8.6 24,11.4 24,14.9 C24,18.3 21.4,20.8 18.2,20.8 C16.4,20.8 15,20.1 14,19 L15.2,24.8 L9,24.8 L10.3,19 C9.2,20.2 7.7,20.8 5.9,20.8 C2.6,20.8 0,18.2 0,14.9 C0,11.5 2.8,8.6 6.7,9.2 C6.2,8.4 6,7.3 6,6.1 C6,2.8 9,0.2 12.3,0.2 Z" transform="translate(267.0 70.5)"/><path d="M10.6,0 L21.2,12.5 L10.6,25 L0,12.5 Z" transform="translate(489.1 70.0)"/><path d="M11.4,4.1 L10.8,2.4 C10.1,0.8 9.3,0 8.2,0 L3.8,0 C1.5,0 0,1.8 0,4.2 L0,8.7 L1.1,10.9 L3.2,14.7 L7.1,18.6 L10.3,24 L12.8,24 L15,21 L17.9,17.6 L20.9,13.8 L22.5,11 L23.1,9.7 L23.1,4 C23.1,1.6 21.6,0 19.3,0 L15.6,0 C14,0 13,0.8 12.2,2.3 Z" transform="translate(716.8 71.0)"/><path d="M11.3,0 L12.9,0 L14.8,3.5 L16.9,6.6 L20,10.5 L21.8,13.3 L23,15.3 L23,20.2 L21.5,22.4 L20.7,23 L16.2,23 L14.1,20.9 L15,23.4 L15,26 L9.4,26 L9,24.6 L9.4,20.4 L7.8,23 L2.3,23 L0,20.3 L0,16.4 L1.2,13.3 L4.2,9.4 L7.1,5.25 L9.05,2.47 Z" transform="translate(955.8 70.0)"/><path d="M12.3,0.2 C15.6,0.2 18.6,2.8 18.6,6.1 C18.6,7.4 18.2,8.4 17.6,9.2 C21.2,8.6 24,11.4 24,14.9 C24,18.3 21.4,20.8 18.2,20.8 C16.4,20.8 15,20.1 14,19 L15.2,24.8 L9,24.8 L10.3,19 C9.2,20.2 7.7,20.8 5.9,20.8 C2.6,20.8 0,18.2 0,14.9 C0,11.5 2.8,8.6 6.7,9.2 C6.2,8.4 6,7.3 6,6.1 C6,2.8 9,0.2 12.3,0.2 Z" transform="translate(311.4 128.6)"/><path d="M10.6,0 L21.2,12.5 L10.6,25 L0,12.5 Z" transform="translate(366.0 212.0)"/><path d="M11.4,4.1 L10.8,2.4 C10.1,0.8 9.3,0 8.2,0 L3.8,0 C1.5,0 0,1.8 0,4.2 L0,8.7 L1.1,10.9 L3.2,14.7 L7.1,18.6 L10.3,24 L12.8,24 L15,21 L17.9,17.6 L20.9,13.8 L22.5,11 L23.1,9.7 L23.1,4 C23.1,1.6 21.6,0 19.3,0 L15.6,0 C14,0 13,0.8 12.2,2.3 Z" transform="translate(433.0 270.0)"/><path d="M11.4,4.1 L10.8,2.4 C10.1,0.8 9.3,0 8.2,0 L3.8,0 C1.5,0 0,1.8 0,4.2 L0,8.7 L1.1,10.9 L3.2,14.7 L7.1,18.6 L10.3,24 L12.8,24 L15,21 L17.9,17.6 L20.9,13.8 L22.5,11 L23.1,9.7 L23.1,4 C23.1,1.6 21.6,0 19.3,0 L15.6,0 C14,0 13,0.8 12.2,2.3 Z" transform="translate(471.0 267.5)"/><path d="M12.3,0.2 C15.6,0.2 18.6,2.8 18.6,6.1 C18.6,7.4 18.2,8.4 17.6,9.2 C21.2,8.6 24,11.4 24,14.9 C24,18.3 21.4,20.8 18.2,20.8 C16.4,20.8 15,20.1 14,19 L15.2,24.8 L9,24.8 L10.3,19 C9.2,20.2 7.7,20.8 5.9,20.8 C2.6,20.8 0,18.2 0,14.9 C0,11.5 2.8,8.6 6.7,9.2 C6.2,8.4 6,7.3 6,6.1 C6,2.8 9,0.2 12.3,0.2 Z" transform="translate(504.4 251.0)"/><path d="M11.3,0 L12.9,0 L14.8,3.5 L16.9,6.6 L20,10.5 L21.8,13.3 L23,15.3 L23,20.2 L21.5,22.4 L20.7,23 L16.2,23 L14.1,20.9 L15,23.4 L15,26 L9.4,26 L9,24.6 L9.4,20.4 L7.8,23 L2.3,23 L0,20.3 L0,16.4 L1.2,13.3 L4.2,9.4 L7.1,5.25 L9.05,2.47 Z" transform="translate(537.0 246.8)"/><path d="M12.3,0.2 C15.6,0.2 18.6,2.8 18.6,6.1 C18.6,7.4 18.2,8.4 17.6,9.2 C21.2,8.6 24,11.4 24,14.9 C24,18.3 21.4,20.8 18.2,20.8 C16.4,20.8 15,20.1 14,19 L15.2,24.8 L9,24.8 L10.3,19 C9.2,20.2 7.7,20.8 5.9,20.8 C2.6,20.8 0,18.2 0,14.9 C0,11.5 2.8,8.6 6.7,9.2 C6.2,8.4 6,7.3 6,6.1 C6,2.8 9,0.2 12.3,0.2 Z" transform="translate(663.0 233.0)"/><path d="M12.3,0.2 C15.6,0.2 18.6,2.8 18.6,6.1 C18.6,7.4 18.2,8.4 17.6,9.2 C21.2,8.6 24,11.4 24,14.9 C24,18.3 21.4,20.8 18.2,20.8 C16.4,20.8 15,20.1 14,19 L15.2,24.8 L9,24.8 L10.3,19 C9.2,20.2 7.7,20.8 5.9,20.8 C2.6,20.8 0,18.2 0,14.9 C0,11.5 2.8,8.6 6.7,9.2 C6.2,8.4 6,7.3 6,6.1 C6,2.8 9,0.2 12.3,0.2 Z" transform="translate(748.0 271.8)"/><path d="M12.3,0.2 C15.6,0.2 18.6,2.8 18.6,6.1 C18.6,7.4 18.2,8.4 17.6,9.2 C21.2,8.6 24,11.4 24,14.9 C24,18.3 21.4,20.8 18.2,20.8 C16.4,20.8 15,20.1 14,19 L15.2,24.8 L9,24.8 L10.3,19 C9.2,20.2 7.7,20.8 5.9,20.8 C2.6,20.8 0,18.2 0,14.9 C0,11.5 2.8,8.6 6.7,9.2 C6.2,8.4 6,7.3 6,6.1 C6,2.8 9,0.2 12.3,0.2 Z" transform="translate(771.8 269.0)"/><path d="M12.3,0.2 C15.6,0.2 18.6,2.8 18.6,6.1 C18.6,7.4 18.2,8.4 17.6,9.2 C21.2,8.6 24,11.4 24,14.9 C24,18.3 21.4,20.8 18.2,20.8 C16.4,20.8 15,20.1 14,19 L15.2,24.8 L9,24.8 L10.3,19 C9.2,20.2 7.7,20.8 5.9,20.8 C2.6,20.8 0,18.2 0,14.9 C0,11.5 2.8,8.6 6.7,9.2 C6.2,8.4 6,7.3 6,6.1 C6,2.8 9,0.2 12.3,0.2 Z" transform="translate(886.0 270.0)"/><path d="M12.3,0.2 C15.6,0.2 18.6,2.8 18.6,6.1 C18.6,7.4 18.2,8.4 17.6,9.2 C21.2,8.6 24,11.4 24,14.9 C24,18.3 21.4,20.8 18.2,20.8 C16.4,20.8 15,20.1 14,19 L15.2,24.8 L9,24.8 L10.3,19 C9.2,20.2 7.7,20.8 5.9,20.8 C2.6,20.8 0,18.2 0,14.9 C0,11.5 2.8,8.6 6.7,9.2 C6.2,8.4 6,7.3 6,6.1 C6,2.8 9,0.2 12.3,0.2 Z" transform="translate(1073.0 280.0)"/></g><g font-size="42" letter-spacing="-0.45"><text x="894.4" y="369.7" fill="#00ff00">0.5Pt/CFT-CM</text><text x="903.5" y="463" fill="#0000ff">0.5Pt/CFT-TB</text><text x="903.5" y="596" fill="#000000">0.5Pt/CFT-TC</text><text x="907" y="738" fill="#ff0000">0.5Pt/CFT-TS</text></g></svg></body></html>
